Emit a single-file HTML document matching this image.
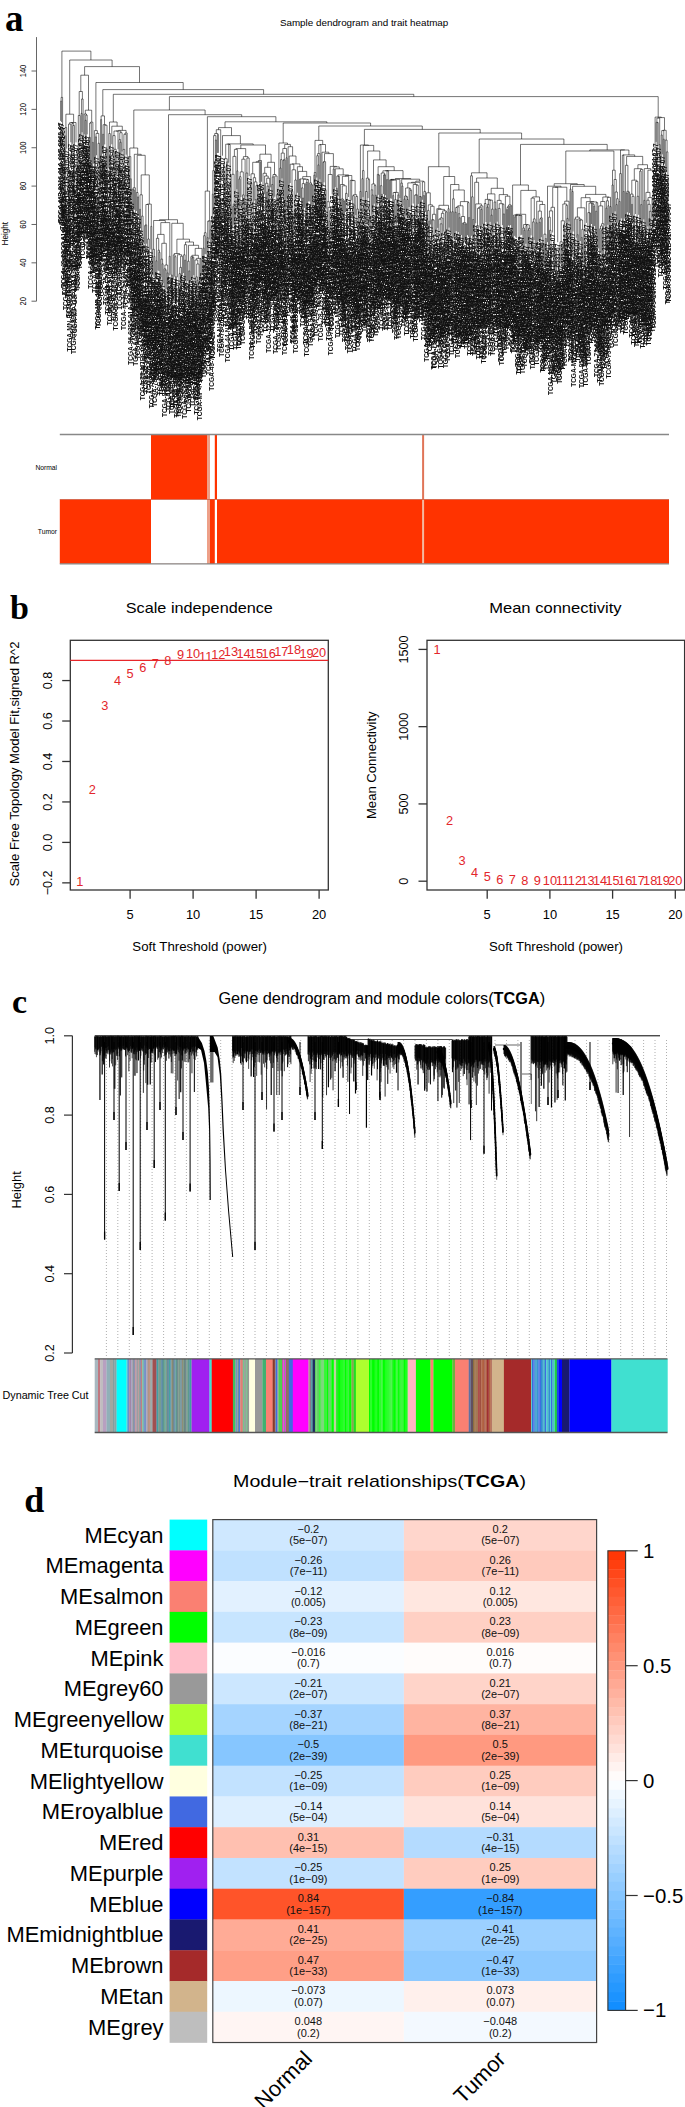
<!DOCTYPE html>
<html><head><meta charset="utf-8"><style>
html,body{margin:0;padding:0;background:#fff;width:685px;height:2107px;overflow:hidden}
svg{display:block}
text{font-family:"Liberation Sans",sans-serif}
</style></head><body>
<svg width="685" height="2107" viewBox="0 0 685 2107">
<rect x="0" y="0" width="685" height="2107" fill="#fff"/>
<text x="5" y="31.4" font-size="37" font-weight="bold" style="font-family:'Liberation Serif'">a</text>
<text x="10" y="618.6" font-size="34" font-weight="bold" style="font-family:'Liberation Serif'">b</text>
<text x="12" y="1012.6" font-size="34" font-weight="bold" style="font-family:'Liberation Serif'">c</text>
<text x="24.2" y="1511.9" font-size="36" font-weight="bold" style="font-family:'Liberation Serif'">d</text>
<text x="279.9" y="26.3" font-size="9.8" textLength="168.4" lengthAdjust="spacingAndGlyphs">Sample dendrogram and trait heatmap</text>
<line x1="36.5" y1="37.1" x2="36.5" y2="301.2" stroke="#555" stroke-width="0.9"/>
<line x1="31.5" y1="301.2" x2="36.5" y2="301.2" stroke="#555" stroke-width="0.9"/>
<text transform="translate(26.2,301.2) rotate(-90)" font-size="9" text-anchor="middle" textLength="8.44" lengthAdjust="spacingAndGlyphs">20</text>
<line x1="31.5" y1="262.83" x2="36.5" y2="262.83" stroke="#555" stroke-width="0.9"/>
<text transform="translate(26.2,262.83) rotate(-90)" font-size="9" text-anchor="middle" textLength="8.44" lengthAdjust="spacingAndGlyphs">40</text>
<line x1="31.5" y1="224.47" x2="36.5" y2="224.47" stroke="#555" stroke-width="0.9"/>
<text transform="translate(26.2,224.47) rotate(-90)" font-size="9" text-anchor="middle" textLength="8.44" lengthAdjust="spacingAndGlyphs">60</text>
<line x1="31.5" y1="186.1" x2="36.5" y2="186.1" stroke="#555" stroke-width="0.9"/>
<text transform="translate(26.2,186.1) rotate(-90)" font-size="9" text-anchor="middle" textLength="8.44" lengthAdjust="spacingAndGlyphs">80</text>
<line x1="31.5" y1="147.74" x2="36.5" y2="147.74" stroke="#555" stroke-width="0.9"/>
<text transform="translate(26.2,147.74) rotate(-90)" font-size="9" text-anchor="middle" textLength="12.66" lengthAdjust="spacingAndGlyphs">100</text>
<line x1="31.5" y1="109.37" x2="36.5" y2="109.37" stroke="#555" stroke-width="0.9"/>
<text transform="translate(26.2,109.37) rotate(-90)" font-size="9" text-anchor="middle" textLength="12.66" lengthAdjust="spacingAndGlyphs">120</text>
<line x1="31.5" y1="71" x2="36.5" y2="71" stroke="#555" stroke-width="0.9"/>
<text transform="translate(26.2,71) rotate(-90)" font-size="9" text-anchor="middle" textLength="12.66" lengthAdjust="spacingAndGlyphs">140</text>
<text transform="translate(7.7,233.7) rotate(-90)" font-size="8.4" text-anchor="middle" textLength="23.6" lengthAdjust="spacingAndGlyphs">Height</text>
<rect x="59.8" y="499.5" width="609.2" height="64.3" fill="#ff3300"/>
<rect x="151" y="434.5" width="56" height="65" fill="#ff3300"/>
<rect x="151" y="499.5" width="56" height="64.3" fill="#fff"/>
<rect x="207" y="434.5" width="3" height="129.3" fill="#eea088"/>
<rect x="214.8" y="434.5" width="2.2" height="65" fill="#ff3300"/>
<rect x="210" y="499.5" width="4.8" height="64.3" fill="#ff3300"/>
<rect x="214.8" y="499.5" width="2.2" height="64.3" fill="#fff"/>
<rect x="422.1" y="434.5" width="2" height="65" fill="#e07558"/>
<rect x="422.1" y="499.5" width="2" height="64.3" fill="#f4b9a0"/>
<line x1="59.8" y1="434.5" x2="669" y2="434.5" stroke="#888" stroke-width="1.3"/>
<line x1="59.8" y1="563.8" x2="669" y2="563.8" stroke="#888" stroke-width="1.3"/>
<line x1="59.8" y1="499.5" x2="669" y2="499.5" stroke="#b03a20" stroke-width="0.5"/>
<text x="57" y="470" font-size="6.8" text-anchor="end" textLength="21.6" lengthAdjust="spacingAndGlyphs">Normal</text>
<text x="57" y="534.3" font-size="6.8" text-anchor="end" textLength="19.2" lengthAdjust="spacingAndGlyphs">Tumor</text>
<path d="M60.6 101.1H61.6M61.1 97.4H62.6M63.7 167.5H64.7M64.2 135.9H65.7M65.0 127.6H66.7M68.8 185.5H69.8M67.8 167.3H69.3M68.5 124.1H70.8M73.9 167.6H74.9M72.9 125.5H74.4M71.9 123.6H73.7M69.7 122.6H72.8M71.2 122.5H76.0M65.9 114.2H73.6M77.0 149.7H78.0M77.5 148.1H79.0M78.3 115.5H80.1M81.1 113.4H82.1M81.6 99.0H83.1M79.2 91.5H82.4M85.2 120.3H86.2M85.7 115.1H87.2M84.2 114.0H86.5M88.3 139.1H89.3M88.8 137.4H90.3M89.6 123.1H91.3M92.4 142.4H93.4M90.5 122.2H92.9M85.3 110.2H91.7M80.8 75.2H88.5M95.4 136.9H96.5M97.5 207.4H98.5M98.0 143.3H99.5M96.0 133.4H98.8M94.4 130.6H97.4M100.6 119.6H101.6M102.6 134.3H103.6M105.7 149.4H106.7M106.2 149.3H107.7M104.7 125.2H107.0M103.1 124.7H105.8M101.1 115.9H104.5M109.8 154.1H110.8M108.8 133.5H110.3M114.9 151.7H115.9M115.4 151.5H117.0M113.9 149.3H116.2M112.9 135.6H115.1M114.0 131.0H118.0M120.0 142.2H121.1M119.0 139.6H120.6M119.8 132.7H122.1M116.0 131.0H120.9M124.1 170.1H125.2M123.1 149.4H124.7M123.9 134.3H126.2M125.0 133.0H127.2M118.5 130.4H126.1M111.8 126.2H122.3M109.5 122.0H117.1M128.2 157.0H129.3M130.3 178.8H131.3M128.8 156.6H130.8M133.4 190.2H134.4M132.3 189.3H133.9M133.1 187.8H135.4M137.5 196.9H138.5M136.4 192.5H138.0M139.5 209.3H140.5M142.6 262.2H143.6M141.6 216.1H143.1M140.0 194.8H142.3M144.6 225.7H145.7M145.2 224.9H146.7M148.7 260.2H149.8M147.7 239.0H149.3M145.9 204.5H148.5M150.8 226.4H151.8M147.2 204.1H151.3M141.2 174.9H149.3M137.2 155.3H145.2M134.3 154.3H141.2M129.8 148.0H137.7M153.9 256.5H154.9M152.8 249.3H154.4M155.9 260.8H156.9M159.0 252.2H160.0M158.0 250.2H159.5M156.4 238.3H158.7M162.1 263.8H163.1M161.0 259.1H162.6M165.1 269.9H166.2M164.1 268.8H165.7M167.2 272.9H168.2M164.9 265.0H167.7M161.8 243.3H166.3M157.6 234.4H164.1M169.2 256.3H170.3M160.8 222.6H169.8M153.6 220.5H165.3M171.3 275.0H172.3M175.4 276.7H176.4M174.4 256.7H175.9M173.3 254.9H175.1M178.5 287.4H179.5M179.0 273.7H180.5M179.8 267.4H181.5M180.6 256.2H182.6M177.4 254.7H181.6M174.2 253.5H179.5M184.6 260.2H185.6M183.6 254.8H185.1M184.4 244.7H186.7M188.7 270.9H189.7M187.7 261.2H189.2M191.8 257.9H192.8M192.3 257.2H193.8M190.8 256.7H193.1M196.9 280.3H197.9M195.9 276.9H197.4M196.7 264.0H199.0M194.9 260.0H197.8M200.0 258.7H201.0M196.3 258.4H200.5M191.9 255.3H198.4M195.2 248.4H202.0M188.5 245.3H198.6M185.5 242.0H193.5M176.9 239.2H189.5M171.8 223.3H183.2M159.5 219.7H177.5M203.1 248.1H204.1M203.6 235.7H205.1M204.4 232.7H206.1M207.2 237.7H208.2M207.7 221.1H209.2M210.2 229.8H211.3M208.5 220.9H210.8M205.2 191.1H209.6M212.3 194.2H213.3M212.8 170.6H214.3M215.4 140.0H216.4M213.6 135.6H215.9M217.4 134.6H218.4M214.7 133.5H217.9M219.5 203.5H220.5M220.0 202.3H221.5M216.3 129.7H220.7M224.6 178.5H225.6M223.6 166.6H225.1M226.6 161.9H227.7M224.3 158.7H227.2M229.7 184.1H230.7M228.7 144.5H230.2M225.7 144.2H229.5M232.8 206.4H233.8M233.3 204.1H234.8M231.8 174.3H234.1M232.9 156.4H235.9M236.9 170.9H237.9M234.4 149.4H237.4M238.9 178.9H240.0M239.5 176.7H241.0M242.0 200.3H243.0M242.5 194.9H244.1M240.2 171.9H243.3M241.8 159.2H245.1M247.1 194.9H248.2M246.1 173.0H247.7M246.9 158.0H249.2M243.4 156.6H248.0M235.9 148.6H245.7M251.2 225.2H252.3M250.2 183.1H251.8M255.3 199.5H256.4M257.4 186.0H258.4M255.9 185.6H257.9M254.3 181.9H256.9M253.3 177.7H255.6M251.0 173.8H254.4M252.7 162.3H259.4M256.1 161.7H260.5M258.3 160.5H261.5M262.5 192.0H263.5M266.6 192.0H267.6M267.1 186.1H268.7M265.6 183.3H267.9M266.7 178.2H269.7M264.6 176.0H268.2M263.0 173.3H266.4M264.7 167.3H270.7M271.7 184.5H272.8M272.3 176.9H273.8M275.8 211.8H276.9M276.4 194.7H277.9M274.8 176.0H277.1M273.0 174.5H276.0M267.7 162.3H274.5M259.9 154.2H271.1M240.8 145.0H265.5M227.6 143.9H253.2M222.5 135.6H240.4M218.5 127.6H231.5M279.9 168.0H281.0M280.5 159.6H282.0M283.0 160.1H284.0M283.5 159.8H285.1M281.2 153.1H284.3M286.1 157.8H287.1M282.8 148.5H286.6M292.2 217.0H293.3M291.2 191.2H292.8M294.3 209.7H295.3M294.8 180.0H296.3M292.0 169.8H295.6M290.2 164.2H293.8M299.4 179.4H300.4M302.5 198.0H303.5M301.5 187.9H303.0M302.2 183.6H304.5M305.6 183.8H306.6M306.1 182.4H307.6M306.8 179.6H308.6M303.4 179.2H307.7M299.9 178.9H305.6M311.7 185.4H312.7M310.7 184.4H312.2M309.7 182.9H311.5M302.7 176.6H310.6M298.4 171.4H306.7M297.4 166.7H302.5M292.0 163.9H299.9M289.2 156.0H296.0M288.1 146.7H292.6M284.7 144.4H290.4M278.9 143.0H287.5M313.8 175.2H314.8M314.3 172.5H315.8M317.9 164.9H318.9M316.8 155.7H318.4M317.6 153.6H319.9M318.8 144.8H320.9M323.0 162.2H324.0M325.0 189.8H326.1M323.5 161.7H325.6M329.1 221.4H330.2M329.7 210.6H331.2M328.1 207.4H330.4M327.1 201.7H329.3M328.2 174.5H332.2M333.2 169.0H334.3M336.3 188.3H337.3M338.4 176.4H339.4M336.8 176.1H338.9M343.5 201.0H344.5M342.5 199.9H344.0M341.4 198.9H343.2M346.6 221.0H347.6M345.5 193.4H347.1M342.3 185.8H346.3M340.4 184.5H344.3M342.4 176.3H348.6M349.6 217.9H350.7M353.7 205.1H354.8M352.7 195.7H354.3M357.8 222.2H358.9M356.8 209.1H358.4M355.8 196.5H357.6M353.5 194.7H356.7M351.7 180.6H355.1M350.2 180.3H353.4M345.5 175.5H351.8M337.9 174.9H348.6M335.3 168.8H343.2M333.8 166.9H339.3M330.2 166.4H336.5M324.5 153.6H333.4M322.0 152.2H328.9M319.9 144.5H325.5M315.0 140.4H322.7M359.9 191.4H360.9M361.9 178.7H363.0M362.5 170.6H364.0M365.0 200.7H366.0M365.5 191.5H367.1M369.1 216.2H370.1M368.1 179.6H369.6M366.3 178.2H368.9M372.2 194.9H373.2M371.2 189.8H372.7M375.3 195.3H376.3M374.2 185.6H375.8M371.9 184.0H375.0M378.3 175.0H379.4M377.3 174.4H378.8M381.4 194.4H382.4M380.4 185.7H381.9M383.5 174.9H384.5M384.0 174.8H385.5M381.2 173.0H384.7M386.5 179.6H387.6M387.0 170.8H388.6M382.9 170.8H387.8M392.7 195.6H393.7M395.8 204.3H396.8M394.7 199.6H396.3M393.2 192.5H395.5M397.8 194.9H398.8M394.4 192.4H398.3M391.7 180.1H396.3M390.6 179.8H394.0M389.6 179.8H392.3M391.0 179.4H399.9M401.9 186.1H402.9M400.9 183.1H402.4M404.0 199.1H405.0M407.0 199.5H408.1M406.0 196.7H407.5M404.5 196.1H406.8M411.1 214.1H412.2M410.1 190.4H411.6M409.1 188.9H410.9M405.6 188.0H410.0M414.2 212.2H415.2M414.7 195.0H416.3M415.5 194.8H417.3M416.4 185.2H418.3M413.2 184.5H417.3M407.8 182.9H415.3M420.4 196.8H421.4M419.3 196.5H420.9M411.5 182.3H420.1M423.4 195.6H424.5M423.9 191.4H425.5M422.4 181.8H424.7M415.8 181.1H423.6M401.7 179.2H419.7M395.4 178.5H410.7M385.4 170.6H403.0M378.1 166.7H394.2M373.5 159.9H386.1M367.6 151.0H379.8M363.2 145.4H373.7M360.4 145.0H368.5M428.6 221.2H429.6M427.5 210.4H429.1M433.7 247.7H434.7M432.7 219.9H434.2M431.6 219.7H433.4M432.5 214.3H435.7M430.6 206.3H434.1M428.3 204.8H432.4M426.5 192.8H430.3M439.8 239.5H440.9M440.3 223.8H441.9M438.8 219.2H441.1M440.0 218.0H442.9M441.4 213.3H443.9M445.0 231.6H446.0M445.5 211.9H447.0M442.7 210.8H446.2M437.8 209.4H444.5M436.8 208.7H441.1M448.0 208.7H449.1M438.9 205.3H448.5M450.1 211.9H451.1M452.1 211.7H453.2M452.6 198.8H454.2M455.2 212.2H456.2M455.7 207.5H457.3M459.3 217.7H460.3M458.3 213.7H459.8M456.5 206.9H459.1M463.4 224.3H464.4M462.4 223.2H463.9M465.5 223.9H466.5M463.2 222.8H466.0M461.4 216.5H464.6M457.8 205.8H463.0M468.5 217.6H469.6M467.5 202.6H469.0M460.4 201.6H468.3M453.4 190.0H464.3M450.6 184.5H458.9M443.7 176.5H454.7M428.4 166.7H449.2M472.6 219.5H473.7M471.6 196.8H473.1M470.6 175.8H472.4M477.8 232.8H478.8M476.7 225.5H478.3M477.5 208.3H479.8M480.8 209.4H481.9M478.7 207.3H481.3M480.0 205.9H482.9M475.7 203.9H481.4M474.7 182.3H478.6M483.9 234.2H484.9M484.4 203.5H486.0M487.0 207.0H488.0M487.5 204.3H489.0M491.1 215.1H492.1M491.6 209.1H493.1M490.1 200.1H492.4M488.3 200.1H491.2M485.2 199.4H489.7M495.2 209.0H496.2M494.2 202.0H495.7M487.5 193.9H494.9M500.3 239.2H501.3M499.3 227.0H500.8M498.3 208.4H500.1M503.4 213.9H504.4M502.4 204.2H503.9M499.2 203.7H503.1M497.2 200.4H501.1M506.5 209.6H507.5M507.0 207.4H508.5M507.7 206.3H509.5M510.6 205.8H511.6M508.6 204.9H511.1M505.4 196.2H509.9M499.2 194.6H507.6M491.2 188.3H503.4M476.6 178.0H497.3M471.5 172.8H487.0M514.7 216.8H515.7M515.2 215.7H516.7M517.7 247.4H518.8M518.2 244.4H519.8M520.8 215.6H521.8M519.0 215.4H521.3M515.9 215.2H520.2M513.6 215.0H518.1M523.9 230.2H524.9M522.9 228.0H524.4M525.9 225.7H527.0M528.0 230.0H529.0M528.5 228.3H530.0M526.4 224.8H529.3M523.6 224.5H527.9M515.8 214.3H525.7M532.1 237.5H533.1M532.6 221.9H534.1M533.4 218.9H535.2M531.1 198.1H534.3M536.2 222.8H537.2M539.3 222.3H540.3M539.8 218.8H541.3M540.5 217.9H542.3M538.2 211.1H541.4M543.4 243.8H544.4M545.4 238.5H546.4M543.9 234.2H545.9M539.8 204.5H544.9M536.7 201.3H542.4M532.7 196.9H539.5M520.8 190.4H536.1M512.6 185.0H528.4M550.5 246.8H551.6M549.5 230.3H551.0M548.5 217.2H550.3M549.4 210.9H552.6M555.7 249.9H556.7M554.6 248.9H556.2M553.6 247.8H555.4M551.0 207.3H554.5M552.7 187.3H557.7M558.7 254.4H559.8M559.2 245.6H560.8M561.8 247.3H562.8M560.0 241.8H562.3M563.9 223.9H564.9M561.2 220.8H564.4M566.9 218.4H568.0M565.9 205.3H567.4M562.8 204.0H566.7M564.7 201.2H569.0M555.2 187.2H566.8M547.5 186.2H561.0M570.0 189.1H571.0M572.1 191.5H573.1M574.1 238.9H575.1M574.6 218.9H576.2M577.2 234.7H578.2M579.2 220.1H580.3M581.3 237.5H582.3M581.8 229.3H583.3M579.7 220.0H582.6M577.7 219.0H581.2M575.4 217.1H579.4M584.4 248.8H585.4M577.4 207.8H584.9M587.4 236.7H588.5M589.5 213.2H590.5M587.9 212.6H590.0M593.6 206.1H594.6M592.6 204.2H594.1M591.5 203.3H593.3M589.0 203.1H592.4M595.6 211.2H596.7M596.1 202.7H597.7M590.7 201.9H596.9M586.4 201.6H593.8M581.1 197.7H590.1M600.8 230.6H601.8M599.7 228.8H601.3M600.5 226.0H602.8M601.6 223.7H603.8M598.7 205.9H602.7M600.7 201.5H604.9M605.9 208.1H606.9M607.9 205.8H609.0M606.4 200.8H608.4M610.0 206.6H611.0M607.4 197.3H610.5M602.8 197.0H609.0M585.6 194.4H605.9M572.6 186.3H595.7M570.5 184.5H584.2M554.2 183.7H577.3M612.0 185.0H613.1M616.1 204.6H617.2M616.6 198.7H618.2M615.1 192.0H617.4M614.1 179.5H616.3M612.5 170.2H615.2M565.8 151.0H613.9M619.2 201.5H620.2M619.7 173.6H621.3M623.3 191.5H624.3M622.3 155.2H623.8M626.4 193.0H627.4M628.4 192.2H629.5M626.9 191.3H628.9M625.4 165.3H627.9M631.5 204.4H632.5M633.6 216.7H634.6M632.0 196.3H634.1M630.5 194.1H633.0M636.6 224.8H637.7M637.1 196.3H638.7M635.6 181.4H637.9M631.8 180.2H636.8M640.7 204.6H641.8M639.7 171.1H641.2M640.5 169.4H642.8M634.3 168.7H641.6M643.8 200.4H644.8M648.9 218.6H650.0M649.4 211.3H651.0M647.9 204.3H650.2M646.9 200.2H649.1M648.0 197.6H652.0M645.9 192.4H650.0M653.0 189.0H654.1M647.9 170.2H653.5M644.3 168.6H650.7M637.9 164.7H647.5M626.6 156.4H642.7M623.0 154.9H634.7M620.5 150.0H628.9M589.8 149.9H624.7M520.5 144.4H607.2M479.2 139.0H563.9M438.8 133.0H521.6M364.4 129.4H480.2M318.8 126.0H422.3M283.2 123.0H370.6M225.0 121.8H326.9M207.4 116.7H275.9M168.5 114.7H241.7M133.8 110.0H205.1M657.1 122.6H658.2M656.1 122.3H657.6M659.2 144.6H660.2M656.9 118.1H659.7M661.2 135.0H662.3M663.3 139.2H664.3M661.7 130.6H663.8M667.4 180.0H668.4M666.4 151.9H667.9M665.3 140.1H667.1M662.8 130.3H666.2M658.3 117.6H664.5M655.1 117.1H661.4M169.4 96.6H658.2M113.3 94.3H413.8M102.8 89.6H263.6M95.9 82.5H183.2M84.6 66.6H139.5M69.7 60.0H112.1M61.9 51.1H90.9M60.6 101.1V120.9M61.6 101.1V122.1M61.1 97.4V101.1M62.6 97.4V125.0M63.7 167.5V186.5M64.7 167.5V194.1M64.2 135.9V167.5M65.7 135.9V208.3M65.0 127.6V135.9M66.7 127.6V148.6M68.8 185.5V217.7M69.8 185.5V247.7M67.8 167.3V197.0M69.3 167.3V185.5M68.5 124.1V167.3M70.8 124.1V142.3M73.9 167.6V252.9M74.9 167.6V232.6M72.9 125.5V143.8M74.4 125.5V167.6M71.9 123.6V168.4M73.7 123.6V125.5M69.7 122.6V124.1M72.8 122.6V123.6M71.2 122.5V122.6M76.0 122.5V142.4M65.9 114.2V127.6M73.6 114.2V122.5M77.0 149.7V189.4M78.0 149.7V188.9M77.5 148.1V149.7M79.0 148.1V166.4M78.3 115.5V148.1M80.1 115.5V164.4M81.1 113.4V137.4M82.1 113.4V132.3M81.6 99.0V113.4M83.1 99.0V160.1M79.2 91.5V115.5M82.4 91.5V99.0M85.2 120.3V140.5M86.2 120.3V143.7M85.7 115.1V120.3M87.2 115.1V134.4M84.2 114.0V134.4M86.5 114.0V115.1M88.3 139.1V158.5M89.3 139.1V157.4M88.8 137.4V139.1M90.3 137.4V188.5M89.6 123.1V137.4M91.3 123.1V164.0M92.4 142.4V173.7M93.4 142.4V163.7M90.5 122.2V123.1M92.9 122.2V142.4M85.3 110.2V114.0M91.7 110.2V122.2M80.8 75.2V91.5M88.5 75.2V110.2M95.4 136.9V169.9M96.5 136.9V155.3M97.5 207.4V225.8M98.5 207.4V225.8M98.0 143.3V207.4M99.5 143.3V209.1M96.0 133.4V136.9M98.8 133.4V143.3M94.4 130.6V189.1M97.4 130.6V133.4M100.6 119.6V195.6M101.6 119.6V160.0M102.6 134.3V153.8M103.6 134.3V158.6M105.7 149.4V203.2M106.7 149.4V168.7M106.2 149.3V149.4M107.7 149.3V212.3M104.7 125.2V144.5M107.0 125.2V149.3M103.1 124.7V134.3M105.8 124.7V125.2M101.1 115.9V119.6M104.5 115.9V124.7M109.8 154.1V225.0M110.8 154.1V213.3M108.8 133.5V168.2M110.3 133.5V154.1M114.9 151.7V177.5M115.9 151.7V229.3M115.4 151.5V151.7M117.0 151.5V171.9M113.9 149.3V221.0M116.2 149.3V151.5M112.9 135.6V155.9M115.1 135.6V149.3M114.0 131.0V135.6M118.0 131.0V149.3M120.0 142.2V208.9M121.1 142.2V163.1M119.0 139.6V193.7M120.6 139.6V142.2M119.8 132.7V139.6M122.1 132.7V151.5M116.0 131.0V131.0M120.9 131.0V132.7M124.1 170.1V229.9M125.2 170.1V208.4M123.1 149.4V168.7M124.7 149.4V170.1M123.9 134.3V149.4M126.2 134.3V154.7M125.0 133.0V134.3M127.2 133.0V163.5M118.5 130.4V131.0M126.1 130.4V133.0M111.8 126.2V144.3M122.3 126.2V130.4M109.5 122.0V133.5M117.1 122.0V126.2M128.2 157.0V186.3M129.3 157.0V186.5M130.3 178.8V264.9M131.3 178.8V200.6M128.8 156.6V157.0M130.8 156.6V178.8M133.4 190.2V230.2M134.4 190.2V209.8M132.3 189.3V239.9M133.9 189.3V190.2M133.1 187.8V189.3M135.4 187.8V264.2M137.5 196.9V258.1M138.5 196.9V215.9M136.4 192.5V211.2M138.0 192.5V196.9M139.5 209.3V241.2M140.5 209.3V227.7M142.6 262.2V298.0M143.6 262.2V282.9M141.6 216.1V234.3M143.1 216.1V262.2M140.0 194.8V209.3M142.3 194.8V216.1M144.6 225.7V244.3M145.7 225.7V292.7M145.2 224.9V225.7M146.7 224.9V243.7M148.7 260.2V293.5M149.8 260.2V278.8M147.7 239.0V257.6M149.3 239.0V260.2M145.9 204.5V224.9M148.5 204.5V239.0M150.8 226.4V249.5M151.8 226.4V307.1M147.2 204.1V204.5M151.3 204.1V226.4M141.2 174.9V194.8M149.3 174.9V204.1M137.2 155.3V192.5M145.2 155.3V174.9M134.3 154.3V187.8M141.2 154.3V155.3M129.8 148.0V156.6M137.7 148.0V154.3M153.9 256.5V276.8M154.9 256.5V304.0M152.8 249.3V274.8M154.4 249.3V256.5M155.9 260.8V280.3M156.9 260.8V278.9M159.0 252.2V271.1M160.0 252.2V293.6M158.0 250.2V270.5M159.5 250.2V252.2M156.4 238.3V260.8M158.7 238.3V250.2M162.1 263.8V294.9M163.1 263.8V283.2M161.0 259.1V277.1M162.6 259.1V263.8M165.1 269.9V316.4M166.2 269.9V289.1M164.1 268.8V287.3M165.7 268.8V269.9M167.2 272.9V294.0M168.2 272.9V310.9M164.9 265.0V268.8M167.7 265.0V272.9M161.8 243.3V259.1M166.3 243.3V265.0M157.6 234.4V238.3M164.1 234.4V243.3M169.2 256.3V275.7M170.3 256.3V274.8M160.8 222.6V234.4M169.8 222.6V256.3M153.6 220.5V249.3M165.3 220.5V222.6M171.3 275.0V313.8M172.3 275.0V308.4M175.4 276.7V304.1M176.4 276.7V316.2M174.4 256.7V276.7M175.9 256.7V276.7M173.3 254.9V278.9M175.1 254.9V256.7M178.5 287.4V317.0M179.5 287.4V312.9M179.0 273.7V287.4M180.5 273.7V297.0M179.8 267.4V273.7M181.5 267.4V287.8M180.6 256.2V267.4M182.6 256.2V274.7M177.4 254.7V277.3M181.6 254.7V256.2M174.2 253.5V254.9M179.5 253.5V254.7M184.6 260.2V318.2M185.6 260.2V280.1M183.6 254.8V273.0M185.1 254.8V260.2M184.4 244.7V254.8M186.7 244.7V303.2M188.7 270.9V310.2M189.7 270.9V297.6M187.7 261.2V281.1M189.2 261.2V270.9M191.8 257.9V278.4M192.8 257.9V304.7M192.3 257.2V257.9M193.8 257.2V275.2M190.8 256.7V283.0M193.1 256.7V257.2M196.9 280.3V312.6M197.9 280.3V299.4M195.9 276.9V296.3M197.4 276.9V280.3M196.7 264.0V276.9M199.0 264.0V283.5M194.9 260.0V280.8M197.8 260.0V264.0M200.0 258.7V316.8M201.0 258.7V280.7M196.3 258.4V260.0M200.5 258.4V258.7M191.9 255.3V256.7M198.4 255.3V258.4M195.2 248.4V255.3M202.0 248.4V275.1M188.5 245.3V261.2M198.6 245.3V248.4M185.5 242.0V244.7M193.5 242.0V245.3M176.9 239.2V253.5M189.5 239.2V242.0M171.8 223.3V275.0M183.2 223.3V239.2M159.5 219.7V220.5M177.5 219.7V223.3M203.1 248.1V271.4M204.1 248.1V276.7M203.6 235.7V248.1M205.1 235.7V254.1M204.4 232.7V235.7M206.1 232.7V254.5M207.2 237.7V261.1M208.2 237.7V271.5M207.7 221.1V237.7M209.2 221.1V239.4M210.2 229.8V249.3M211.3 229.8V290.6M208.5 220.9V221.1M210.8 220.9V229.8M205.2 191.1V232.7M209.6 191.1V220.9M212.3 194.2V259.1M213.3 194.2V214.3M212.8 170.6V194.2M214.3 170.6V219.0M215.4 140.0V205.7M216.4 140.0V159.6M213.6 135.6V170.6M215.9 135.6V140.0M217.4 134.6V153.0M218.4 134.6V152.9M214.7 133.5V135.6M217.9 133.5V134.6M219.5 203.5V249.0M220.5 203.5V221.6M220.0 202.3V203.5M221.5 202.3V256.3M216.3 129.7V133.5M220.7 129.7V202.3M224.6 178.5V197.0M225.6 178.5V226.3M223.6 166.6V214.4M225.1 166.6V178.5M226.6 161.9V181.2M227.7 161.9V261.0M224.3 158.7V166.6M227.2 158.7V161.9M229.7 184.1V205.9M230.7 184.1V228.0M228.7 144.5V162.7M230.2 144.5V184.1M225.7 144.2V158.7M229.5 144.2V144.5M232.8 206.4V228.4M233.8 206.4V224.7M233.3 204.1V206.4M234.8 204.1V235.3M231.8 174.3V248.1M234.1 174.3V204.1M232.9 156.4V174.3M235.9 156.4V250.0M236.9 170.9V189.3M237.9 170.9V223.5M234.4 149.4V156.4M237.4 149.4V170.9M238.9 178.9V248.4M240.0 178.9V244.9M239.5 176.7V178.9M241.0 176.7V197.1M242.0 200.3V235.9M243.0 200.3V244.2M242.5 194.9V200.3M244.1 194.9V213.3M240.2 171.9V176.7M243.3 171.9V194.9M241.8 159.2V171.9M245.1 159.2V218.9M247.1 194.9V215.3M248.2 194.9V218.1M246.1 173.0V196.3M247.7 173.0V194.9M246.9 158.0V173.0M249.2 158.0V176.1M243.4 156.6V159.2M248.0 156.6V158.0M235.9 148.6V149.4M245.7 148.6V156.6M251.2 225.2V258.9M252.3 225.2V246.6M250.2 183.1V221.7M251.8 183.1V225.2M255.3 199.5V232.2M256.4 199.5V217.9M257.4 186.0V206.2M258.4 186.0V242.8M255.9 185.6V199.5M257.9 185.6V186.0M254.3 181.9V200.6M256.9 181.9V185.6M253.3 177.7V231.1M255.6 177.7V181.9M251.0 173.8V183.1M254.4 173.8V177.7M252.7 162.3V173.8M259.4 162.3V182.8M256.1 161.7V162.3M260.5 161.7V234.5M258.3 160.5V161.7M261.5 160.5V181.8M262.5 192.0V221.6M263.5 192.0V211.9M266.6 192.0V214.4M267.6 192.0V224.1M267.1 186.1V192.0M268.7 186.1V251.1M265.6 183.3V230.8M267.9 183.3V186.1M266.7 178.2V183.3M269.7 178.2V198.7M264.6 176.0V194.3M268.2 176.0V178.2M263.0 173.3V192.0M266.4 173.3V176.0M264.7 167.3V173.3M270.7 167.3V187.4M271.7 184.5V202.6M272.8 184.5V230.6M272.3 176.9V184.5M273.8 176.9V197.9M275.8 211.8V250.0M276.9 211.8V230.2M276.4 194.7V211.8M277.9 194.7V214.8M274.8 176.0V196.7M277.1 176.0V194.7M273.0 174.5V176.9M276.0 174.5V176.0M267.7 162.3V167.3M274.5 162.3V174.5M259.9 154.2V160.5M271.1 154.2V162.3M240.8 145.0V148.6M265.5 145.0V154.2M227.6 143.9V144.2M253.2 143.9V145.0M222.5 135.6V155.7M240.4 135.6V143.9M218.5 127.6V129.7M231.5 127.6V135.6M279.9 168.0V187.1M281.0 168.0V221.9M280.5 159.6V168.0M282.0 159.6V178.4M283.0 160.1V199.1M284.0 160.1V238.1M283.5 159.8V160.1M285.1 159.8V250.2M281.2 153.1V159.6M284.3 153.1V159.8M286.1 157.8V246.3M287.1 157.8V198.1M282.8 148.5V153.1M286.6 148.5V157.8M292.2 217.0V241.7M293.3 217.0V242.9M291.2 191.2V210.4M292.8 191.2V217.0M294.3 209.7V230.4M295.3 209.7V252.3M294.8 180.0V209.7M296.3 180.0V198.1M292.0 169.8V191.2M295.6 169.8V180.0M290.2 164.2V183.1M293.8 164.2V169.8M299.4 179.4V200.9M300.4 179.4V198.5M302.5 198.0V226.3M303.5 198.0V217.9M301.5 187.9V211.3M303.0 187.9V198.0M302.2 183.6V187.9M304.5 183.6V207.9M305.6 183.8V242.2M306.6 183.8V252.5M306.1 182.4V183.8M307.6 182.4V218.1M306.8 179.6V182.4M308.6 179.6V201.5M303.4 179.2V183.6M307.7 179.2V179.6M299.9 178.9V179.4M305.6 178.9V179.2M311.7 185.4V204.2M312.7 185.4V235.0M310.7 184.4V244.5M312.2 184.4V185.4M309.7 182.9V201.5M311.5 182.9V184.4M302.7 176.6V178.9M310.6 176.6V182.9M298.4 171.4V211.6M306.7 171.4V176.6M297.4 166.7V192.8M302.5 166.7V171.4M292.0 163.9V164.2M299.9 163.9V166.7M289.2 156.0V194.3M296.0 156.0V163.9M288.1 146.7V216.4M292.6 146.7V156.0M284.7 144.4V148.5M290.4 144.4V146.7M278.9 143.0V248.1M287.5 143.0V144.4M313.8 175.2V215.2M314.8 175.2V193.8M314.3 172.5V175.2M315.8 172.5V236.6M317.9 164.9V183.6M318.9 164.9V206.9M316.8 155.7V177.6M318.4 155.7V164.9M317.6 153.6V155.7M319.9 153.6V179.4M318.8 144.8V153.6M320.9 144.8V241.0M323.0 162.2V186.5M324.0 162.2V182.4M325.0 189.8V223.4M326.1 189.8V208.7M323.5 161.7V162.2M325.6 161.7V189.8M329.1 221.4V240.0M330.2 221.4V254.0M329.7 210.6V221.4M331.2 210.6V229.6M328.1 207.4V226.4M330.4 207.4V210.6M327.1 201.7V224.0M329.3 201.7V207.4M328.2 174.5V201.7M332.2 174.5V194.4M333.2 169.0V213.4M334.3 169.0V194.2M336.3 188.3V214.2M337.3 188.3V233.3M338.4 176.4V196.2M339.4 176.4V202.0M336.8 176.1V188.3M338.9 176.1V176.4M343.5 201.0V226.8M344.5 201.0V237.9M342.5 199.9V219.7M344.0 199.9V201.0M341.4 198.9V232.7M343.2 198.9V199.9M346.6 221.0V241.1M347.6 221.0V250.3M345.5 193.4V212.1M347.1 193.4V221.0M342.3 185.8V198.9M346.3 185.8V193.4M340.4 184.5V207.0M344.3 184.5V185.8M342.4 176.3V184.5M348.6 176.3V197.0M349.6 217.9V252.5M350.7 217.9V236.4M353.7 205.1V230.2M354.8 205.1V251.0M352.7 195.7V218.6M354.3 195.7V205.1M357.8 222.2V249.0M358.9 222.2V243.1M356.8 209.1V227.2M358.4 209.1V222.2M355.8 196.5V215.1M357.6 196.5V209.1M353.5 194.7V195.7M356.7 194.7V196.5M351.7 180.6V200.4M355.1 180.6V194.7M350.2 180.3V217.9M353.4 180.3V180.6M345.5 175.5V176.3M351.8 175.5V180.3M337.9 174.9V176.1M348.6 174.9V175.5M335.3 168.8V187.3M343.2 168.8V174.9M333.8 166.9V169.0M339.3 166.9V168.8M330.2 166.4V174.5M336.5 166.4V166.9M324.5 153.6V161.7M333.4 153.6V166.4M322.0 152.2V191.9M328.9 152.2V153.6M319.9 144.5V144.8M325.5 144.5V152.2M315.0 140.4V172.5M322.7 140.4V144.5M359.9 191.4V239.2M360.9 191.4V209.7M361.9 178.7V220.5M363.0 178.7V197.2M362.5 170.6V178.7M364.0 170.6V224.8M365.0 200.7V230.8M366.0 200.7V220.1M365.5 191.5V200.7M367.1 191.5V224.6M369.1 216.2V236.0M370.1 216.2V241.2M368.1 179.6V198.2M369.6 179.6V216.2M366.3 178.2V191.5M368.9 178.2V179.6M372.2 194.9V214.4M373.2 194.9V229.2M371.2 189.8V241.0M372.7 189.8V194.9M375.3 195.3V236.5M376.3 195.3V233.1M374.2 185.6V203.7M375.8 185.6V195.3M371.9 184.0V189.8M375.0 184.0V185.6M378.3 175.0V194.8M379.4 175.0V210.0M377.3 174.4V205.3M378.8 174.4V175.0M381.4 194.4V227.9M382.4 194.4V212.5M380.4 185.7V215.7M381.9 185.7V194.4M383.5 174.9V194.1M384.5 174.9V230.3M384.0 174.8V174.9M385.5 174.8V195.3M381.2 173.0V185.7M384.7 173.0V174.8M386.5 179.6V229.8M387.6 179.6V199.1M387.0 170.8V179.6M388.6 170.8V205.8M382.9 170.8V173.0M387.8 170.8V170.8M392.7 195.6V214.7M393.7 195.6V225.6M395.8 204.3V223.8M396.8 204.3V238.1M394.7 199.6V232.1M396.3 199.6V204.3M393.2 192.5V195.6M395.5 192.5V199.6M397.8 194.9V213.9M398.8 194.9V238.2M394.4 192.4V192.5M398.3 192.4V194.9M391.7 180.1V198.8M396.3 180.1V192.4M390.6 179.8V198.4M394.0 179.8V180.1M389.6 179.8V229.1M392.3 179.8V179.8M391.0 179.4V179.8M399.9 179.4V198.0M401.9 186.1V215.8M402.9 186.1V205.5M400.9 183.1V202.6M402.4 183.1V186.1M404.0 199.1V226.1M405.0 199.1V221.5M407.0 199.5V232.2M408.1 199.5V217.8M406.0 196.7V215.9M407.5 196.7V199.5M404.5 196.1V199.1M406.8 196.1V196.7M411.1 214.1V232.2M412.2 214.1V235.2M410.1 190.4V209.9M411.6 190.4V214.1M409.1 188.9V207.0M410.9 188.9V190.4M405.6 188.0V196.1M410.0 188.0V188.9M414.2 212.2V232.5M415.2 212.2V238.8M414.7 195.0V212.2M416.3 195.0V216.6M415.5 194.8V195.0M417.3 194.8V218.9M416.4 185.2V194.8M418.3 185.2V204.0M413.2 184.5V203.6M417.3 184.5V185.2M407.8 182.9V188.0M415.3 182.9V184.5M420.4 196.8V216.0M421.4 196.8V220.6M419.3 196.5V217.4M420.9 196.5V196.8M411.5 182.3V182.9M420.1 182.3V196.5M423.4 195.6V238.5M424.5 195.6V216.8M423.9 191.4V195.6M425.5 191.4V212.1M422.4 181.8V199.8M424.7 181.8V191.4M415.8 181.1V182.3M423.6 181.1V181.8M401.7 179.2V183.1M419.7 179.2V181.1M395.4 178.5V179.4M410.7 178.5V179.2M385.4 170.6V170.8M403.0 170.6V178.5M378.1 166.7V174.4M394.2 166.7V170.6M373.5 159.9V184.0M386.1 159.9V166.7M367.6 151.0V178.2M379.8 151.0V159.9M363.2 145.4V170.6M373.7 145.4V151.0M360.4 145.0V191.4M368.5 145.0V145.4M428.6 221.2V242.2M429.6 221.2V253.2M427.5 210.4V245.9M429.1 210.4V221.2M433.7 247.7V269.3M434.7 247.7V267.3M432.7 219.9V238.9M434.2 219.9V247.7M431.6 219.7V245.1M433.4 219.7V219.9M432.5 214.3V219.7M435.7 214.3V232.9M430.6 206.3V224.5M434.1 206.3V214.3M428.3 204.8V210.4M432.4 204.8V206.3M426.5 192.8V259.5M430.3 192.8V204.8M439.8 239.5V261.1M440.9 239.5V266.1M440.3 223.8V239.5M441.9 223.8V243.3M438.8 219.2V240.8M441.1 219.2V223.8M440.0 218.0V219.2M442.9 218.0V236.2M441.4 213.3V218.0M443.9 213.3V231.4M445.0 231.6V250.7M446.0 231.6V267.6M445.5 211.9V231.6M447.0 211.9V229.9M442.7 210.8V213.3M446.2 210.8V211.9M437.8 209.4V227.9M444.5 209.4V210.8M436.8 208.7V242.4M441.1 208.7V209.4M448.0 208.7V259.5M449.1 208.7V227.6M438.9 205.3V208.7M448.5 205.3V208.7M450.1 211.9V232.8M451.1 211.9V234.2M452.1 211.7V255.0M453.2 211.7V238.2M452.6 198.8V211.7M454.2 198.8V239.8M455.2 212.2V251.9M456.2 212.2V231.2M455.7 207.5V212.2M457.3 207.5V257.6M459.3 217.7V247.3M460.3 217.7V236.8M458.3 213.7V232.1M459.8 213.7V217.7M456.5 206.9V207.5M459.1 206.9V213.7M463.4 224.3V244.6M464.4 224.3V242.3M462.4 223.2V248.6M463.9 223.2V224.3M465.5 223.9V244.0M466.5 223.9V249.0M463.2 222.8V223.2M466.0 222.8V223.9M461.4 216.5V235.1M464.6 216.5V222.8M457.8 205.8V206.9M463.0 205.8V216.5M468.5 217.6V236.8M469.6 217.6V254.0M467.5 202.6V235.2M469.0 202.6V217.6M460.4 201.6V205.8M468.3 201.6V202.6M453.4 190.0V198.8M464.3 190.0V201.6M450.6 184.5V211.9M458.9 184.5V190.0M443.7 176.5V205.3M454.7 176.5V184.5M428.4 166.7V192.8M449.2 166.7V176.5M472.6 219.5V253.4M473.7 219.5V240.4M471.6 196.8V235.8M473.1 196.8V219.5M470.6 175.8V241.3M472.4 175.8V196.8M477.8 232.8V251.6M478.8 232.8V257.0M476.7 225.5V247.7M478.3 225.5V232.8M477.5 208.3V225.5M479.8 208.3V227.5M480.8 209.4V227.6M481.9 209.4V258.4M478.7 207.3V208.3M481.3 207.3V209.4M480.0 205.9V207.3M482.9 205.9V224.3M475.7 203.9V223.3M481.4 203.9V205.9M474.7 182.3V253.9M478.6 182.3V203.9M483.9 234.2V262.9M484.9 234.2V256.7M484.4 203.5V234.2M486.0 203.5V222.0M487.0 207.0V225.9M488.0 207.0V248.3M487.5 204.3V207.0M489.0 204.3V227.1M491.1 215.1V254.3M492.1 215.1V234.4M491.6 209.1V215.1M493.1 209.1V252.3M490.1 200.1V221.9M492.4 200.1V209.1M488.3 200.1V204.3M491.2 200.1V200.1M485.2 199.4V203.5M489.7 199.4V200.1M495.2 209.0V234.1M496.2 209.0V247.3M494.2 202.0V223.7M495.7 202.0V209.0M487.5 193.9V199.4M494.9 193.9V202.0M500.3 239.2V259.4M501.3 239.2V262.5M499.3 227.0V247.6M500.8 227.0V239.2M498.3 208.4V227.0M500.1 208.4V227.0M503.4 213.9V240.0M504.4 213.9V252.0M502.4 204.2V225.2M503.9 204.2V213.9M499.2 203.7V208.4M503.1 203.7V204.2M497.2 200.4V221.7M501.1 200.4V203.7M506.5 209.6V248.7M507.5 209.6V228.6M507.0 207.4V209.6M508.5 207.4V225.5M507.7 206.3V207.4M509.5 206.3V226.6M510.6 205.8V225.2M511.6 205.8V243.4M508.6 204.9V206.3M511.1 204.9V205.8M505.4 196.2V240.2M509.9 196.2V204.9M499.2 194.6V200.4M507.6 194.6V196.2M491.2 188.3V193.9M503.4 188.3V194.6M476.6 178.0V182.3M497.3 178.0V188.3M471.5 172.8V175.8M487.0 172.8V178.0M514.7 216.8V235.9M515.7 216.8V237.3M515.2 215.7V216.8M516.7 215.7V238.1M517.7 247.4V266.0M518.8 247.4V273.9M518.2 244.4V247.4M519.8 244.4V270.6M520.8 215.6V235.4M521.8 215.6V234.8M519.0 215.4V244.4M521.3 215.4V215.6M515.9 215.2V215.7M520.2 215.2V215.4M513.6 215.0V252.4M518.1 215.0V215.2M523.9 230.2V248.9M524.9 230.2V262.8M522.9 228.0V272.1M524.4 228.0V230.2M525.9 225.7V243.8M527.0 225.7V249.5M528.0 230.0V251.7M529.0 230.0V248.3M528.5 228.3V230.0M530.0 228.3V255.7M526.4 224.8V225.7M529.3 224.8V228.3M523.6 224.5V228.0M527.9 224.5V224.8M515.8 214.3V215.0M525.7 214.3V224.5M532.1 237.5V260.5M533.1 237.5V267.4M532.6 221.9V237.5M534.1 221.9V240.1M533.4 218.9V221.9M535.2 218.9V250.1M531.1 198.1V235.4M534.3 198.1V218.9M536.2 222.8V262.6M537.2 222.8V248.4M539.3 222.3V240.4M540.3 222.3V253.1M539.8 218.8V222.3M541.3 218.8V237.2M540.5 217.9V218.8M542.3 217.9V270.5M538.2 211.1V241.2M541.4 211.1V217.9M543.4 243.8V266.2M544.4 243.8V261.8M545.4 238.5V269.1M546.4 238.5V258.8M543.9 234.2V243.8M545.9 234.2V238.5M539.8 204.5V211.1M544.9 204.5V234.2M536.7 201.3V222.8M542.4 201.3V204.5M532.7 196.9V198.1M539.5 196.9V201.3M520.8 190.4V214.3M536.1 190.4V196.9M512.6 185.0V249.8M528.4 185.0V190.4M550.5 246.8V289.9M551.6 246.8V273.8M549.5 230.3V249.5M551.0 230.3V246.8M548.5 217.2V257.0M550.3 217.2V230.3M549.4 210.9V217.2M552.6 210.9V232.5M555.7 249.9V271.1M556.7 249.9V274.2M554.6 248.9V268.4M556.2 248.9V249.9M553.6 247.8V283.0M555.4 247.8V248.9M551.0 207.3V210.9M554.5 207.3V247.8M552.7 187.3V207.3M557.7 187.3V242.2M558.7 254.4V281.0M559.8 254.4V279.4M559.2 245.6V254.4M560.8 245.6V263.8M561.8 247.3V269.7M562.8 247.3V269.4M560.0 241.8V245.6M562.3 241.8V247.3M563.9 223.9V242.2M564.9 223.9V265.8M561.2 220.8V241.8M564.4 220.8V223.9M566.9 218.4V238.0M568.0 218.4V246.5M565.9 205.3V223.3M567.4 205.3V218.4M562.8 204.0V220.8M566.7 204.0V205.3M564.7 201.2V204.0M569.0 201.2V221.5M555.2 187.2V187.3M566.8 187.2V201.2M547.5 186.2V242.2M561.0 186.2V187.2M570.0 189.1V238.9M571.0 189.1V258.8M572.1 191.5V257.6M573.1 191.5V231.5M574.1 238.9V283.1M575.1 238.9V260.6M574.6 218.9V238.9M576.2 218.9V237.8M577.2 234.7V260.0M578.2 234.7V253.3M579.2 220.1V250.7M580.3 220.1V241.1M581.3 237.5V286.7M582.3 237.5V258.4M581.8 229.3V237.5M583.3 229.3V262.7M579.7 220.0V220.1M582.6 220.0V229.3M577.7 219.0V234.7M581.2 219.0V220.0M575.4 217.1V218.9M579.4 217.1V219.0M584.4 248.8V267.2M585.4 248.8V284.5M577.4 207.8V217.1M584.9 207.8V248.8M587.4 236.7V256.2M588.5 236.7V265.1M589.5 213.2V233.3M590.5 213.2V241.8M587.9 212.6V236.7M590.0 212.6V213.2M593.6 206.1V240.2M594.6 206.1V226.0M592.6 204.2V230.3M594.1 204.2V206.1M591.5 203.3V224.0M593.3 203.3V204.2M589.0 203.1V212.6M592.4 203.1V203.3M595.6 211.2V233.2M596.7 211.2V276.9M596.1 202.7V211.2M597.7 202.7V251.2M590.7 201.9V203.1M596.9 201.9V202.7M586.4 201.6V222.9M593.8 201.6V201.9M581.1 197.7V207.8M590.1 197.7V201.6M600.8 230.6V252.3M601.8 230.6V283.2M599.7 228.8V281.3M601.3 228.8V230.6M600.5 226.0V228.8M602.8 226.0V256.9M601.6 223.7V226.0M603.8 223.7V268.9M598.7 205.9V248.4M602.7 205.9V223.7M600.7 201.5V205.9M604.9 201.5V225.7M605.9 208.1V254.0M606.9 208.1V265.0M607.9 205.8V224.8M609.0 205.8V277.2M606.4 200.8V208.1M608.4 200.8V205.8M610.0 206.6V229.3M611.0 206.6V245.9M607.4 197.3V200.8M610.5 197.3V206.6M602.8 197.0V201.5M609.0 197.0V197.3M585.6 194.4V197.7M605.9 194.4V197.0M572.6 186.3V191.5M595.7 186.3V194.4M570.5 184.5V189.1M584.2 184.5V186.3M554.2 183.7V186.2M577.3 183.7V184.5M612.0 185.0V213.8M613.1 185.0V225.3M616.1 204.6V245.1M617.2 204.6V222.7M616.6 198.7V204.6M618.2 198.7V226.8M615.1 192.0V211.4M617.4 192.0V198.7M614.1 179.5V230.1M616.3 179.5V192.0M612.5 170.2V185.0M615.2 170.2V179.5M565.8 151.0V183.7M613.9 151.0V170.2M619.2 201.5V229.7M620.2 201.5V221.0M619.7 173.6V201.5M621.3 173.6V218.4M623.3 191.5V228.4M624.3 191.5V218.6M622.3 155.2V232.1M623.8 155.2V191.5M626.4 193.0V219.2M627.4 193.0V212.3M628.4 192.2V217.8M629.5 192.2V213.0M626.9 191.3V193.0M628.9 191.3V192.2M625.4 165.3V234.7M627.9 165.3V191.3M631.5 204.4V236.2M632.5 204.4V222.8M633.6 216.7V242.1M634.6 216.7V236.0M632.0 196.3V204.4M634.1 196.3V216.7M630.5 194.1V215.6M633.0 194.1V196.3M636.6 224.8V245.8M637.7 224.8V243.9M637.1 196.3V224.8M638.7 196.3V214.8M635.6 181.4V214.0M637.9 181.4V196.3M631.8 180.2V194.1M636.8 180.2V181.4M640.7 204.6V224.7M641.8 204.6V226.3M639.7 171.1V242.2M641.2 171.1V204.6M640.5 169.4V171.1M642.8 169.4V244.8M634.3 168.7V180.2M641.6 168.7V169.4M643.8 200.4V219.4M644.8 200.4V228.0M648.9 218.6V244.6M650.0 218.6V238.4M649.4 211.3V218.6M651.0 211.3V230.9M647.9 204.3V226.4M650.2 204.3V211.3M646.9 200.2V235.0M649.1 200.2V204.3M648.0 197.6V200.2M652.0 197.6V217.4M645.9 192.4V243.1M650.0 192.4V197.6M653.0 189.0V231.7M654.1 189.0V226.4M647.9 170.2V192.4M653.5 170.2V189.0M644.3 168.6V200.4M650.7 168.6V170.2M637.9 164.7V168.7M647.5 164.7V168.6M626.6 156.4V165.3M642.7 156.4V164.7M623.0 154.9V155.2M634.7 154.9V156.4M620.5 150.0V173.6M628.9 150.0V154.9M589.8 149.9V151.0M624.7 149.9V150.0M520.5 144.4V185.0M607.2 144.4V149.9M479.2 139.0V172.8M563.9 139.0V144.4M438.8 133.0V166.7M521.6 133.0V139.0M364.4 129.4V145.0M480.2 129.4V133.0M318.8 126.0V140.4M422.3 126.0V129.4M283.2 123.0V143.0M370.6 123.0V126.0M225.0 121.8V127.6M326.9 121.8V123.0M207.4 116.7V191.1M275.9 116.7V121.8M168.5 114.7V219.7M241.7 114.7V116.7M133.8 110.0V148.0M205.1 110.0V114.7M657.1 122.6V167.2M658.2 122.6V145.7M656.1 122.3V141.9M657.6 122.3V122.6M659.2 144.6V162.9M660.2 144.6V177.8M656.9 118.1V122.3M659.7 118.1V144.6M661.2 135.0V164.7M662.3 135.0V154.4M663.3 139.2V173.6M664.3 139.2V164.1M661.7 130.6V135.0M663.8 130.6V139.2M667.4 180.0V204.2M668.4 180.0V201.3M666.4 151.9V171.8M667.9 151.9V180.0M665.3 140.1V187.6M667.1 140.1V151.9M662.8 130.3V130.6M666.2 130.3V140.1M658.3 117.6V118.1M664.5 117.6V130.3M655.1 117.1V147.6M661.4 117.1V117.6M169.4 96.6V110.0M658.2 96.6V117.1M113.3 94.3V122.0M413.8 94.3V96.6M102.8 89.6V115.9M263.6 89.6V94.3M95.9 82.5V130.6M183.2 82.5V89.6M84.6 66.6V75.2M139.5 66.6V82.5M69.7 60.0V114.2M112.1 60.0V66.6M61.9 51.1V97.4M90.9 51.1V60.0" stroke="#000" stroke-width="0.55" fill="none"/>
<filter id="gs"><feColorMatrix type="saturate" values="0"/></filter><g font-size="6.5" font-weight="bold" fill="#111" text-anchor="end" filter="url(#gs)"><text transform="translate(62.9,122.4) rotate(-90)">TCGA-MP-3316-11A-11R-9869-07</text><text transform="translate(63.9,123.6) rotate(-90)">TCGA-50-31W6-02A-11R-9484-07</text><text transform="translate(64.9,126.5) rotate(-90)">TCGA-MN-D7P2-01B-31R-2571-07</text><text transform="translate(66.0,188.0) rotate(-90)">TCGA-49-02G7-01A-31R-8678-07</text><text transform="translate(67.0,195.6) rotate(-90)">TCGA-55-15P0-01A-21R-7765-07</text><text transform="translate(68.0,209.8) rotate(-90)">TCGA-L9-71K8-01B-01R-2109-07</text><text transform="translate(69.0,150.1) rotate(-90)">TCGA-MN-F258-01B-21R-5816-07</text><text transform="translate(70.1,198.5) rotate(-90)">TCGA-91-F3T7-01A-11R-8400-07</text><text transform="translate(71.1,219.2) rotate(-90)">TCGA-64-6781-01B-11R-3358-07</text><text transform="translate(72.1,249.2) rotate(-90)">TCGA-MN-B676-01A-11R-3518-07</text><text transform="translate(73.1,143.8) rotate(-90)">TCGA-50-P2J8-01B-01R-7634-07</text><text transform="translate(74.2,169.9) rotate(-90)">TCGA-50-X426-11A-21R-2283-07</text><text transform="translate(75.2,145.3) rotate(-90)">TCGA-67-G876-01A-31R-4336-07</text><text transform="translate(76.2,254.4) rotate(-90)">TCGA-NJ-89Z1-11A-21R-5381-07</text><text transform="translate(77.2,234.1) rotate(-90)">TCGA-MP-G3P1-11A-31R-7302-07</text><text transform="translate(78.3,143.9) rotate(-90)">TCGA-91-T5V1-01A-21R-9701-07</text><text transform="translate(79.3,190.9) rotate(-90)">TCGA-44-A8R8-01A-31R-4648-07</text><text transform="translate(80.3,190.4) rotate(-90)">TCGA-S2-6525-01A-31R-4773-07</text><text transform="translate(81.3,167.9) rotate(-90)">TCGA-L4-X0P6-01B-01R-1115-07</text><text transform="translate(82.4,165.9) rotate(-90)">TCGA-MN-N3P9-02A-21R-5934-07</text><text transform="translate(83.4,138.9) rotate(-90)">TCGA-67-35B7-01A-01R-6647-07</text><text transform="translate(84.4,133.8) rotate(-90)">TCGA-44-53G9-01A-31R-7117-07</text><text transform="translate(85.4,161.6) rotate(-90)">TCGA-95-5461-11A-11R-5101-07</text><text transform="translate(86.5,135.9) rotate(-90)">TCGA-86-2592-01A-21R-1929-07</text><text transform="translate(87.5,142.0) rotate(-90)">TCGA-J2-3658-01A-21R-1366-07</text><text transform="translate(88.5,145.2) rotate(-90)">TCGA-MP-D907-11A-21R-2228-07</text><text transform="translate(89.5,135.9) rotate(-90)">TCGA-64-5786-11A-31R-2932-07</text><text transform="translate(90.6,160.0) rotate(-90)">TCGA-99-L175-02A-01R-2855-07</text><text transform="translate(91.6,158.9) rotate(-90)">TCGA-50-R473-01A-31R-6310-07</text><text transform="translate(92.6,190.0) rotate(-90)">TCGA-L9-8194-11A-31R-1514-07</text><text transform="translate(93.6,165.5) rotate(-90)">TCGA-97-P3Y7-11A-31R-9380-07</text><text transform="translate(94.7,175.2) rotate(-90)">TCGA-J2-68A9-01A-11R-1241-07</text><text transform="translate(95.7,165.2) rotate(-90)">TCGA-91-A5R9-01B-31R-8418-07</text><text transform="translate(96.7,190.6) rotate(-90)">TCGA-MN-V597-02A-31R-6374-07</text><text transform="translate(97.7,171.4) rotate(-90)">TCGA-49-X3G5-02A-31R-1739-07</text><text transform="translate(98.8,156.8) rotate(-90)">TCGA-75-44R3-02A-11R-8089-07</text><text transform="translate(99.8,227.3) rotate(-90)">TCGA-MP-48B6-01B-31R-7336-07</text><text transform="translate(100.8,227.3) rotate(-90)">TCGA-J2-73B9-01A-21R-9202-07</text><text transform="translate(101.8,210.6) rotate(-90)">TCGA-55-25A8-11A-21R-9021-07</text><text transform="translate(102.9,197.1) rotate(-90)">TCGA-55-U5K1-01A-11R-4579-07</text><text transform="translate(103.9,161.5) rotate(-90)">TCGA-67-N1A3-01B-11R-7040-07</text><text transform="translate(104.9,155.3) rotate(-90)">TCGA-86-O1J9-02A-21R-2809-07</text><text transform="translate(105.9,160.1) rotate(-90)">TCGA-73-N0B8-01A-21R-5693-07</text><text transform="translate(107.0,146.0) rotate(-90)">TCGA-75-84Y1-01A-01R-5670-07</text><text transform="translate(108.0,204.7) rotate(-90)">TCGA-75-Y2R2-01B-11R-2463-07</text><text transform="translate(109.0,170.2) rotate(-90)">TCGA-L9-A8G4-01A-31R-6942-07</text><text transform="translate(110.0,213.8) rotate(-90)">TCGA-NJ-E7V5-01A-11R-9284-07</text><text transform="translate(111.1,169.7) rotate(-90)">TCGA-75-N348-01A-01R-2176-07</text><text transform="translate(112.1,226.5) rotate(-90)">TCGA-78-0173-01A-21R-6793-07</text><text transform="translate(113.1,214.8) rotate(-90)">TCGA-55-3190-11A-01R-3342-07</text><text transform="translate(114.1,145.8) rotate(-90)">TCGA-S2-46B1-01B-21R-9175-07</text><text transform="translate(115.2,157.4) rotate(-90)">TCGA-67-6687-01A-01R-8978-07</text><text transform="translate(116.2,222.5) rotate(-90)">TCGA-05-52K4-01A-11R-5464-07</text><text transform="translate(117.2,179.0) rotate(-90)">TCGA-55-9619-11A-01R-6180-07</text><text transform="translate(118.2,230.8) rotate(-90)">TCGA-64-58A0-01A-01R-5881-07</text><text transform="translate(119.3,173.4) rotate(-90)">TCGA-78-1622-01A-01R-9515-07</text><text transform="translate(120.3,150.8) rotate(-90)">TCGA-MN-50P1-01A-31R-4801-07</text><text transform="translate(121.3,195.2) rotate(-90)">TCGA-97-N5E5-11A-01R-4962-07</text><text transform="translate(122.3,210.4) rotate(-90)">TCGA-75-39P8-02A-21R-9538-07</text><text transform="translate(123.4,164.6) rotate(-90)">TCGA-S2-N7F6-01A-11R-3457-07</text><text transform="translate(124.4,153.0) rotate(-90)">TCGA-67-G7X3-01A-11R-4903-07</text><text transform="translate(125.4,170.2) rotate(-90)">TCGA-S2-G9G9-01A-11R-6092-07</text><text transform="translate(126.4,231.4) rotate(-90)">TCGA-73-44Z5-02A-11R-1564-07</text><text transform="translate(127.5,209.9) rotate(-90)">TCGA-73-51Z3-11A-11R-1735-07</text><text transform="translate(128.5,156.2) rotate(-90)">TCGA-97-85N1-01A-31R-3220-07</text><text transform="translate(129.5,165.0) rotate(-90)">TCGA-97-E5D6-01A-01R-2116-07</text><text transform="translate(130.5,187.8) rotate(-90)">TCGA-J2-00Y0-11A-01R-7960-07</text><text transform="translate(131.6,188.0) rotate(-90)">TCGA-64-91D2-11A-11R-6217-07</text><text transform="translate(132.6,266.4) rotate(-90)">TCGA-86-8295-01A-11R-4887-07</text><text transform="translate(133.6,202.1) rotate(-90)">TCGA-55-F7P5-02A-01R-5472-07</text><text transform="translate(134.6,241.4) rotate(-90)">TCGA-55-42N0-01A-21R-6263-07</text><text transform="translate(135.7,231.7) rotate(-90)">TCGA-64-74V8-01A-01R-2335-07</text><text transform="translate(136.7,211.3) rotate(-90)">TCGA-NJ-E044-02A-01R-4046-07</text><text transform="translate(137.7,265.7) rotate(-90)">TCGA-64-M964-11A-01R-8532-07</text><text transform="translate(138.7,212.7) rotate(-90)">TCGA-91-X723-01A-31R-1400-07</text><text transform="translate(139.8,259.6) rotate(-90)">TCGA-99-R834-01A-01R-3834-07</text><text transform="translate(140.8,217.4) rotate(-90)">TCGA-95-D013-11A-31R-2034-07</text><text transform="translate(141.8,242.7) rotate(-90)">TCGA-99-12M0-01A-21R-1680-07</text><text transform="translate(142.8,229.2) rotate(-90)">TCGA-86-G9P7-01A-01R-6195-07</text><text transform="translate(143.9,235.8) rotate(-90)">TCGA-64-N2T6-01B-01R-8542-07</text><text transform="translate(144.9,299.5) rotate(-90)">TCGA-75-M7E9-02A-11R-8673-07</text><text transform="translate(145.9,284.4) rotate(-90)">TCGA-L4-J2L3-01B-01R-7613-07</text><text transform="translate(146.9,245.8) rotate(-90)">TCGA-64-M460-01A-31R-2836-07</text><text transform="translate(148.0,294.2) rotate(-90)">TCGA-J2-Y607-11A-21R-9154-07</text><text transform="translate(149.0,245.2) rotate(-90)">TCGA-MN-V055-11A-31R-2011-07</text><text transform="translate(150.0,259.1) rotate(-90)">TCGA-NJ-90H8-11A-01R-2386-07</text><text transform="translate(151.0,295.0) rotate(-90)">TCGA-75-33S0-01A-11R-9256-07</text><text transform="translate(152.1,280.3) rotate(-90)">TCGA-50-T531-11A-31R-3481-07</text><text transform="translate(153.1,251.0) rotate(-90)">TCGA-78-L8Z5-01A-11R-8308-07</text><text transform="translate(154.1,308.6) rotate(-90)">TCGA-78-83H4-01A-01R-8793-07</text><text transform="translate(155.1,276.3) rotate(-90)">TCGA-78-F018-02A-21R-8715-07</text><text transform="translate(156.2,278.3) rotate(-90)">TCGA-NJ-R1A1-01A-21R-7388-07</text><text transform="translate(157.2,305.5) rotate(-90)">TCGA-78-G2G9-02A-11R-1959-07</text><text transform="translate(158.2,281.8) rotate(-90)">TCGA-97-S609-01A-31R-9059-07</text><text transform="translate(159.2,280.4) rotate(-90)">TCGA-73-P520-01A-31R-4747-07</text><text transform="translate(160.3,272.0) rotate(-90)">TCGA-73-72U5-11A-21R-4069-07</text><text transform="translate(161.3,272.6) rotate(-90)">TCGA-05-H1M5-01A-01R-5760-07</text><text transform="translate(162.3,295.1) rotate(-90)">TCGA-L9-K735-01A-21R-4563-07</text><text transform="translate(163.3,278.6) rotate(-90)">TCGA-L4-X121-02A-01R-1823-07</text><text transform="translate(164.4,296.4) rotate(-90)">TCGA-J2-F4C9-01A-11R-8111-07</text><text transform="translate(165.4,284.7) rotate(-90)">TCGA-86-R1M0-01A-21R-9632-07</text><text transform="translate(166.4,288.8) rotate(-90)">TCGA-NJ-S3T3-11A-01R-2998-07</text><text transform="translate(167.4,317.9) rotate(-90)">TCGA-97-T7T8-02A-01R-5115-07</text><text transform="translate(168.5,290.6) rotate(-90)">TCGA-MN-S053-01A-01R-3462-07</text><text transform="translate(169.5,295.5) rotate(-90)">TCGA-64-H9L4-02A-01R-1949-07</text><text transform="translate(170.5,312.4) rotate(-90)">TCGA-99-3667-01A-21R-1918-07</text><text transform="translate(171.5,277.2) rotate(-90)">TCGA-L9-40H7-02A-01R-8169-07</text><text transform="translate(172.6,276.3) rotate(-90)">TCGA-55-T7F6-02A-11R-7698-07</text><text transform="translate(173.6,315.3) rotate(-90)">TCGA-44-5983-01A-01R-8760-07</text><text transform="translate(174.6,309.9) rotate(-90)">TCGA-95-1646-02A-31R-2730-07</text><text transform="translate(175.6,280.4) rotate(-90)">TCGA-67-F7L1-01A-21R-1360-07</text><text transform="translate(176.7,278.2) rotate(-90)">TCGA-73-Y9T6-01A-21R-1555-07</text><text transform="translate(177.7,305.6) rotate(-90)">TCGA-49-H7D5-02A-31R-4353-07</text><text transform="translate(178.7,317.7) rotate(-90)">TCGA-99-T5D9-01A-31R-5976-07</text><text transform="translate(179.7,278.8) rotate(-90)">TCGA-MP-57X8-11A-31R-9266-07</text><text transform="translate(180.8,318.5) rotate(-90)">TCGA-95-43J3-02A-01R-8450-07</text><text transform="translate(181.8,314.4) rotate(-90)">TCGA-97-D4E9-01A-01R-6598-07</text><text transform="translate(182.8,298.5) rotate(-90)">TCGA-MN-R0T5-11A-21R-2479-07</text><text transform="translate(183.8,289.3) rotate(-90)">TCGA-MP-P3S4-01A-31R-1979-07</text><text transform="translate(184.9,276.2) rotate(-90)">TCGA-J2-33S1-01B-21R-6975-07</text><text transform="translate(185.9,274.5) rotate(-90)">TCGA-MN-W4G8-11A-01R-3574-07</text><text transform="translate(186.9,319.7) rotate(-90)">TCGA-05-89L8-01A-21R-6623-07</text><text transform="translate(187.9,281.6) rotate(-90)">TCGA-L4-X5A7-02A-31R-5737-07</text><text transform="translate(189.0,304.7) rotate(-90)">TCGA-97-9137-11A-01R-8203-07</text><text transform="translate(190.0,282.6) rotate(-90)">TCGA-MN-14N6-01A-01R-1148-07</text><text transform="translate(191.0,311.7) rotate(-90)">TCGA-78-A5D6-02A-21R-3399-07</text><text transform="translate(192.0,299.1) rotate(-90)">TCGA-91-Y0P6-02A-31R-3434-07</text><text transform="translate(193.1,284.5) rotate(-90)">TCGA-78-F3B0-01A-01R-1437-07</text><text transform="translate(194.1,279.9) rotate(-90)">TCGA-67-G0Y0-02A-01R-1460-07</text><text transform="translate(195.1,306.2) rotate(-90)">TCGA-S2-J5D9-02A-21R-6269-07</text><text transform="translate(196.1,276.7) rotate(-90)">TCGA-86-D7L0-11A-01R-5610-07</text><text transform="translate(197.2,282.3) rotate(-90)">TCGA-MP-Y5E8-01A-01R-6234-07</text><text transform="translate(198.2,297.8) rotate(-90)">TCGA-55-M7U2-01A-01R-3808-07</text><text transform="translate(199.2,314.1) rotate(-90)">TCGA-J2-N9N3-01A-11R-8849-07</text><text transform="translate(200.2,300.9) rotate(-90)">TCGA-91-33Y0-02A-01R-9900-07</text><text transform="translate(201.3,285.0) rotate(-90)">TCGA-MN-11L0-01B-21R-9058-07</text><text transform="translate(202.3,318.3) rotate(-90)">TCGA-MP-P166-01A-01R-3890-07</text><text transform="translate(203.3,282.2) rotate(-90)">TCGA-L9-H095-01A-31R-5735-07</text><text transform="translate(204.3,276.6) rotate(-90)">TCGA-73-15F5-01A-11R-5786-07</text><text transform="translate(205.4,272.9) rotate(-90)">TCGA-78-G015-01A-31R-3824-07</text><text transform="translate(206.4,278.2) rotate(-90)">TCGA-75-B1A1-11A-01R-4111-07</text><text transform="translate(207.4,255.6) rotate(-90)">TCGA-78-U8F6-11A-21R-9259-07</text><text transform="translate(208.4,256.0) rotate(-90)">TCGA-75-V7E4-01A-21R-5932-07</text><text transform="translate(209.5,262.6) rotate(-90)">TCGA-95-20W4-01B-11R-7020-07</text><text transform="translate(210.5,273.0) rotate(-90)">TCGA-L9-V5W1-11A-01R-4712-07</text><text transform="translate(211.5,240.9) rotate(-90)">TCGA-MN-C173-01B-21R-9904-07</text><text transform="translate(212.5,250.8) rotate(-90)">TCGA-97-Y8K0-01A-01R-6845-07</text><text transform="translate(213.6,292.1) rotate(-90)">TCGA-49-7096-02A-01R-8334-07</text><text transform="translate(214.6,260.6) rotate(-90)">TCGA-L9-T939-02A-11R-2124-07</text><text transform="translate(215.6,215.8) rotate(-90)">TCGA-99-F7D7-02A-01R-6517-07</text><text transform="translate(216.6,220.5) rotate(-90)">TCGA-MN-10E3-01B-01R-4977-07</text><text transform="translate(217.7,207.2) rotate(-90)">TCGA-78-M262-01A-11R-4666-07</text><text transform="translate(218.7,161.1) rotate(-90)">TCGA-64-3522-01A-01R-3678-07</text><text transform="translate(219.7,154.5) rotate(-90)">TCGA-J2-L4B5-02A-01R-1109-07</text><text transform="translate(220.7,154.4) rotate(-90)">TCGA-S2-29K6-02A-21R-7351-07</text><text transform="translate(221.8,250.5) rotate(-90)">TCGA-NJ-B6Y0-01A-01R-5569-07</text><text transform="translate(222.8,223.1) rotate(-90)">TCGA-75-C144-01A-11R-7241-07</text><text transform="translate(223.8,257.8) rotate(-90)">TCGA-78-76L7-01A-01R-7723-07</text><text transform="translate(224.8,157.2) rotate(-90)">TCGA-J2-P1G0-01A-01R-6894-07</text><text transform="translate(225.9,215.9) rotate(-90)">TCGA-MP-O8M6-01A-01R-3955-07</text><text transform="translate(226.9,198.5) rotate(-90)">TCGA-67-Y0Y9-02A-11R-8347-07</text><text transform="translate(227.9,227.8) rotate(-90)">TCGA-67-X048-01A-11R-4104-07</text><text transform="translate(228.9,182.7) rotate(-90)">TCGA-95-V3U9-11A-11R-6963-07</text><text transform="translate(230.0,262.5) rotate(-90)">TCGA-44-N194-01A-01R-1615-07</text><text transform="translate(231.0,164.2) rotate(-90)">TCGA-05-F691-02A-01R-3272-07</text><text transform="translate(232.0,207.4) rotate(-90)">TCGA-86-2973-01A-11R-4129-07</text><text transform="translate(233.0,229.5) rotate(-90)">TCGA-99-76C1-02A-01R-3754-07</text><text transform="translate(234.1,249.6) rotate(-90)">TCGA-49-A8R6-01A-31R-9322-07</text><text transform="translate(235.1,229.9) rotate(-90)">TCGA-50-P0X4-01A-01R-1460-07</text><text transform="translate(236.1,226.2) rotate(-90)">TCGA-67-M0U9-11A-21R-9877-07</text><text transform="translate(237.1,236.8) rotate(-90)">TCGA-78-82R5-02A-01R-1669-07</text><text transform="translate(238.2,251.5) rotate(-90)">TCGA-75-J4J3-01A-11R-7444-07</text><text transform="translate(239.2,190.8) rotate(-90)">TCGA-86-G176-02A-21R-5544-07</text><text transform="translate(240.2,225.0) rotate(-90)">TCGA-73-W494-11A-31R-2472-07</text><text transform="translate(241.2,249.9) rotate(-90)">TCGA-55-36H3-01A-01R-7378-07</text><text transform="translate(242.3,246.4) rotate(-90)">TCGA-67-H714-01A-21R-9292-07</text><text transform="translate(243.3,198.6) rotate(-90)">TCGA-MP-C8G3-11A-01R-6561-07</text><text transform="translate(244.3,237.4) rotate(-90)">TCGA-05-7005-02A-21R-8685-07</text><text transform="translate(245.3,245.7) rotate(-90)">TCGA-L4-11U3-11A-11R-8584-07</text><text transform="translate(246.4,214.8) rotate(-90)">TCGA-J2-S4L8-11A-11R-6123-07</text><text transform="translate(247.4,220.4) rotate(-90)">TCGA-99-9389-01B-11R-1578-07</text><text transform="translate(248.4,197.8) rotate(-90)">TCGA-97-S2C9-02A-21R-1954-07</text><text transform="translate(249.4,216.8) rotate(-90)">TCGA-91-6087-02A-21R-5188-07</text><text transform="translate(250.5,219.6) rotate(-90)">TCGA-L9-V570-02A-01R-8799-07</text><text transform="translate(251.5,177.6) rotate(-90)">TCGA-73-60A1-01A-01R-6705-07</text><text transform="translate(252.5,223.2) rotate(-90)">TCGA-55-59N1-01A-21R-7981-07</text><text transform="translate(253.5,260.4) rotate(-90)">TCGA-L9-F0L4-11A-21R-7949-07</text><text transform="translate(254.6,248.1) rotate(-90)">TCGA-99-D0V7-01A-31R-9346-07</text><text transform="translate(255.6,232.6) rotate(-90)">TCGA-64-Y438-01A-21R-6986-07</text><text transform="translate(256.6,202.1) rotate(-90)">TCGA-S2-6447-01B-01R-7881-07</text><text transform="translate(257.6,233.7) rotate(-90)">TCGA-75-R7S7-01A-01R-2928-07</text><text transform="translate(258.7,219.4) rotate(-90)">TCGA-44-R852-11A-11R-7936-07</text><text transform="translate(259.7,207.7) rotate(-90)">TCGA-50-E2V4-01A-21R-7288-07</text><text transform="translate(260.7,244.3) rotate(-90)">TCGA-67-00A7-01A-11R-3659-07</text><text transform="translate(261.7,184.3) rotate(-90)">TCGA-55-7193-01A-31R-4000-07</text><text transform="translate(262.8,236.0) rotate(-90)">TCGA-MP-3435-02A-11R-7959-07</text><text transform="translate(263.8,183.3) rotate(-90)">TCGA-49-6825-11A-31R-4383-07</text><text transform="translate(264.8,223.1) rotate(-90)">TCGA-44-B7Y4-01A-31R-4415-07</text><text transform="translate(265.8,213.4) rotate(-90)">TCGA-NJ-46A7-01B-11R-6248-07</text><text transform="translate(266.9,195.8) rotate(-90)">TCGA-44-S0Z3-01A-01R-9436-07</text><text transform="translate(267.9,232.3) rotate(-90)">TCGA-L9-J3A8-01B-21R-3759-07</text><text transform="translate(268.9,215.9) rotate(-90)">TCGA-MP-G3M6-02A-11R-8594-07</text><text transform="translate(269.9,225.6) rotate(-90)">TCGA-49-7863-01A-11R-7899-07</text><text transform="translate(271.0,252.6) rotate(-90)">TCGA-J2-X5C5-01A-11R-4691-07</text><text transform="translate(272.0,200.2) rotate(-90)">TCGA-MP-F258-01B-01R-8082-07</text><text transform="translate(273.0,188.9) rotate(-90)">TCGA-97-F5T5-01A-21R-6775-07</text><text transform="translate(274.0,204.1) rotate(-90)">TCGA-99-N8H2-01A-31R-1731-07</text><text transform="translate(275.1,232.1) rotate(-90)">TCGA-75-P562-01A-01R-7198-07</text><text transform="translate(276.1,199.4) rotate(-90)">TCGA-NJ-7258-01A-31R-4700-07</text><text transform="translate(277.1,198.2) rotate(-90)">TCGA-50-45X3-01A-31R-5558-07</text><text transform="translate(278.1,251.5) rotate(-90)">TCGA-78-W0D9-01A-31R-4137-07</text><text transform="translate(279.2,231.7) rotate(-90)">TCGA-05-7641-02A-01R-1247-07</text><text transform="translate(280.2,216.3) rotate(-90)">TCGA-73-V7Y5-01A-01R-9457-07</text><text transform="translate(281.2,249.6) rotate(-90)">TCGA-97-U5G2-01A-01R-3022-07</text><text transform="translate(282.2,188.6) rotate(-90)">TCGA-55-M1B8-02A-01R-9255-07</text><text transform="translate(283.3,223.4) rotate(-90)">TCGA-49-B6A4-01A-01R-5849-07</text><text transform="translate(284.3,179.9) rotate(-90)">TCGA-78-5727-01A-21R-2958-07</text><text transform="translate(285.3,200.6) rotate(-90)">TCGA-64-S8V1-01A-01R-3628-07</text><text transform="translate(286.3,239.6) rotate(-90)">TCGA-78-7787-01A-01R-5578-07</text><text transform="translate(287.4,251.7) rotate(-90)">TCGA-NJ-M1M6-01A-31R-9973-07</text><text transform="translate(288.4,247.8) rotate(-90)">TCGA-95-5345-01A-01R-3979-07</text><text transform="translate(289.4,199.6) rotate(-90)">TCGA-97-M8D6-11A-01R-5215-07</text><text transform="translate(290.4,217.9) rotate(-90)">TCGA-44-V189-01A-01R-9731-07</text><text transform="translate(291.5,195.8) rotate(-90)">TCGA-L9-X0D6-02A-11R-8800-07</text><text transform="translate(292.5,184.6) rotate(-90)">TCGA-S2-U2Y9-01A-01R-6988-07</text><text transform="translate(293.5,211.9) rotate(-90)">TCGA-64-T350-11A-11R-6776-07</text><text transform="translate(294.5,243.2) rotate(-90)">TCGA-49-F4N6-11A-01R-8665-07</text><text transform="translate(295.6,244.4) rotate(-90)">TCGA-91-V8L9-02A-11R-3524-07</text><text transform="translate(296.6,231.9) rotate(-90)">TCGA-44-P9N0-01B-01R-7975-07</text><text transform="translate(297.6,253.8) rotate(-90)">TCGA-S2-E511-01A-11R-7040-07</text><text transform="translate(298.6,199.6) rotate(-90)">TCGA-50-K239-02A-01R-7253-07</text><text transform="translate(299.7,194.3) rotate(-90)">TCGA-86-B265-01A-31R-4781-07</text><text transform="translate(300.7,213.1) rotate(-90)">TCGA-64-53C6-01A-31R-2484-07</text><text transform="translate(301.7,202.4) rotate(-90)">TCGA-78-27Y5-01A-31R-2642-07</text><text transform="translate(302.7,200.0) rotate(-90)">TCGA-75-44M8-01A-11R-6391-07</text><text transform="translate(303.8,212.8) rotate(-90)">TCGA-67-E1W4-11A-01R-6226-07</text><text transform="translate(304.8,227.8) rotate(-90)">TCGA-67-56Z0-01A-21R-5680-07</text><text transform="translate(305.8,219.4) rotate(-90)">TCGA-78-S649-11A-01R-7747-07</text><text transform="translate(306.8,209.4) rotate(-90)">TCGA-73-R9M7-01A-31R-2032-07</text><text transform="translate(307.9,243.7) rotate(-90)">TCGA-44-K6H8-01A-31R-9822-07</text><text transform="translate(308.9,254.0) rotate(-90)">TCGA-78-O0W0-01A-01R-9051-07</text><text transform="translate(309.9,219.6) rotate(-90)">TCGA-95-5430-01A-21R-3574-07</text><text transform="translate(310.9,203.0) rotate(-90)">TCGA-50-F0X9-01A-01R-6902-07</text><text transform="translate(312.0,203.0) rotate(-90)">TCGA-05-U8A0-11A-01R-7583-07</text><text transform="translate(313.0,246.0) rotate(-90)">TCGA-L9-X1N6-01A-01R-7396-07</text><text transform="translate(314.0,205.7) rotate(-90)">TCGA-55-K739-01B-01R-1812-07</text><text transform="translate(315.0,236.5) rotate(-90)">TCGA-MP-W2R0-01B-11R-5422-07</text><text transform="translate(316.1,216.7) rotate(-90)">TCGA-55-X1K6-01A-21R-4680-07</text><text transform="translate(317.1,195.3) rotate(-90)">TCGA-95-H1T7-02A-01R-9648-07</text><text transform="translate(318.1,238.1) rotate(-90)">TCGA-49-27X3-01A-11R-2709-07</text><text transform="translate(319.1,179.1) rotate(-90)">TCGA-MN-P777-01A-21R-9213-07</text><text transform="translate(320.2,185.1) rotate(-90)">TCGA-50-B5R6-01B-31R-9597-07</text><text transform="translate(321.2,208.4) rotate(-90)">TCGA-97-89K0-02A-01R-4741-07</text><text transform="translate(322.2,180.9) rotate(-90)">TCGA-73-C7X9-02A-21R-5825-07</text><text transform="translate(323.2,242.5) rotate(-90)">TCGA-78-1253-02A-01R-4882-07</text><text transform="translate(324.3,193.4) rotate(-90)">TCGA-50-F154-01B-01R-8282-07</text><text transform="translate(325.3,188.0) rotate(-90)">TCGA-75-W2N8-01A-01R-6313-07</text><text transform="translate(326.3,183.9) rotate(-90)">TCGA-NJ-82G3-01A-11R-2896-07</text><text transform="translate(327.3,224.9) rotate(-90)">TCGA-44-S540-01A-31R-2004-07</text><text transform="translate(328.4,210.2) rotate(-90)">TCGA-L4-X0V3-02A-21R-8128-07</text><text transform="translate(329.4,225.5) rotate(-90)">TCGA-91-31R6-11A-11R-3457-07</text><text transform="translate(330.4,227.9) rotate(-90)">TCGA-99-U862-01A-31R-5011-07</text><text transform="translate(331.4,241.5) rotate(-90)">TCGA-73-83T9-01A-01R-3843-07</text><text transform="translate(332.5,255.5) rotate(-90)">TCGA-78-B555-02A-01R-6715-07</text><text transform="translate(333.5,231.1) rotate(-90)">TCGA-S2-3837-01B-31R-2206-07</text><text transform="translate(334.5,195.9) rotate(-90)">TCGA-99-V0A9-01A-21R-2021-07</text><text transform="translate(335.5,214.9) rotate(-90)">TCGA-05-L9Y7-01B-11R-1564-07</text><text transform="translate(336.6,195.7) rotate(-90)">TCGA-MP-D7S0-01B-21R-6755-07</text><text transform="translate(337.6,188.8) rotate(-90)">TCGA-44-R5H1-02A-01R-6005-07</text><text transform="translate(338.6,215.7) rotate(-90)">TCGA-95-71Z6-01A-01R-6561-07</text><text transform="translate(339.6,234.8) rotate(-90)">TCGA-MP-C9K3-01A-01R-9576-07</text><text transform="translate(340.7,197.7) rotate(-90)">TCGA-78-S4M7-01B-01R-5358-07</text><text transform="translate(341.7,203.5) rotate(-90)">TCGA-L9-N1T5-01A-01R-3184-07</text><text transform="translate(342.7,208.5) rotate(-90)">TCGA-78-P0N2-01A-01R-9761-07</text><text transform="translate(343.7,234.2) rotate(-90)">TCGA-MP-A969-11A-01R-8594-07</text><text transform="translate(344.8,221.2) rotate(-90)">TCGA-55-P5Z4-01A-31R-7304-07</text><text transform="translate(345.8,228.3) rotate(-90)">TCGA-49-1463-01A-21R-8437-07</text><text transform="translate(346.8,239.4) rotate(-90)">TCGA-MP-T5D4-01A-01R-2238-07</text><text transform="translate(347.8,213.6) rotate(-90)">TCGA-J2-6883-02A-01R-1019-07</text><text transform="translate(348.9,242.6) rotate(-90)">TCGA-55-37V7-01A-31R-5403-07</text><text transform="translate(349.9,251.8) rotate(-90)">TCGA-44-0775-02A-11R-7791-07</text><text transform="translate(350.9,198.5) rotate(-90)">TCGA-86-86Z8-01A-21R-5805-07</text><text transform="translate(351.9,254.0) rotate(-90)">TCGA-91-56P3-01A-01R-2642-07</text><text transform="translate(353.0,237.9) rotate(-90)">TCGA-49-X0X2-01A-01R-6473-07</text><text transform="translate(354.0,201.9) rotate(-90)">TCGA-MP-P4H3-01A-11R-1296-07</text><text transform="translate(355.0,220.1) rotate(-90)">TCGA-55-12Y9-11A-31R-7029-07</text><text transform="translate(356.0,231.7) rotate(-90)">TCGA-L9-L4C8-11A-01R-8591-07</text><text transform="translate(357.1,252.5) rotate(-90)">TCGA-05-N9Z0-01A-11R-4808-07</text><text transform="translate(358.1,216.6) rotate(-90)">TCGA-86-C3J2-01B-31R-2751-07</text><text transform="translate(359.1,228.7) rotate(-90)">TCGA-67-X0P3-01A-11R-5838-07</text><text transform="translate(360.1,250.5) rotate(-90)">TCGA-S2-20N1-01A-01R-4337-07</text><text transform="translate(361.2,244.6) rotate(-90)">TCGA-97-F9E1-01A-01R-5889-07</text><text transform="translate(362.2,240.7) rotate(-90)">TCGA-44-8764-11A-01R-4998-07</text><text transform="translate(363.2,211.2) rotate(-90)">TCGA-MN-R408-01B-31R-9791-07</text><text transform="translate(364.2,222.0) rotate(-90)">TCGA-73-U2Y3-01A-01R-8893-07</text><text transform="translate(365.3,198.7) rotate(-90)">TCGA-78-E858-02A-21R-7826-07</text><text transform="translate(366.3,226.3) rotate(-90)">TCGA-44-70W6-01A-11R-2027-07</text><text transform="translate(367.3,232.3) rotate(-90)">TCGA-99-D0F2-11A-01R-6675-07</text><text transform="translate(368.3,221.6) rotate(-90)">TCGA-MP-W670-01A-21R-3189-07</text><text transform="translate(369.4,226.1) rotate(-90)">TCGA-05-G989-01A-31R-3357-07</text><text transform="translate(370.4,199.7) rotate(-90)">TCGA-95-X812-02A-31R-4065-07</text><text transform="translate(371.4,237.5) rotate(-90)">TCGA-J2-D5N3-01A-31R-8514-07</text><text transform="translate(372.4,242.7) rotate(-90)">TCGA-J2-U2J4-11A-21R-4153-07</text><text transform="translate(373.5,242.5) rotate(-90)">TCGA-75-K949-01B-01R-3388-07</text><text transform="translate(374.5,215.9) rotate(-90)">TCGA-L9-45W1-11A-31R-4415-07</text><text transform="translate(375.5,230.7) rotate(-90)">TCGA-49-P7Z7-01A-01R-7683-07</text><text transform="translate(376.5,205.2) rotate(-90)">TCGA-55-V181-01B-01R-7962-07</text><text transform="translate(377.6,238.0) rotate(-90)">TCGA-50-8149-01A-31R-3615-07</text><text transform="translate(378.6,234.6) rotate(-90)">TCGA-75-30C5-11A-01R-3224-07</text><text transform="translate(379.6,206.8) rotate(-90)">TCGA-MN-44A0-01A-01R-6647-07</text><text transform="translate(380.6,196.3) rotate(-90)">TCGA-97-Y3X3-01A-01R-7751-07</text><text transform="translate(381.7,211.5) rotate(-90)">TCGA-05-5690-01A-01R-6631-07</text><text transform="translate(382.7,217.2) rotate(-90)">TCGA-73-B9C8-01A-01R-5743-07</text><text transform="translate(383.7,229.4) rotate(-90)">TCGA-75-C4D8-01A-11R-1432-07</text><text transform="translate(384.7,214.0) rotate(-90)">TCGA-75-2470-01B-01R-5059-07</text><text transform="translate(385.8,195.6) rotate(-90)">TCGA-73-41C2-11A-21R-4098-07</text><text transform="translate(386.8,231.8) rotate(-90)">TCGA-91-02F9-01A-01R-6305-07</text><text transform="translate(387.8,196.8) rotate(-90)">TCGA-50-P9J3-02A-31R-3722-07</text><text transform="translate(388.8,231.3) rotate(-90)">TCGA-73-13P1-11A-11R-9962-07</text><text transform="translate(389.9,200.6) rotate(-90)">TCGA-78-22F4-01A-01R-8203-07</text><text transform="translate(390.9,207.3) rotate(-90)">TCGA-78-6419-11A-01R-8439-07</text><text transform="translate(391.9,230.6) rotate(-90)">TCGA-J2-B953-02A-21R-4327-07</text><text transform="translate(392.9,199.9) rotate(-90)">TCGA-05-C1B8-02A-11R-8871-07</text><text transform="translate(394.0,200.3) rotate(-90)">TCGA-J2-94Z7-01B-01R-4528-07</text><text transform="translate(395.0,216.2) rotate(-90)">TCGA-75-69K9-01A-01R-4416-07</text><text transform="translate(396.0,227.1) rotate(-90)">TCGA-78-K5U7-02A-01R-4034-07</text><text transform="translate(397.0,233.6) rotate(-90)">TCGA-91-98Y8-01A-01R-3568-07</text><text transform="translate(398.1,225.3) rotate(-90)">TCGA-95-U170-01A-01R-4765-07</text><text transform="translate(399.1,239.6) rotate(-90)">TCGA-97-X9P8-01A-01R-9982-07</text><text transform="translate(400.1,215.4) rotate(-90)">TCGA-44-T7X2-11A-01R-6866-07</text><text transform="translate(401.1,239.7) rotate(-90)">TCGA-78-A092-02A-11R-3786-07</text><text transform="translate(402.2,199.5) rotate(-90)">TCGA-MN-E457-01A-01R-4274-07</text><text transform="translate(403.2,204.1) rotate(-90)">TCGA-99-47A5-01A-31R-5685-07</text><text transform="translate(404.2,217.3) rotate(-90)">TCGA-50-W809-01B-31R-6298-07</text><text transform="translate(405.2,207.0) rotate(-90)">TCGA-67-H5Z9-01A-11R-8988-07</text><text transform="translate(406.3,227.6) rotate(-90)">TCGA-91-J7A7-01A-11R-8168-07</text><text transform="translate(407.3,223.0) rotate(-90)">TCGA-73-T5H7-01B-31R-3896-07</text><text transform="translate(408.3,217.4) rotate(-90)">TCGA-73-M5G6-02A-31R-9139-07</text><text transform="translate(409.3,233.7) rotate(-90)">TCGA-S2-G9G6-11A-31R-7570-07</text><text transform="translate(410.4,219.3) rotate(-90)">TCGA-97-98U8-01A-11R-4182-07</text><text transform="translate(411.4,208.5) rotate(-90)">TCGA-49-N108-01A-21R-1481-07</text><text transform="translate(412.4,211.4) rotate(-90)">TCGA-64-X1W0-01A-21R-1208-07</text><text transform="translate(413.4,233.7) rotate(-90)">TCGA-S2-36L7-11A-01R-4934-07</text><text transform="translate(414.5,236.7) rotate(-90)">TCGA-MN-60F7-01A-21R-8858-07</text><text transform="translate(415.5,205.1) rotate(-90)">TCGA-50-S6X3-01A-11R-9054-07</text><text transform="translate(416.5,234.0) rotate(-90)">TCGA-J2-H331-01B-11R-1900-07</text><text transform="translate(417.5,240.3) rotate(-90)">TCGA-64-M8S1-01A-01R-5310-07</text><text transform="translate(418.6,218.1) rotate(-90)">TCGA-44-M3X7-01A-01R-3910-07</text><text transform="translate(419.6,220.4) rotate(-90)">TCGA-75-5121-01A-01R-9888-07</text><text transform="translate(420.6,205.5) rotate(-90)">TCGA-05-C4V5-01A-31R-4803-07</text><text transform="translate(421.6,218.9) rotate(-90)">TCGA-99-C6F0-01A-11R-2350-07</text><text transform="translate(422.7,217.5) rotate(-90)">TCGA-L4-E2G4-01A-21R-8098-07</text><text transform="translate(423.7,222.1) rotate(-90)">TCGA-S2-U407-11A-21R-3036-07</text><text transform="translate(424.7,201.3) rotate(-90)">TCGA-95-L6L1-01B-21R-7410-07</text><text transform="translate(425.7,240.0) rotate(-90)">TCGA-73-N0X4-01B-11R-8507-07</text><text transform="translate(426.8,218.3) rotate(-90)">TCGA-MN-G613-01A-01R-9531-07</text><text transform="translate(427.8,213.6) rotate(-90)">TCGA-97-T8P8-02A-01R-9060-07</text><text transform="translate(428.8,261.0) rotate(-90)">TCGA-J2-G4U9-11A-01R-6819-07</text><text transform="translate(429.8,247.4) rotate(-90)">TCGA-55-76E2-02A-01R-3237-07</text><text transform="translate(430.9,243.7) rotate(-90)">TCGA-L9-K507-02A-11R-1745-07</text><text transform="translate(431.9,254.7) rotate(-90)">TCGA-L9-V1V3-01A-01R-4835-07</text><text transform="translate(432.9,226.0) rotate(-90)">TCGA-99-Y0B8-01B-11R-4664-07</text><text transform="translate(433.9,246.6) rotate(-90)">TCGA-49-C4Y7-11A-01R-8840-07</text><text transform="translate(435.0,240.4) rotate(-90)">TCGA-97-V8P3-01A-01R-9647-07</text><text transform="translate(436.0,270.8) rotate(-90)">TCGA-73-61J3-02A-01R-3471-07</text><text transform="translate(437.0,268.8) rotate(-90)">TCGA-L9-T9N6-01A-11R-5974-07</text><text transform="translate(438.0,234.4) rotate(-90)">TCGA-05-85W5-01B-31R-2091-07</text><text transform="translate(439.1,243.9) rotate(-90)">TCGA-97-18T7-02A-31R-9449-07</text><text transform="translate(440.1,229.4) rotate(-90)">TCGA-NJ-J5D4-11A-11R-9515-07</text><text transform="translate(441.1,242.3) rotate(-90)">TCGA-97-O404-02A-31R-9825-07</text><text transform="translate(442.1,262.6) rotate(-90)">TCGA-55-41H0-02A-11R-2120-07</text><text transform="translate(443.2,267.6) rotate(-90)">TCGA-78-N8B8-01A-31R-4689-07</text><text transform="translate(444.2,244.8) rotate(-90)">TCGA-J2-M497-01A-01R-7877-07</text><text transform="translate(445.2,237.7) rotate(-90)">TCGA-J2-P1B8-01A-01R-2046-07</text><text transform="translate(446.2,232.9) rotate(-90)">TCGA-MP-O725-11A-11R-4367-07</text><text transform="translate(447.3,252.2) rotate(-90)">TCGA-L4-89H4-01B-31R-4966-07</text><text transform="translate(448.3,269.1) rotate(-90)">TCGA-99-25T2-02A-21R-4126-07</text><text transform="translate(449.3,231.4) rotate(-90)">TCGA-50-P0W6-01A-01R-7141-07</text><text transform="translate(450.3,261.0) rotate(-90)">TCGA-S2-L4N3-01A-31R-7584-07</text><text transform="translate(451.4,229.1) rotate(-90)">TCGA-64-5194-11A-21R-7201-07</text><text transform="translate(452.4,234.3) rotate(-90)">TCGA-73-M4P3-01A-11R-7556-07</text><text transform="translate(453.4,235.7) rotate(-90)">TCGA-S2-54N4-02A-11R-8011-07</text><text transform="translate(454.4,256.5) rotate(-90)">TCGA-67-67H6-11A-31R-3761-07</text><text transform="translate(455.5,239.7) rotate(-90)">TCGA-MN-V115-01B-21R-7553-07</text><text transform="translate(456.5,241.3) rotate(-90)">TCGA-MP-O0Y1-11A-01R-8946-07</text><text transform="translate(457.5,253.4) rotate(-90)">TCGA-44-52L3-02A-01R-3545-07</text><text transform="translate(458.5,232.7) rotate(-90)">TCGA-97-U3H8-01A-21R-6708-07</text><text transform="translate(459.6,259.1) rotate(-90)">TCGA-86-F055-02A-31R-2513-07</text><text transform="translate(460.6,233.6) rotate(-90)">TCGA-MP-32R4-01A-11R-7869-07</text><text transform="translate(461.6,248.8) rotate(-90)">TCGA-78-7518-01A-01R-8942-07</text><text transform="translate(462.6,238.3) rotate(-90)">TCGA-49-87A4-11A-01R-9294-07</text><text transform="translate(463.7,236.6) rotate(-90)">TCGA-L4-K5J0-02A-01R-7381-07</text><text transform="translate(464.7,250.1) rotate(-90)">TCGA-67-6691-11A-21R-8139-07</text><text transform="translate(465.7,246.1) rotate(-90)">TCGA-L9-8497-01A-11R-8486-07</text><text transform="translate(466.7,243.8) rotate(-90)">TCGA-99-20J9-01A-31R-8849-07</text><text transform="translate(467.8,245.5) rotate(-90)">TCGA-86-J3L8-01A-21R-7429-07</text><text transform="translate(468.8,250.5) rotate(-90)">TCGA-99-0530-11A-21R-9917-07</text><text transform="translate(469.8,236.7) rotate(-90)">TCGA-44-69U9-02A-31R-2593-07</text><text transform="translate(470.8,238.3) rotate(-90)">TCGA-NJ-M7D7-11A-31R-4814-07</text><text transform="translate(471.9,255.5) rotate(-90)">TCGA-L4-33A7-01B-21R-9421-07</text><text transform="translate(472.9,242.8) rotate(-90)">TCGA-L4-P6S7-01A-31R-3770-07</text><text transform="translate(473.9,237.3) rotate(-90)">TCGA-75-91Z9-02A-31R-2297-07</text><text transform="translate(474.9,254.9) rotate(-90)">TCGA-S2-29Y4-01B-01R-7746-07</text><text transform="translate(476.0,241.9) rotate(-90)">TCGA-64-L3Y8-01A-01R-7391-07</text><text transform="translate(477.0,255.4) rotate(-90)">TCGA-NJ-B762-01B-11R-8536-07</text><text transform="translate(478.0,224.8) rotate(-90)">TCGA-67-A7H7-01A-11R-6192-07</text><text transform="translate(479.0,249.2) rotate(-90)">TCGA-44-33G6-11A-11R-2954-07</text><text transform="translate(480.1,253.1) rotate(-90)">TCGA-NJ-V444-02A-01R-1924-07</text><text transform="translate(481.1,258.5) rotate(-90)">TCGA-50-B4B0-02A-01R-3959-07</text><text transform="translate(482.1,229.0) rotate(-90)">TCGA-NJ-4570-11A-31R-3014-07</text><text transform="translate(483.1,229.1) rotate(-90)">TCGA-S2-E456-02A-11R-7395-07</text><text transform="translate(484.2,259.9) rotate(-90)">TCGA-J2-02L0-02A-11R-7148-07</text><text transform="translate(485.2,225.8) rotate(-90)">TCGA-73-U4A1-11A-01R-5222-07</text><text transform="translate(486.2,264.4) rotate(-90)">TCGA-50-59V8-11A-01R-8566-07</text><text transform="translate(487.2,258.2) rotate(-90)">TCGA-97-U2M9-11A-11R-5449-07</text><text transform="translate(488.3,223.5) rotate(-90)">TCGA-99-X514-01B-31R-9619-07</text><text transform="translate(489.3,227.4) rotate(-90)">TCGA-73-A7D4-01A-21R-2352-07</text><text transform="translate(490.3,249.8) rotate(-90)">TCGA-86-3244-11A-01R-5866-07</text><text transform="translate(491.3,228.6) rotate(-90)">TCGA-J2-D0N7-11A-01R-4504-07</text><text transform="translate(492.4,223.4) rotate(-90)">TCGA-05-47V8-01A-21R-3105-07</text><text transform="translate(493.4,255.8) rotate(-90)">TCGA-73-99X4-01A-31R-5524-07</text><text transform="translate(494.4,235.9) rotate(-90)">TCGA-67-T4P3-01B-01R-7168-07</text><text transform="translate(495.4,253.8) rotate(-90)">TCGA-NJ-K5N0-01A-21R-3261-07</text><text transform="translate(496.5,225.2) rotate(-90)">TCGA-55-B1R8-01B-31R-6579-07</text><text transform="translate(497.5,235.6) rotate(-90)">TCGA-91-L0F1-11A-21R-5883-07</text><text transform="translate(498.5,248.8) rotate(-90)">TCGA-MN-06K6-01B-11R-8423-07</text><text transform="translate(499.5,223.2) rotate(-90)">TCGA-49-K734-01A-21R-2563-07</text><text transform="translate(500.6,228.5) rotate(-90)">TCGA-S2-5157-01A-01R-6847-07</text><text transform="translate(501.6,249.1) rotate(-90)">TCGA-49-J1Z1-01A-31R-3800-07</text><text transform="translate(502.6,260.9) rotate(-90)">TCGA-MP-9956-11A-31R-5734-07</text><text transform="translate(503.6,264.0) rotate(-90)">TCGA-MP-3671-01A-01R-8760-07</text><text transform="translate(504.7,226.7) rotate(-90)">TCGA-97-E3D6-01A-21R-3301-07</text><text transform="translate(505.7,241.5) rotate(-90)">TCGA-L9-O0X1-01A-31R-6781-07</text><text transform="translate(506.7,253.5) rotate(-90)">TCGA-44-U3R7-01A-01R-9424-07</text><text transform="translate(507.7,241.7) rotate(-90)">TCGA-91-4586-01B-01R-4487-07</text><text transform="translate(508.8,250.2) rotate(-90)">TCGA-J2-K637-01B-31R-3357-07</text><text transform="translate(509.8,230.1) rotate(-90)">TCGA-64-R421-02A-31R-4622-07</text><text transform="translate(510.8,227.0) rotate(-90)">TCGA-97-47B9-01A-31R-3920-07</text><text transform="translate(511.8,228.1) rotate(-90)">TCGA-L9-G2E0-01B-11R-4922-07</text><text transform="translate(512.9,226.7) rotate(-90)">TCGA-MP-1884-02A-11R-6078-07</text><text transform="translate(513.9,244.9) rotate(-90)">TCGA-S2-Y4E6-01A-31R-2386-07</text><text transform="translate(514.9,251.3) rotate(-90)">TCGA-75-34W1-02A-11R-5574-07</text><text transform="translate(515.9,253.9) rotate(-90)">TCGA-55-U806-11A-31R-6915-07</text><text transform="translate(517.0,237.4) rotate(-90)">TCGA-64-K1F7-01A-01R-8345-07</text><text transform="translate(518.0,238.8) rotate(-90)">TCGA-MP-W5E7-01A-31R-8448-07</text><text transform="translate(519.0,239.6) rotate(-90)">TCGA-91-M1N2-02A-11R-6756-07</text><text transform="translate(520.0,267.5) rotate(-90)">TCGA-64-S674-02A-01R-5124-07</text><text transform="translate(521.1,275.4) rotate(-90)">TCGA-J2-X075-02A-31R-1173-07</text><text transform="translate(522.1,272.1) rotate(-90)">TCGA-J2-V8P8-01A-11R-4114-07</text><text transform="translate(523.1,236.9) rotate(-90)">TCGA-44-Y9K3-02A-21R-9127-07</text><text transform="translate(524.1,236.3) rotate(-90)">TCGA-05-L3B9-11A-31R-8692-07</text><text transform="translate(525.2,273.6) rotate(-90)">TCGA-91-76M1-01B-01R-8262-07</text><text transform="translate(526.2,250.4) rotate(-90)">TCGA-MP-A8Z4-02A-31R-5258-07</text><text transform="translate(527.2,264.3) rotate(-90)">TCGA-S2-W1D0-01A-31R-4708-07</text><text transform="translate(528.2,245.3) rotate(-90)">TCGA-MP-X2E9-02A-01R-2088-07</text><text transform="translate(529.3,251.0) rotate(-90)">TCGA-44-J217-01A-01R-6019-07</text><text transform="translate(530.3,253.2) rotate(-90)">TCGA-78-9264-02A-21R-9482-07</text><text transform="translate(531.3,249.8) rotate(-90)">TCGA-75-K1B4-01A-01R-6287-07</text><text transform="translate(532.3,257.2) rotate(-90)">TCGA-91-9056-02A-31R-4476-07</text><text transform="translate(533.4,236.9) rotate(-90)">TCGA-50-Y0H5-01A-01R-2437-07</text><text transform="translate(534.4,262.0) rotate(-90)">TCGA-05-M2Y8-01A-01R-2346-07</text><text transform="translate(535.4,268.9) rotate(-90)">TCGA-NJ-98C7-01A-11R-5833-07</text><text transform="translate(536.4,241.6) rotate(-90)">TCGA-S2-39C1-01B-21R-2495-07</text><text transform="translate(537.5,251.6) rotate(-90)">TCGA-49-35B6-01A-01R-3788-07</text><text transform="translate(538.5,264.1) rotate(-90)">TCGA-MN-4049-01A-01R-6978-07</text><text transform="translate(539.5,249.9) rotate(-90)">TCGA-67-92E7-01A-01R-4672-07</text><text transform="translate(540.5,242.7) rotate(-90)">TCGA-05-N0T9-01A-01R-5399-07</text><text transform="translate(541.6,241.9) rotate(-90)">TCGA-73-W071-01B-31R-3106-07</text><text transform="translate(542.6,254.6) rotate(-90)">TCGA-49-50J7-01B-01R-8323-07</text><text transform="translate(543.6,238.7) rotate(-90)">TCGA-NJ-R5N8-01A-11R-7017-07</text><text transform="translate(544.6,272.0) rotate(-90)">TCGA-44-D0C5-11A-31R-8176-07</text><text transform="translate(545.7,267.7) rotate(-90)">TCGA-MP-E7D9-01A-31R-8321-07</text><text transform="translate(546.7,263.3) rotate(-90)">TCGA-75-57D4-01A-21R-1448-07</text><text transform="translate(547.7,270.6) rotate(-90)">TCGA-86-13N9-11A-01R-4572-07</text><text transform="translate(548.7,260.3) rotate(-90)">TCGA-73-G290-01A-01R-4076-07</text><text transform="translate(549.8,243.7) rotate(-90)">TCGA-05-L9Z6-01A-01R-1284-07</text><text transform="translate(550.8,258.5) rotate(-90)">TCGA-44-15B6-01A-01R-6267-07</text><text transform="translate(551.8,251.0) rotate(-90)">TCGA-91-80D6-01A-01R-3865-07</text><text transform="translate(552.8,291.4) rotate(-90)">TCGA-MP-M1K7-01A-11R-5033-07</text><text transform="translate(553.9,275.3) rotate(-90)">TCGA-50-85N1-01B-11R-9650-07</text><text transform="translate(554.9,234.0) rotate(-90)">TCGA-44-R877-01A-11R-9584-07</text><text transform="translate(555.9,284.5) rotate(-90)">TCGA-73-2050-01A-21R-1378-07</text><text transform="translate(556.9,269.9) rotate(-90)">TCGA-S2-K5Y7-01A-01R-1033-07</text><text transform="translate(558.0,272.6) rotate(-90)">TCGA-95-F2N5-02A-01R-7568-07</text><text transform="translate(559.0,275.7) rotate(-90)">TCGA-NJ-06X2-01A-21R-5810-07</text><text transform="translate(560.0,243.7) rotate(-90)">TCGA-50-S688-11A-01R-6531-07</text><text transform="translate(561.0,282.5) rotate(-90)">TCGA-97-U454-01B-11R-6829-07</text><text transform="translate(562.1,280.9) rotate(-90)">TCGA-MN-C2X5-11A-31R-7345-07</text><text transform="translate(563.1,265.3) rotate(-90)">TCGA-86-O5E1-01B-11R-6103-07</text><text transform="translate(564.1,271.2) rotate(-90)">TCGA-67-9054-01A-21R-8180-07</text><text transform="translate(565.1,270.9) rotate(-90)">TCGA-49-76R7-01A-01R-9153-07</text><text transform="translate(566.2,243.7) rotate(-90)">TCGA-67-8634-02A-31R-4491-07</text><text transform="translate(567.2,267.3) rotate(-90)">TCGA-86-R1T0-11A-01R-3339-07</text><text transform="translate(568.2,224.8) rotate(-90)">TCGA-91-6350-01B-11R-6516-07</text><text transform="translate(569.2,239.5) rotate(-90)">TCGA-91-42U2-11A-01R-2299-07</text><text transform="translate(570.3,248.0) rotate(-90)">TCGA-86-X2Z3-11A-21R-1908-07</text><text transform="translate(571.3,223.0) rotate(-90)">TCGA-73-V5M1-11A-21R-9283-07</text><text transform="translate(572.3,240.4) rotate(-90)">TCGA-50-H835-02A-11R-6815-07</text><text transform="translate(573.3,260.3) rotate(-90)">TCGA-MP-63L2-01B-31R-8599-07</text><text transform="translate(574.4,259.1) rotate(-90)">TCGA-NJ-26H3-01B-01R-4802-07</text><text transform="translate(575.4,233.0) rotate(-90)">TCGA-50-61W4-01B-01R-5399-07</text><text transform="translate(576.4,284.6) rotate(-90)">TCGA-MP-P1S9-02A-21R-6611-07</text><text transform="translate(577.4,262.1) rotate(-90)">TCGA-49-M1E9-02A-21R-5228-07</text><text transform="translate(578.5,239.3) rotate(-90)">TCGA-NJ-01D8-01A-11R-7059-07</text><text transform="translate(579.5,261.5) rotate(-90)">TCGA-64-V2N2-01A-11R-6984-07</text><text transform="translate(580.5,254.8) rotate(-90)">TCGA-MP-10P0-01B-31R-5563-07</text><text transform="translate(581.5,252.2) rotate(-90)">TCGA-L9-77P6-01A-21R-5771-07</text><text transform="translate(582.6,242.6) rotate(-90)">TCGA-73-M1Y1-01B-31R-4213-07</text><text transform="translate(583.6,288.2) rotate(-90)">TCGA-95-D820-01B-01R-2892-07</text><text transform="translate(584.6,259.9) rotate(-90)">TCGA-99-70N7-01A-11R-9790-07</text><text transform="translate(585.6,264.2) rotate(-90)">TCGA-49-1103-02A-11R-4305-07</text><text transform="translate(586.7,268.7) rotate(-90)">TCGA-05-F097-02A-31R-9515-07</text><text transform="translate(587.7,286.0) rotate(-90)">TCGA-86-58M0-02A-01R-1575-07</text><text transform="translate(588.7,224.4) rotate(-90)">TCGA-97-U920-01A-31R-5820-07</text><text transform="translate(589.7,257.7) rotate(-90)">TCGA-J2-W6E0-11A-01R-8075-07</text><text transform="translate(590.8,266.6) rotate(-90)">TCGA-49-6075-02A-21R-4381-07</text><text transform="translate(591.8,234.8) rotate(-90)">TCGA-67-8074-11A-01R-7881-07</text><text transform="translate(592.8,243.3) rotate(-90)">TCGA-49-W845-01A-01R-5024-07</text><text transform="translate(593.8,225.5) rotate(-90)">TCGA-67-B5A2-02A-21R-3620-07</text><text transform="translate(594.9,231.8) rotate(-90)">TCGA-J2-D711-11A-01R-8017-07</text><text transform="translate(595.9,241.7) rotate(-90)">TCGA-49-U6E1-01A-01R-1564-07</text><text transform="translate(596.9,227.5) rotate(-90)">TCGA-44-1435-11A-01R-7780-07</text><text transform="translate(597.9,234.7) rotate(-90)">TCGA-49-W7M0-11A-11R-2096-07</text><text transform="translate(599.0,278.4) rotate(-90)">TCGA-73-1215-01A-31R-7189-07</text><text transform="translate(600.0,252.7) rotate(-90)">TCGA-50-P973-01A-01R-6853-07</text><text transform="translate(601.0,249.9) rotate(-90)">TCGA-97-T167-01B-31R-8526-07</text><text transform="translate(602.0,282.8) rotate(-90)">TCGA-75-V5S8-11A-01R-7368-07</text><text transform="translate(603.1,253.8) rotate(-90)">TCGA-67-U204-01A-31R-8821-07</text><text transform="translate(604.1,284.7) rotate(-90)">TCGA-99-O2R8-02A-01R-9215-07</text><text transform="translate(605.1,258.4) rotate(-90)">TCGA-NJ-B9D6-01B-01R-4380-07</text><text transform="translate(606.1,270.4) rotate(-90)">TCGA-91-14Y4-11A-21R-4851-07</text><text transform="translate(607.2,227.2) rotate(-90)">TCGA-64-Y487-01A-31R-2374-07</text><text transform="translate(608.2,255.5) rotate(-90)">TCGA-J2-R0V7-11A-21R-9727-07</text><text transform="translate(609.2,266.5) rotate(-90)">TCGA-49-A5B8-11A-31R-7713-07</text><text transform="translate(610.2,226.3) rotate(-90)">TCGA-L4-G900-01A-31R-9819-07</text><text transform="translate(611.3,278.7) rotate(-90)">TCGA-75-87N8-01A-01R-8492-07</text><text transform="translate(612.3,230.8) rotate(-90)">TCGA-67-P604-01A-01R-9950-07</text><text transform="translate(613.3,247.4) rotate(-90)">TCGA-L4-14W7-01A-01R-3145-07</text><text transform="translate(614.3,215.3) rotate(-90)">TCGA-NJ-V715-01B-01R-5405-07</text><text transform="translate(615.4,226.8) rotate(-90)">TCGA-S2-E546-01B-01R-7452-07</text><text transform="translate(616.4,231.6) rotate(-90)">TCGA-MP-Y4A1-11A-21R-6126-07</text><text transform="translate(617.4,212.9) rotate(-90)">TCGA-L9-C8L9-01B-31R-6671-07</text><text transform="translate(618.4,246.6) rotate(-90)">TCGA-64-X5G6-11A-01R-9754-07</text><text transform="translate(619.5,224.2) rotate(-90)">TCGA-NJ-R4G7-11A-31R-2143-07</text><text transform="translate(620.5,228.3) rotate(-90)">TCGA-S2-61Z4-11A-01R-3737-07</text><text transform="translate(621.5,231.2) rotate(-90)">TCGA-L9-K494-11A-01R-7100-07</text><text transform="translate(622.5,222.5) rotate(-90)">TCGA-NJ-28B6-11A-31R-2426-07</text><text transform="translate(623.6,219.9) rotate(-90)">TCGA-67-0921-02A-01R-4669-07</text><text transform="translate(624.6,233.6) rotate(-90)">TCGA-55-U5J2-01A-01R-9789-07</text><text transform="translate(625.6,229.9) rotate(-90)">TCGA-75-Y2X6-02A-01R-9248-07</text><text transform="translate(626.6,220.1) rotate(-90)">TCGA-J2-K477-01A-01R-8416-07</text><text transform="translate(627.7,236.2) rotate(-90)">TCGA-44-53J8-11A-31R-9234-07</text><text transform="translate(628.7,220.7) rotate(-90)">TCGA-67-95G8-01A-11R-6623-07</text><text transform="translate(629.7,213.8) rotate(-90)">TCGA-99-87H9-01A-11R-5931-07</text><text transform="translate(630.7,219.3) rotate(-90)">TCGA-50-40F5-01A-31R-1480-07</text><text transform="translate(631.8,214.5) rotate(-90)">TCGA-73-X6P3-01A-21R-5252-07</text><text transform="translate(632.8,217.1) rotate(-90)">TCGA-64-O8R3-01A-01R-8773-07</text><text transform="translate(633.8,237.7) rotate(-90)">TCGA-J2-32N8-01A-01R-3360-07</text><text transform="translate(634.8,224.3) rotate(-90)">TCGA-50-U1D1-11A-21R-7830-07</text><text transform="translate(635.9,243.6) rotate(-90)">TCGA-97-B3K8-01A-01R-3138-07</text><text transform="translate(636.9,237.5) rotate(-90)">TCGA-49-T388-01B-31R-2856-07</text><text transform="translate(637.9,215.5) rotate(-90)">TCGA-99-14P9-11A-31R-5925-07</text><text transform="translate(638.9,247.3) rotate(-90)">TCGA-95-48R3-01A-31R-5530-07</text><text transform="translate(640.0,245.4) rotate(-90)">TCGA-55-S275-11A-01R-4852-07</text><text transform="translate(641.0,216.3) rotate(-90)">TCGA-73-24Y4-01B-31R-7944-07</text><text transform="translate(642.0,243.7) rotate(-90)">TCGA-L9-66D4-01A-11R-8580-07</text><text transform="translate(643.0,226.2) rotate(-90)">TCGA-73-L6H8-01A-01R-5279-07</text><text transform="translate(644.1,227.8) rotate(-90)">TCGA-86-J609-01A-31R-8480-07</text><text transform="translate(645.1,246.3) rotate(-90)">TCGA-MN-86X2-01A-21R-1282-07</text><text transform="translate(646.1,220.9) rotate(-90)">TCGA-MP-60F5-02A-01R-6797-07</text><text transform="translate(647.1,229.5) rotate(-90)">TCGA-MP-N253-01B-01R-5884-07</text><text transform="translate(648.2,244.6) rotate(-90)">TCGA-NJ-K8Y9-02A-11R-8763-07</text><text transform="translate(649.2,236.5) rotate(-90)">TCGA-MN-H0M4-01A-21R-4011-07</text><text transform="translate(650.2,227.9) rotate(-90)">TCGA-55-0180-02A-01R-4553-07</text><text transform="translate(651.2,246.1) rotate(-90)">TCGA-L9-J8T4-01B-31R-8630-07</text><text transform="translate(652.3,239.9) rotate(-90)">TCGA-86-Y8K1-01A-01R-3565-07</text><text transform="translate(653.3,232.4) rotate(-90)">TCGA-L4-T0U4-01A-21R-8907-07</text><text transform="translate(654.3,218.9) rotate(-90)">TCGA-67-G6M6-01B-01R-9757-07</text><text transform="translate(655.3,233.2) rotate(-90)">TCGA-91-X714-11A-21R-2260-07</text><text transform="translate(656.4,227.9) rotate(-90)">TCGA-75-O0R1-01B-21R-6193-07</text><text transform="translate(657.4,149.1) rotate(-90)">TCGA-75-J424-11A-01R-1684-07</text><text transform="translate(658.4,143.4) rotate(-90)">TCGA-73-32F4-02A-21R-9402-07</text><text transform="translate(659.4,168.7) rotate(-90)">TCGA-L4-74L3-01A-21R-2399-07</text><text transform="translate(660.5,147.2) rotate(-90)">TCGA-MN-E1X9-01B-31R-2615-07</text><text transform="translate(661.5,164.4) rotate(-90)">TCGA-95-T844-01A-31R-1142-07</text><text transform="translate(662.5,179.3) rotate(-90)">TCGA-64-6591-11A-11R-4432-07</text><text transform="translate(663.5,166.2) rotate(-90)">TCGA-NJ-T0D3-01A-01R-8963-07</text><text transform="translate(664.6,155.9) rotate(-90)">TCGA-05-R031-01A-01R-9783-07</text><text transform="translate(665.6,175.1) rotate(-90)">TCGA-75-C188-01A-11R-3027-07</text><text transform="translate(666.6,165.6) rotate(-90)">TCGA-95-M699-02A-01R-6724-07</text><text transform="translate(667.6,189.1) rotate(-90)">TCGA-L4-C5L7-01A-31R-9958-07</text><text transform="translate(668.7,173.3) rotate(-90)">TCGA-44-U972-01A-21R-1988-07</text><text transform="translate(669.7,205.7) rotate(-90)">TCGA-75-82L2-11A-01R-8754-07</text><text transform="translate(670.7,202.8) rotate(-90)">TCGA-99-D392-01B-31R-7576-07</text></g>
<text x="125.8" y="613.1" font-size="15" textLength="147.1" lengthAdjust="spacingAndGlyphs">Scale independence</text>
<text x="489.2" y="613.1" font-size="15" textLength="132.4" lengthAdjust="spacingAndGlyphs">Mean connectivity</text>
<rect x="70.3" y="640.3" width="258" height="249.7" fill="none" stroke="#333" stroke-width="1.3"/>
<rect x="427" y="640.3" width="257.6" height="249.7" fill="none" stroke="#333" stroke-width="1.3"/>
<line x1="62.2" y1="882.86" x2="70.3" y2="882.86" stroke="#333" stroke-width="1.3"/>
<text transform="translate(51.9,882.86) rotate(-90)" font-size="12.6" text-anchor="middle">−0.2</text>
<line x1="62.2" y1="842.4" x2="70.3" y2="842.4" stroke="#333" stroke-width="1.3"/>
<text transform="translate(51.9,842.4) rotate(-90)" font-size="12.6" text-anchor="middle">0.0</text>
<line x1="62.2" y1="801.94" x2="70.3" y2="801.94" stroke="#333" stroke-width="1.3"/>
<text transform="translate(51.9,801.94) rotate(-90)" font-size="12.6" text-anchor="middle">0.2</text>
<line x1="62.2" y1="761.48" x2="70.3" y2="761.48" stroke="#333" stroke-width="1.3"/>
<text transform="translate(51.9,761.48) rotate(-90)" font-size="12.6" text-anchor="middle">0.4</text>
<line x1="62.2" y1="721.02" x2="70.3" y2="721.02" stroke="#333" stroke-width="1.3"/>
<text transform="translate(51.9,721.02) rotate(-90)" font-size="12.6" text-anchor="middle">0.6</text>
<line x1="62.2" y1="680.56" x2="70.3" y2="680.56" stroke="#333" stroke-width="1.3"/>
<text transform="translate(51.9,680.56) rotate(-90)" font-size="12.6" text-anchor="middle">0.8</text>
<text transform="translate(19.2,764) rotate(-90)" font-size="13.1" text-anchor="middle" textLength="244.9" lengthAdjust="spacingAndGlyphs">Scale Free Topology Model Fit,signed R^2</text>
<line x1="130.1" y1="890" x2="130.1" y2="898.7" stroke="#333" stroke-width="1.3"/>
<text x="130.1" y="918.9" font-size="12.9" text-anchor="middle">5</text>
<line x1="193.1" y1="890" x2="193.1" y2="898.7" stroke="#333" stroke-width="1.3"/>
<text x="193.1" y="918.9" font-size="12.9" text-anchor="middle">10</text>
<line x1="256.1" y1="890" x2="256.1" y2="898.7" stroke="#333" stroke-width="1.3"/>
<text x="256.1" y="918.9" font-size="12.9" text-anchor="middle">15</text>
<line x1="319.1" y1="890" x2="319.1" y2="898.7" stroke="#333" stroke-width="1.3"/>
<text x="319.1" y="918.9" font-size="12.9" text-anchor="middle">20</text>
<text x="132.3" y="950.7" font-size="13.2" textLength="134.6" lengthAdjust="spacingAndGlyphs">Soft Threshold (power)</text>
<line x1="70.3" y1="660.4" x2="328.3" y2="660.4" stroke="#e8262a" stroke-width="1.2"/>
<text x="79.7" y="886" font-size="12.8" text-anchor="middle" fill="#e3262b">1</text>
<text x="92.3" y="794.2" font-size="12.8" text-anchor="middle" fill="#e3262b">2</text>
<text x="104.9" y="709.8" font-size="12.8" text-anchor="middle" fill="#e3262b">3</text>
<text x="117.5" y="685.4" font-size="12.8" text-anchor="middle" fill="#e3262b">4</text>
<text x="130.1" y="678.3" font-size="12.8" text-anchor="middle" fill="#e3262b">5</text>
<text x="142.7" y="671.5" font-size="12.8" text-anchor="middle" fill="#e3262b">6</text>
<text x="155.3" y="667.5" font-size="12.8" text-anchor="middle" fill="#e3262b">7</text>
<text x="167.9" y="664.9" font-size="12.8" text-anchor="middle" fill="#e3262b">8</text>
<text x="180.5" y="658.6" font-size="12.8" text-anchor="middle" fill="#e3262b">9</text>
<text x="193.1" y="658.3" font-size="12.8" text-anchor="middle" fill="#e3262b">10</text>
<text x="205.7" y="661.4" font-size="12.8" text-anchor="middle" fill="#e3262b">11</text>
<text x="218.3" y="658.6" font-size="12.8" text-anchor="middle" fill="#e3262b">12</text>
<text x="230.9" y="655.8" font-size="12.8" text-anchor="middle" fill="#e3262b">13</text>
<text x="243.5" y="657.8" font-size="12.8" text-anchor="middle" fill="#e3262b">14</text>
<text x="256.1" y="657.5" font-size="12.8" text-anchor="middle" fill="#e3262b">15</text>
<text x="268.7" y="657.5" font-size="12.8" text-anchor="middle" fill="#e3262b">16</text>
<text x="281.3" y="655.8" font-size="12.8" text-anchor="middle" fill="#e3262b">17</text>
<text x="293.9" y="654.2" font-size="12.8" text-anchor="middle" fill="#e3262b">18</text>
<text x="306.5" y="658.1" font-size="12.8" text-anchor="middle" fill="#e3262b">19</text>
<text x="319.1" y="657" font-size="12.8" text-anchor="middle" fill="#e3262b">20</text>
<line x1="418.5" y1="881.2" x2="427" y2="881.2" stroke="#333" stroke-width="1.3"/>
<text transform="translate(407.6,881.2) rotate(-90)" font-size="12.6" text-anchor="middle">0</text>
<line x1="418.5" y1="803.94" x2="427" y2="803.94" stroke="#333" stroke-width="1.3"/>
<text transform="translate(407.6,803.94) rotate(-90)" font-size="12.6" text-anchor="middle">500</text>
<line x1="418.5" y1="726.67" x2="427" y2="726.67" stroke="#333" stroke-width="1.3"/>
<text transform="translate(407.6,726.67) rotate(-90)" font-size="12.6" text-anchor="middle">1000</text>
<line x1="418.5" y1="649.41" x2="427" y2="649.41" stroke="#333" stroke-width="1.3"/>
<text transform="translate(407.6,649.41) rotate(-90)" font-size="12.6" text-anchor="middle">1500</text>
<text transform="translate(375.5,765.2) rotate(-90)" font-size="13.1" text-anchor="middle" textLength="107.7" lengthAdjust="spacingAndGlyphs">Mean Connectivity</text>
<line x1="487.2" y1="890" x2="487.2" y2="898.7" stroke="#333" stroke-width="1.3"/>
<text x="487.2" y="918.9" font-size="12.9" text-anchor="middle">5</text>
<line x1="549.9" y1="890" x2="549.9" y2="898.7" stroke="#333" stroke-width="1.3"/>
<text x="549.9" y="918.9" font-size="12.9" text-anchor="middle">10</text>
<line x1="612.6" y1="890" x2="612.6" y2="898.7" stroke="#333" stroke-width="1.3"/>
<text x="612.6" y="918.9" font-size="12.9" text-anchor="middle">15</text>
<line x1="675.3" y1="890" x2="675.3" y2="898.7" stroke="#333" stroke-width="1.3"/>
<text x="675.3" y="918.9" font-size="12.9" text-anchor="middle">20</text>
<text x="489" y="950.7" font-size="13.2" textLength="134" lengthAdjust="spacingAndGlyphs">Soft Threshold (power)</text>
<text x="437.04" y="653.8" font-size="12.8" text-anchor="middle" fill="#e3262b">1</text>
<text x="449.58" y="824.9" font-size="12.8" text-anchor="middle" fill="#e3262b">2</text>
<text x="462.12" y="864.9" font-size="12.8" text-anchor="middle" fill="#e3262b">3</text>
<text x="474.66" y="877.3" font-size="12.8" text-anchor="middle" fill="#e3262b">4</text>
<text x="487.2" y="881.3" font-size="12.8" text-anchor="middle" fill="#e3262b">5</text>
<text x="499.74" y="883.5" font-size="12.8" text-anchor="middle" fill="#e3262b">6</text>
<text x="512.28" y="884.3" font-size="12.8" text-anchor="middle" fill="#e3262b">7</text>
<text x="524.82" y="884.7" font-size="12.8" text-anchor="middle" fill="#e3262b">8</text>
<text x="537.36" y="884.9" font-size="12.8" text-anchor="middle" fill="#e3262b">9</text>
<text x="549.9" y="885.1" font-size="12.8" text-anchor="middle" fill="#e3262b">10</text>
<text x="562.44" y="885.1" font-size="12.8" text-anchor="middle" fill="#e3262b">11</text>
<text x="574.98" y="885.1" font-size="12.8" text-anchor="middle" fill="#e3262b">12</text>
<text x="587.52" y="885.1" font-size="12.8" text-anchor="middle" fill="#e3262b">13</text>
<text x="600.06" y="885.1" font-size="12.8" text-anchor="middle" fill="#e3262b">14</text>
<text x="612.6" y="885.1" font-size="12.8" text-anchor="middle" fill="#e3262b">15</text>
<text x="625.14" y="885.1" font-size="12.8" text-anchor="middle" fill="#e3262b">16</text>
<text x="637.68" y="885.1" font-size="12.8" text-anchor="middle" fill="#e3262b">17</text>
<text x="650.22" y="885.1" font-size="12.8" text-anchor="middle" fill="#e3262b">18</text>
<text x="662.76" y="885.1" font-size="12.8" text-anchor="middle" fill="#e3262b">19</text>
<text x="675.3" y="885.1" font-size="12.8" text-anchor="middle" fill="#e3262b">20</text>
<text x="218.4" y="1004.4" font-size="16" textLength="326.8" lengthAdjust="spacingAndGlyphs">Gene dendrogram and module colors(<tspan font-weight="bold">TCGA</tspan>)</text>
<line x1="72.4" y1="1035.8" x2="72.4" y2="1353" stroke="#333" stroke-width="1.2"/>
<line x1="64" y1="1353" x2="72.4" y2="1353" stroke="#333" stroke-width="1.2"/>
<text transform="translate(54,1353) rotate(-90)" font-size="12.6" text-anchor="middle">0.2</text>
<line x1="64" y1="1273.7" x2="72.4" y2="1273.7" stroke="#333" stroke-width="1.2"/>
<text transform="translate(54,1273.7) rotate(-90)" font-size="12.6" text-anchor="middle">0.4</text>
<line x1="64" y1="1194.4" x2="72.4" y2="1194.4" stroke="#333" stroke-width="1.2"/>
<text transform="translate(54,1194.4) rotate(-90)" font-size="12.6" text-anchor="middle">0.6</text>
<line x1="64" y1="1115.1" x2="72.4" y2="1115.1" stroke="#333" stroke-width="1.2"/>
<text transform="translate(54,1115.1) rotate(-90)" font-size="12.6" text-anchor="middle">0.8</text>
<line x1="64" y1="1035.8" x2="72.4" y2="1035.8" stroke="#333" stroke-width="1.2"/>
<text transform="translate(54,1035.8) rotate(-90)" font-size="12.6" text-anchor="middle">1.0</text>
<text transform="translate(21.4,1189.9) rotate(-90)" font-size="12.9" text-anchor="middle" textLength="37.3" lengthAdjust="spacingAndGlyphs">Height</text>
<text x="2.5" y="1399.3" font-size="10.8" textLength="86.1" lengthAdjust="spacingAndGlyphs">Dynamic Tree Cut</text>
<path d="M106.4 1040V1357M117.8 1040V1357M129.3 1040V1357M140.7 1040V1357M152.1 1040V1357M163.6 1040V1357M175.0 1040V1357M186.4 1040V1357M197.8 1040V1357M209.3 1040V1357M220.7 1040V1357M232.1 1040V1357M243.6 1040V1357M255.0 1040V1357M266.4 1040V1357M277.9 1040V1357M289.3 1040V1357M300.7 1040V1357M312.1 1040V1357M323.6 1040V1357M335.0 1040V1357M346.4 1040V1357M357.9 1040V1357M369.3 1040V1357M380.7 1040V1357M392.2 1040V1357M403.6 1040V1357M415.0 1040V1357M426.4 1040V1357M437.9 1040V1357M449.3 1040V1357M460.7 1040V1357M472.2 1040V1357M483.6 1040V1357M495.0 1040V1357M506.5 1040V1357M517.9 1040V1357M529.3 1040V1357M540.7 1040V1357M552.2 1040V1357M563.6 1040V1357M575.0 1040V1357M586.5 1040V1357M597.9 1040V1357M609.3 1040V1357M620.7 1040V1357M632.2 1040V1357M643.6 1040V1357M655.0 1040V1357M666.5 1040V1357" stroke="#9a9a9a" stroke-width="0.8" stroke-dasharray="1 2" fill="none"/>
<rect x="94.7" y="1358.9" width="3.5" height="73.6" fill="#a8b8c0"/>
<rect x="98" y="1358.9" width="2.4" height="73.6" fill="#c07880"/>
<rect x="100.2" y="1358.9" width="3" height="73.6" fill="#c0bcc0"/>
<rect x="103" y="1358.9" width="3.7" height="73.6" fill="#b8a0c0"/>
<rect x="106.5" y="1358.9" width="3.7" height="73.6" fill="#90b0b8"/>
<rect x="110" y="1358.9" width="3.2" height="73.6" fill="#a0a8a0"/>
<rect x="113" y="1358.9" width="1.34" height="73.6" fill="#80a0a0"/>
<rect x="114.19" y="1358.9" width="1.04" height="73.6" fill="#80a0a0"/>
<rect x="115.08" y="1358.9" width="1.67" height="73.6" fill="#80a0a0"/>
<rect x="116.6" y="1358.9" width="10" height="73.6" fill="#00ffff"/>
<rect x="126.4" y="1358.9" width="1.37" height="73.6" fill="#40e0d0"/>
<rect x="127.62" y="1358.9" width="0.68" height="73.6" fill="#4169e1"/>
<rect x="128.15" y="1358.9" width="1.5" height="73.6" fill="#6080c0"/>
<rect x="129.5" y="1358.9" width="1.36" height="73.6" fill="#c08080"/>
<rect x="130.72" y="1358.9" width="0.77" height="73.6" fill="#4169e1"/>
<rect x="131.34" y="1358.9" width="1.61" height="73.6" fill="#b0a0b0"/>
<rect x="132.8" y="1358.9" width="1.25" height="73.6" fill="#8a9aa0"/>
<rect x="133.89" y="1358.9" width="0.92" height="73.6" fill="#6080c0"/>
<rect x="134.67" y="1358.9" width="1.1" height="73.6" fill="#c08080"/>
<rect x="135.62" y="1358.9" width="1.66" height="73.6" fill="#b0a0b0"/>
<rect x="137.13" y="1358.9" width="0.83" height="73.6" fill="#909090"/>
<rect x="137.8" y="1358.9" width="0.8" height="73.6" fill="#8a9aa0"/>
<rect x="138.45" y="1358.9" width="1.14" height="73.6" fill="#c08080"/>
<rect x="139.44" y="1358.9" width="0.65" height="73.6" fill="#5a9a90"/>
<rect x="139.95" y="1358.9" width="0.88" height="73.6" fill="#6080c0"/>
<rect x="140.68" y="1358.9" width="1.71" height="73.6" fill="#c08080"/>
<rect x="142.23" y="1358.9" width="1.61" height="73.6" fill="#70c0a0"/>
<rect x="143.69" y="1358.9" width="1" height="73.6" fill="#6080c0"/>
<rect x="144.54" y="1358.9" width="1.24" height="73.6" fill="#6080c0"/>
<rect x="145.63" y="1358.9" width="0.85" height="73.6" fill="#6080c0"/>
<rect x="146.33" y="1358.9" width="1.71" height="73.6" fill="#b0a0b0"/>
<rect x="147.89" y="1358.9" width="0.98" height="73.6" fill="#a09070"/>
<rect x="148.72" y="1358.9" width="1.11" height="73.6" fill="#c08080"/>
<rect x="149.68" y="1358.9" width="0.94" height="73.6" fill="#a09070"/>
<rect x="150.47" y="1358.9" width="0.98" height="73.6" fill="#8a9aa0"/>
<rect x="151.3" y="1358.9" width="1.29" height="73.6" fill="#8a9aa0"/>
<rect x="152.44" y="1358.9" width="0.21" height="73.6" fill="#a09070"/>
<rect x="152.5" y="1358.9" width="4.1" height="73.6" fill="#a05050"/>
<rect x="156.4" y="1358.9" width="0.72" height="73.6" fill="#5080a0"/>
<rect x="156.97" y="1358.9" width="1.55" height="73.6" fill="#40a0a0"/>
<rect x="158.37" y="1358.9" width="1.42" height="73.6" fill="#6a8a7a"/>
<rect x="159.64" y="1358.9" width="1.18" height="73.6" fill="#6a8a7a"/>
<rect x="160.67" y="1358.9" width="0.71" height="73.6" fill="#5a9a90"/>
<rect x="161.23" y="1358.9" width="1.69" height="73.6" fill="#5080a0"/>
<rect x="162.78" y="1358.9" width="1.58" height="73.6" fill="#5a9a90"/>
<rect x="164.2" y="1358.9" width="1.25" height="73.6" fill="#609a80"/>
<rect x="165.31" y="1358.9" width="1.05" height="73.6" fill="#5a9a90"/>
<rect x="166.21" y="1358.9" width="1.15" height="73.6" fill="#6a8a7a"/>
<rect x="167.21" y="1358.9" width="1.34" height="73.6" fill="#4a7a90"/>
<rect x="168.4" y="1358.9" width="0.78" height="73.6" fill="#4a7a90"/>
<rect x="169.03" y="1358.9" width="1.67" height="73.6" fill="#40a0a0"/>
<rect x="170.55" y="1358.9" width="1.03" height="73.6" fill="#5080a0"/>
<rect x="171.43" y="1358.9" width="1.63" height="73.6" fill="#8a8a70"/>
<rect x="172.91" y="1358.9" width="1.5" height="73.6" fill="#708890"/>
<rect x="174.26" y="1358.9" width="1.3" height="73.6" fill="#5080a0"/>
<rect x="175.41" y="1358.9" width="1.6" height="73.6" fill="#5a9a90"/>
<rect x="176.86" y="1358.9" width="1.13" height="73.6" fill="#708890"/>
<rect x="177.83" y="1358.9" width="0.88" height="73.6" fill="#7a9a8a"/>
<rect x="178.56" y="1358.9" width="1.32" height="73.6" fill="#6a8a7a"/>
<rect x="179.74" y="1358.9" width="1.02" height="73.6" fill="#7a9a8a"/>
<rect x="180.61" y="1358.9" width="0.75" height="73.6" fill="#5080a0"/>
<rect x="181.21" y="1358.9" width="0.99" height="73.6" fill="#708890"/>
<rect x="182.05" y="1358.9" width="1.34" height="73.6" fill="#8a8a70"/>
<rect x="183.24" y="1358.9" width="1.75" height="73.6" fill="#6a8a7a"/>
<rect x="184.83" y="1358.9" width="1.44" height="73.6" fill="#708890"/>
<rect x="186.13" y="1358.9" width="1.74" height="73.6" fill="#7a9a8a"/>
<rect x="187.71" y="1358.9" width="1.67" height="73.6" fill="#5a9a90"/>
<rect x="189.23" y="1358.9" width="0.91" height="73.6" fill="#5080a0"/>
<rect x="189.99" y="1358.9" width="1.56" height="73.6" fill="#40a0a0"/>
<rect x="191.4" y="1358.9" width="0.35" height="73.6" fill="#6a8a7a"/>
<rect x="191.6" y="1358.9" width="18.1" height="73.6" fill="#a020f0"/>
<rect x="209.5" y="1358.9" width="2.4" height="73.6" fill="#40e0d0"/>
<rect x="211.7" y="1358.9" width="21.4" height="73.6" fill="#ff0000"/>
<rect x="232.9" y="1358.9" width="2.7" height="73.6" fill="#40c060"/>
<rect x="235.4" y="1358.9" width="0.71" height="73.6" fill="#909090"/>
<rect x="235.96" y="1358.9" width="0.69" height="73.6" fill="#4169e1"/>
<rect x="236.5" y="1358.9" width="1.02" height="73.6" fill="#6090a0"/>
<rect x="237.36" y="1358.9" width="0.79" height="73.6" fill="#909090"/>
<rect x="238.01" y="1358.9" width="1.27" height="73.6" fill="#6090a0"/>
<rect x="239.13" y="1358.9" width="1.22" height="73.6" fill="#4169e1"/>
<rect x="240.2" y="1358.9" width="2.7" height="73.6" fill="#e08070"/>
<rect x="242.7" y="1358.9" width="0.77" height="73.6" fill="#909090"/>
<rect x="243.32" y="1358.9" width="1.06" height="73.6" fill="#50c070"/>
<rect x="244.23" y="1358.9" width="1.58" height="73.6" fill="#909090"/>
<rect x="245.66" y="1358.9" width="0.81" height="73.6" fill="#70b080"/>
<rect x="246.31" y="1358.9" width="1.59" height="73.6" fill="#70b080"/>
<rect x="247.75" y="1358.9" width="1.15" height="73.6" fill="#909090"/>
<rect x="248.75" y="1358.9" width="0.6" height="73.6" fill="#909090"/>
<rect x="249.2" y="1358.9" width="6" height="73.6" fill="#ffffe0"/>
<rect x="255" y="1358.9" width="7.6" height="73.6" fill="#999999"/>
<rect x="262.4" y="1358.9" width="3.8" height="73.6" fill="#40b070"/>
<rect x="266" y="1358.9" width="6.8" height="73.6" fill="#fa8072"/>
<rect x="272.6" y="1358.9" width="2.4" height="73.6" fill="#8b3a2a"/>
<rect x="274.8" y="1358.9" width="1.18" height="73.6" fill="#909090"/>
<rect x="275.83" y="1358.9" width="1.17" height="73.6" fill="#4169e1"/>
<rect x="276.84" y="1358.9" width="0.77" height="73.6" fill="#4169e1"/>
<rect x="277.47" y="1358.9" width="1.08" height="73.6" fill="#909090"/>
<rect x="278.4" y="1358.9" width="3.8" height="73.6" fill="#50d050"/>
<rect x="282" y="1358.9" width="1.6" height="73.6" fill="#c060a0"/>
<rect x="283.45" y="1358.9" width="0.75" height="73.6" fill="#ff00ff"/>
<rect x="284.05" y="1358.9" width="1.22" height="73.6" fill="#909090"/>
<rect x="285.12" y="1358.9" width="0.83" height="73.6" fill="#ff00ff"/>
<rect x="285.8" y="1358.9" width="3.2" height="73.6" fill="#907060"/>
<rect x="288.8" y="1358.9" width="4.2" height="73.6" fill="#4169e1"/>
<rect x="292.8" y="1358.9" width="15.9" height="73.6" fill="#ff00ff"/>
<rect x="308.5" y="1358.9" width="2.4" height="73.6" fill="#b09090"/>
<rect x="310.7" y="1358.9" width="0.72" height="73.6" fill="#203060"/>
<rect x="311.27" y="1358.9" width="1.41" height="73.6" fill="#40a0a0"/>
<rect x="312.53" y="1358.9" width="1.49" height="73.6" fill="#203060"/>
<rect x="313.87" y="1358.9" width="1.27" height="73.6" fill="#203060"/>
<rect x="315" y="1358.9" width="1.57" height="73.6" fill="#60d060"/>
<rect x="316.42" y="1358.9" width="1.5" height="73.6" fill="#60d060"/>
<rect x="317.77" y="1358.9" width="1.7" height="73.6" fill="#60d060"/>
<rect x="319.32" y="1358.9" width="1.36" height="73.6" fill="#00ff00"/>
<rect x="320.53" y="1358.9" width="1.17" height="73.6" fill="#60d060"/>
<rect x="321.55" y="1358.9" width="1.01" height="73.6" fill="#60d060"/>
<rect x="322.41" y="1358.9" width="1.16" height="73.6" fill="#60d060"/>
<rect x="323.42" y="1358.9" width="1.03" height="73.6" fill="#60d060"/>
<rect x="324.3" y="1358.9" width="1.46" height="73.6" fill="#00ff00"/>
<rect x="325.62" y="1358.9" width="1.04" height="73.6" fill="#30e030"/>
<rect x="326.5" y="1358.9" width="1.61" height="73.6" fill="#00ff00"/>
<rect x="327.96" y="1358.9" width="1.72" height="73.6" fill="#60d060"/>
<rect x="329.53" y="1358.9" width="1.22" height="73.6" fill="#30e030"/>
<rect x="330.6" y="1358.9" width="0.87" height="73.6" fill="#60d060"/>
<rect x="331.32" y="1358.9" width="1.68" height="73.6" fill="#00ff00"/>
<rect x="332.85" y="1358.9" width="0.96" height="73.6" fill="#00ff00"/>
<rect x="333.66" y="1358.9" width="0.49" height="73.6" fill="#00ff00"/>
<rect x="334" y="1358.9" width="2.4" height="73.6" fill="#c0d0a0"/>
<rect x="336.2" y="1358.9" width="0.84" height="73.6" fill="#00ff00"/>
<rect x="336.89" y="1358.9" width="1.22" height="73.6" fill="#30e030"/>
<rect x="337.96" y="1358.9" width="0.98" height="73.6" fill="#00ff00"/>
<rect x="338.79" y="1358.9" width="1.5" height="73.6" fill="#00ff00"/>
<rect x="340.14" y="1358.9" width="0.95" height="73.6" fill="#00ff00"/>
<rect x="340.94" y="1358.9" width="0.87" height="73.6" fill="#00ff00"/>
<rect x="341.66" y="1358.9" width="1.14" height="73.6" fill="#00ff00"/>
<rect x="342.64" y="1358.9" width="0.85" height="73.6" fill="#00ff00"/>
<rect x="343.34" y="1358.9" width="0.85" height="73.6" fill="#00ff00"/>
<rect x="344.04" y="1358.9" width="0.7" height="73.6" fill="#30e030"/>
<rect x="344.58" y="1358.9" width="1.73" height="73.6" fill="#00ff00"/>
<rect x="346.16" y="1358.9" width="0.71" height="73.6" fill="#00ff00"/>
<rect x="346.72" y="1358.9" width="0.77" height="73.6" fill="#00ff00"/>
<rect x="347.34" y="1358.9" width="1.18" height="73.6" fill="#00ff00"/>
<rect x="348.37" y="1358.9" width="0.69" height="73.6" fill="#30e030"/>
<rect x="348.91" y="1358.9" width="1.04" height="73.6" fill="#00ff00"/>
<rect x="349.8" y="1358.9" width="1.32" height="73.6" fill="#00ff00"/>
<rect x="350.97" y="1358.9" width="0.68" height="73.6" fill="#00ff00"/>
<rect x="351.5" y="1358.9" width="2.4" height="73.6" fill="#90a050"/>
<rect x="353.7" y="1358.9" width="2.4" height="73.6" fill="#20e020"/>
<rect x="355.9" y="1358.9" width="13.3" height="73.6" fill="#adff2f"/>
<rect x="369" y="1358.9" width="1.64" height="73.6" fill="#00ff00"/>
<rect x="370.49" y="1358.9" width="1.04" height="73.6" fill="#00ff00"/>
<rect x="371.38" y="1358.9" width="1.59" height="73.6" fill="#00ff00"/>
<rect x="372.82" y="1358.9" width="1.41" height="73.6" fill="#00ff00"/>
<rect x="374.08" y="1358.9" width="1.71" height="73.6" fill="#00ff00"/>
<rect x="375.64" y="1358.9" width="0.75" height="73.6" fill="#00ff00"/>
<rect x="376.24" y="1358.9" width="1.7" height="73.6" fill="#00ff00"/>
<rect x="377.79" y="1358.9" width="1.7" height="73.6" fill="#00ff00"/>
<rect x="379.34" y="1358.9" width="1.11" height="73.6" fill="#00ff00"/>
<rect x="380.3" y="1358.9" width="1.16" height="73.6" fill="#00ff00"/>
<rect x="381.32" y="1358.9" width="1.31" height="73.6" fill="#30f030"/>
<rect x="382.47" y="1358.9" width="1.7" height="73.6" fill="#00ff00"/>
<rect x="384.03" y="1358.9" width="1.32" height="73.6" fill="#00ff00"/>
<rect x="385.2" y="1358.9" width="1.55" height="73.6" fill="#00ff00"/>
<rect x="386.6" y="1358.9" width="1.07" height="73.6" fill="#00ff00"/>
<rect x="387.52" y="1358.9" width="1.27" height="73.6" fill="#00ff00"/>
<rect x="388.64" y="1358.9" width="1.01" height="73.6" fill="#30f030"/>
<rect x="389.5" y="1358.9" width="1.12" height="73.6" fill="#00ff00"/>
<rect x="390.47" y="1358.9" width="1.19" height="73.6" fill="#30f030"/>
<rect x="391.52" y="1358.9" width="1.72" height="73.6" fill="#30f030"/>
<rect x="393.09" y="1358.9" width="1.07" height="73.6" fill="#00ff00"/>
<rect x="394.01" y="1358.9" width="1.31" height="73.6" fill="#00ff00"/>
<rect x="395.16" y="1358.9" width="1.47" height="73.6" fill="#00ff00"/>
<rect x="396.48" y="1358.9" width="1.2" height="73.6" fill="#30f030"/>
<rect x="397.52" y="1358.9" width="0.67" height="73.6" fill="#00ff00"/>
<rect x="398.05" y="1358.9" width="1.19" height="73.6" fill="#00ff00"/>
<rect x="399.09" y="1358.9" width="0.81" height="73.6" fill="#00ff00"/>
<rect x="399.74" y="1358.9" width="0.78" height="73.6" fill="#30f030"/>
<rect x="400.38" y="1358.9" width="0.92" height="73.6" fill="#00ff00"/>
<rect x="401.15" y="1358.9" width="1.51" height="73.6" fill="#30f030"/>
<rect x="402.51" y="1358.9" width="0.66" height="73.6" fill="#00ff00"/>
<rect x="403.02" y="1358.9" width="0.92" height="73.6" fill="#30f030"/>
<rect x="403.79" y="1358.9" width="1.51" height="73.6" fill="#00ff00"/>
<rect x="405.15" y="1358.9" width="1.19" height="73.6" fill="#00ff00"/>
<rect x="406.19" y="1358.9" width="1.44" height="73.6" fill="#00ff00"/>
<rect x="407.48" y="1358.9" width="0.47" height="73.6" fill="#30f030"/>
<rect x="407.8" y="1358.9" width="8.3" height="73.6" fill="#ffb6c1"/>
<rect x="415.9" y="1358.9" width="14.8" height="73.6" fill="#00ff00"/>
<rect x="430.5" y="1358.9" width="3.1" height="73.6" fill="#fa8072"/>
<rect x="433.4" y="1358.9" width="19.2" height="73.6" fill="#00ff00"/>
<rect x="452.4" y="1358.9" width="2.8" height="73.6" fill="#70b040"/>
<rect x="455" y="1358.9" width="13.9" height="73.6" fill="#fa8072"/>
<rect x="468.7" y="1358.9" width="2.1" height="73.6" fill="#6070a0"/>
<rect x="470.6" y="1358.9" width="2.6" height="73.6" fill="#605060"/>
<rect x="473" y="1358.9" width="1.22" height="73.6" fill="#8b7040"/>
<rect x="474.07" y="1358.9" width="0.67" height="73.6" fill="#8b7040"/>
<rect x="474.59" y="1358.9" width="0.98" height="73.6" fill="#a05030"/>
<rect x="475.42" y="1358.9" width="1.32" height="73.6" fill="#8b7040"/>
<rect x="476.59" y="1358.9" width="1.16" height="73.6" fill="#a05030"/>
<rect x="477.6" y="1358.9" width="0.55" height="73.6" fill="#8b7040"/>
<rect x="478" y="1358.9" width="0.69" height="73.6" fill="#a52a2a"/>
<rect x="478.54" y="1358.9" width="1.26" height="73.6" fill="#a03030"/>
<rect x="479.65" y="1358.9" width="1.63" height="73.6" fill="#a05040"/>
<rect x="481.13" y="1358.9" width="0.67" height="73.6" fill="#b06040"/>
<rect x="481.64" y="1358.9" width="1.3" height="73.6" fill="#b06040"/>
<rect x="482.8" y="1358.9" width="1.59" height="73.6" fill="#b06040"/>
<rect x="484.24" y="1358.9" width="1.17" height="73.6" fill="#a05040"/>
<rect x="485.26" y="1358.9" width="1.64" height="73.6" fill="#b06040"/>
<rect x="486.75" y="1358.9" width="1.56" height="73.6" fill="#a03030"/>
<rect x="488.17" y="1358.9" width="0.98" height="73.6" fill="#a03030"/>
<rect x="489" y="1358.9" width="1.41" height="73.6" fill="#b06040"/>
<rect x="490.26" y="1358.9" width="1.29" height="73.6" fill="#b06040"/>
<rect x="491.4" y="1358.9" width="0.65" height="73.6" fill="#a05040"/>
<rect x="491.9" y="1358.9" width="12.2" height="73.6" fill="#d2b48c"/>
<rect x="503.9" y="1358.9" width="27.6" height="73.6" fill="#a52a2a"/>
<rect x="531.3" y="1358.9" width="0.83" height="73.6" fill="#40e0d0"/>
<rect x="531.98" y="1358.9" width="1.63" height="73.6" fill="#3070e0"/>
<rect x="533.46" y="1358.9" width="1.24" height="73.6" fill="#4169e1"/>
<rect x="534.55" y="1358.9" width="1.29" height="73.6" fill="#3090d0"/>
<rect x="535.7" y="1358.9" width="0.73" height="73.6" fill="#40c0c0"/>
<rect x="536.27" y="1358.9" width="0.94" height="73.6" fill="#3090d0"/>
<rect x="537.06" y="1358.9" width="1.52" height="73.6" fill="#3090d0"/>
<rect x="538.44" y="1358.9" width="1.02" height="73.6" fill="#4169e1"/>
<rect x="539.3" y="1358.9" width="1.73" height="73.6" fill="#4169e1"/>
<rect x="540.88" y="1358.9" width="1.42" height="73.6" fill="#3090d0"/>
<rect x="542.15" y="1358.9" width="0.79" height="73.6" fill="#3090d0"/>
<rect x="542.79" y="1358.9" width="0.89" height="73.6" fill="#3090d0"/>
<rect x="543.53" y="1358.9" width="1.43" height="73.6" fill="#40c0c0"/>
<rect x="544.81" y="1358.9" width="1.74" height="73.6" fill="#4169e1"/>
<rect x="546.4" y="1358.9" width="0.81" height="73.6" fill="#40e0d0"/>
<rect x="547.07" y="1358.9" width="0.85" height="73.6" fill="#40c0c0"/>
<rect x="547.77" y="1358.9" width="0.72" height="73.6" fill="#40c0c0"/>
<rect x="548.35" y="1358.9" width="0.7" height="73.6" fill="#3090d0"/>
<rect x="548.89" y="1358.9" width="1.38" height="73.6" fill="#3090d0"/>
<rect x="550.12" y="1358.9" width="0.96" height="73.6" fill="#40e0d0"/>
<rect x="550.93" y="1358.9" width="1.28" height="73.6" fill="#4169e1"/>
<rect x="552.06" y="1358.9" width="1.62" height="73.6" fill="#40c0c0"/>
<rect x="553.53" y="1358.9" width="0.66" height="73.6" fill="#3090d0"/>
<rect x="554.04" y="1358.9" width="0.81" height="73.6" fill="#40e0d0"/>
<rect x="554.7" y="1358.9" width="2.4" height="73.6" fill="#20d040"/>
<rect x="556.9" y="1358.9" width="2.3" height="73.6" fill="#2040f0"/>
<rect x="559" y="1358.9" width="3.2" height="73.6" fill="#0000ff"/>
<rect x="562" y="1358.9" width="7.6" height="73.6" fill="#191970"/>
<rect x="569.4" y="1358.9" width="42.2" height="73.6" fill="#0000ff"/>
<rect x="611.4" y="1358.9" width="56.3" height="73.6" fill="#40e0d0"/>
<line x1="94.7" y1="1358.9" x2="667.5" y2="1358.9" stroke="#555" stroke-width="1.4"/>
<line x1="94.7" y1="1432.5" x2="667.5" y2="1432.5" stroke="#555" stroke-width="1.4"/>
<line x1="211.8" y1="1050" x2="211.8" y2="1082.5" stroke="#6a6a6a" stroke-width="3.4"/>
<path d="M94.70 1036.3V1051.8M95.05 1036.7V1047.3M95.40 1036.4V1049.4M95.75 1036.7V1048.4M96.10 1035.9V1054.9M96.45 1036.1V1057.2M96.80 1036.7V1049.3M97.15 1035.9V1047.2M97.50 1036.4V1055.1M97.85 1036.3V1049.3M98.20 1036.3V1049.4M98.55 1036.3V1049.6M98.90 1036.6V1051.6M99.25 1036.6V1048.4M99.60 1036.7V1048.2M99.95 1036.5V1055.5M100.30 1036.1V1054.8M100.65 1036.6V1052.9M101.00 1036.2V1051.2M101.35 1036.8V1046.6M101.70 1036.8V1046.9M102.05 1035.9V1046.2M102.40 1036.0V1060.8M102.75 1036.5V1049.2M103.10 1036.1V1061.5M103.45 1036.1V1047.9M103.80 1036.5V1055.5M104.15 1036.7V1050.9M104.50 1035.9V1055.2M104.85 1036.5V1056.5M105.20 1036.1V1049.9M105.55 1035.9V1048.1M105.90 1036.6V1053.3M106.25 1036.1V1048.2M106.60 1036.8V1051.4M106.95 1036.4V1052.4M107.30 1036.7V1053.5M107.65 1036.0V1046.8M108.00 1036.8V1054.3M108.35 1036.0V1046.1M108.70 1036.4V1049.5M109.05 1036.3V1052.5M109.40 1036.0V1054.2M109.75 1036.6V1061.3M110.10 1036.5V1054.1M110.45 1035.9V1052.6M110.80 1036.4V1054.6M111.15 1035.8V1051.3M111.50 1036.4V1063.5M111.85 1036.0V1052.9M112.20 1036.0V1059.0M112.55 1036.6V1066.4M112.90 1036.0V1051.9M113.25 1036.4V1049.0M113.60 1036.2V1051.8M113.95 1035.9V1052.1M114.30 1036.5V1088.8M114.65 1036.4V1048.9M115.00 1036.6V1048.6M115.35 1035.9V1050.3M115.70 1036.5V1065.4M116.05 1036.5V1049.5M116.40 1036.0V1055.8M116.75 1036.7V1048.9M117.10 1036.6V1053.9M117.45 1035.8V1060.2M117.80 1035.9V1045.9M118.15 1036.5V1048.2M118.50 1035.8V1047.3M118.85 1036.6V1049.2M119.20 1036.1V1049.0M119.55 1036.1V1049.0M119.90 1036.5V1045.8M120.25 1036.8V1051.2M120.60 1036.1V1048.9M120.95 1036.3V1046.6M121.30 1036.2V1050.5M121.65 1036.0V1050.5M122.00 1036.4V1048.3M122.35 1036.6V1049.5M122.70 1036.1V1048.1M123.05 1036.4V1045.9M123.40 1036.5V1048.8M123.75 1036.3V1045.7M124.10 1036.7V1048.9M124.45 1035.8V1050.0M124.80 1036.5V1049.5M125.15 1036.0V1050.1M125.50 1036.3V1055.7M125.85 1036.2V1056.7M126.20 1036.5V1049.0M126.55 1036.3V1047.2M126.90 1036.0V1047.0M127.25 1036.2V1049.7M127.60 1036.7V1055.2M127.95 1036.3V1050.7M128.30 1035.9V1051.6M128.65 1035.9V1052.3M129.00 1036.6V1050.8M129.35 1036.4V1050.5M129.70 1036.3V1050.7M130.05 1036.6V1061.0M130.40 1036.4V1046.0M130.75 1036.2V1048.9M131.10 1036.6V1047.5M131.45 1035.8V1052.8M131.80 1036.7V1051.4M132.15 1036.8V1058.3M132.50 1036.0V1045.6M132.85 1036.8V1048.4M133.20 1036.6V1053.4M133.55 1036.4V1047.4M133.90 1035.9V1054.1M134.25 1036.2V1054.4M134.60 1036.2V1051.8M134.95 1036.0V1049.6M135.30 1036.1V1059.4M135.65 1036.5V1050.4M136.00 1035.9V1054.2M136.35 1036.6V1060.3M136.70 1035.9V1047.7M137.05 1036.5V1052.2M137.40 1036.4V1049.8M137.75 1036.0V1051.5M138.10 1036.0V1047.1M138.45 1036.7V1049.1M138.80 1035.9V1050.2M139.15 1036.4V1048.7M139.50 1035.9V1050.2M139.85 1035.9V1049.6M140.20 1036.3V1046.3M140.55 1036.3V1058.1M140.90 1036.7V1055.5M141.25 1036.6V1050.6M141.60 1035.9V1048.6M141.95 1036.6V1050.2M142.30 1036.1V1049.1M142.65 1036.7V1051.5M143.00 1036.7V1050.8M143.35 1036.6V1047.7M143.70 1036.0V1070.6M144.05 1036.6V1060.2M144.40 1036.3V1064.7M144.75 1036.8V1045.5M145.10 1036.2V1053.2M145.45 1036.3V1055.0M145.80 1035.8V1083.1M146.15 1036.6V1047.9M146.50 1035.9V1053.8M146.85 1036.6V1045.9M147.20 1036.2V1049.1M147.55 1036.2V1067.2M147.90 1036.1V1048.7M148.25 1036.8V1050.0M148.60 1036.0V1058.0M148.95 1036.0V1047.5M149.30 1035.9V1049.0M149.65 1036.6V1049.2M150.00 1036.8V1048.9M150.35 1036.8V1053.9M150.70 1035.8V1062.7M151.05 1036.4V1051.5M151.40 1035.8V1053.0M151.75 1036.3V1062.5M152.10 1036.5V1051.9M152.45 1036.0V1053.1M152.80 1036.6V1051.1M153.15 1036.7V1053.5M153.50 1036.0V1048.2M153.85 1036.0V1048.7M154.20 1036.2V1047.6M154.55 1035.9V1046.5M154.90 1036.4V1055.2M155.25 1035.9V1047.9M155.60 1036.2V1050.8M155.95 1036.5V1048.9M156.30 1036.3V1047.3M156.65 1036.2V1047.5M157.00 1036.6V1046.0M157.35 1036.5V1047.5M157.70 1036.1V1059.7M158.05 1036.4V1046.7M158.40 1036.2V1058.1M158.75 1036.3V1057.0M159.10 1036.8V1045.7M159.45 1035.8V1047.9M159.80 1036.5V1045.3M160.15 1036.0V1052.2M160.50 1036.0V1054.4M160.85 1036.0V1058.5M161.20 1036.6V1050.1M161.55 1035.9V1057.3M161.90 1036.4V1050.5M162.25 1036.4V1048.9M162.60 1036.6V1053.1M162.95 1036.4V1046.4M163.30 1036.4V1049.0M163.65 1036.6V1049.1M164.00 1036.3V1045.3M164.35 1036.4V1047.5M164.70 1036.5V1056.3M165.05 1036.2V1054.8M165.40 1036.3V1046.2M165.75 1036.1V1046.6M166.10 1036.0V1054.2M166.45 1036.4V1060.8M166.80 1036.6V1051.5M167.15 1036.7V1047.1M167.50 1036.3V1052.5M167.85 1036.5V1047.7M168.20 1036.2V1050.4M168.55 1036.2V1051.2M168.90 1036.5V1054.2M169.25 1036.4V1051.5M169.60 1036.1V1051.0M169.95 1036.6V1054.5M170.30 1036.1V1048.4M170.65 1036.3V1056.7M171.00 1036.1V1051.1M171.35 1036.2V1062.0M171.70 1036.1V1050.5M172.05 1036.0V1054.1M172.40 1036.2V1049.6M172.75 1036.0V1049.6M173.10 1036.3V1050.8M173.45 1035.8V1050.9M173.80 1036.3V1050.0M174.15 1036.0V1049.7M174.50 1036.1V1051.1M174.85 1036.0V1056.1M175.20 1036.3V1053.1M175.55 1035.9V1054.1M175.90 1035.9V1055.6M176.25 1036.1V1049.0M176.60 1036.6V1048.1M176.95 1036.1V1048.6M177.30 1036.7V1050.4M177.65 1036.1V1080.5M178.00 1036.2V1045.6M178.35 1035.8V1052.1M178.70 1036.8V1049.7M179.05 1035.9V1060.7M179.40 1036.3V1053.3M179.75 1036.1V1046.8M180.10 1036.2V1047.1M180.45 1036.4V1050.7M180.80 1036.5V1047.1M181.15 1036.1V1055.4M181.50 1035.8V1068.4M181.85 1035.9V1048.6M182.20 1036.0V1054.7M182.55 1035.9V1055.9M182.90 1036.4V1050.3M183.25 1036.6V1049.0M183.60 1036.0V1050.6M183.95 1036.2V1048.4M184.30 1036.4V1061.8M184.65 1036.6V1048.1M185.00 1036.0V1053.9M185.35 1036.1V1052.5M185.70 1036.6V1048.7M186.05 1036.7V1053.5M186.40 1036.3V1048.4M186.75 1035.8V1050.6M187.10 1036.6V1052.2M187.45 1036.4V1047.7M187.80 1036.1V1048.8M188.15 1036.2V1049.8M188.50 1036.0V1049.0M188.85 1036.3V1062.2M189.20 1036.2V1054.8M189.55 1036.4V1059.1M189.90 1036.3V1052.2M190.25 1036.6V1049.4M190.60 1036.5V1050.5M190.95 1036.3V1047.8M191.30 1035.8V1055.6M191.65 1036.0V1049.2M192.00 1036.5V1047.1M192.35 1036.2V1053.6M192.70 1036.7V1047.2M193.05 1035.9V1051.1M193.40 1036.4V1046.4M193.75 1036.4V1055.4M194.10 1036.6V1059.0M194.45 1036.3V1047.8M194.80 1036.3V1046.8M195.15 1036.0V1060.0M195.50 1036.3V1046.5M195.85 1036.6V1052.5M196.20 1036.3V1052.1M196.55 1036.7V1049.5M196.90 1036.5V1050.3M197.25 1036.8V1048.9M197.60 1036.3V1049.5M197.95 1036.2V1045.4M232.50 1035.9V1051.4M232.85 1036.7V1057.9M233.20 1036.7V1063.1M233.55 1036.2V1052.0M233.90 1036.6V1051.7M234.25 1036.0V1061.0M234.60 1036.6V1051.2M234.95 1035.9V1058.0M235.30 1036.7V1054.3M235.65 1035.9V1055.8M236.00 1035.8V1055.4M236.35 1036.7V1050.7M236.70 1036.4V1054.0M237.05 1035.8V1055.5M237.40 1036.2V1050.3M237.75 1036.6V1053.4M238.10 1036.5V1051.5M238.45 1036.7V1050.7M238.80 1036.0V1054.7M239.15 1036.0V1052.1M239.50 1036.6V1053.3M239.85 1036.4V1055.9M240.20 1036.0V1051.6M240.55 1036.1V1054.8M240.90 1036.6V1056.2M241.25 1036.4V1064.8M241.60 1036.8V1048.1M241.95 1036.0V1056.4M242.30 1036.2V1060.9M242.65 1036.4V1050.4M243.00 1036.3V1057.3M243.35 1036.4V1063.6M243.70 1036.0V1051.3M244.05 1036.5V1057.9M244.40 1036.1V1052.4M244.75 1035.9V1053.6M245.10 1036.7V1053.6M245.45 1036.6V1050.8M245.80 1036.8V1060.7M246.15 1036.8V1052.1M246.50 1036.8V1054.2M246.85 1036.0V1052.6M247.20 1036.3V1051.5M247.55 1036.6V1051.6M247.90 1036.2V1061.0M248.25 1036.7V1058.0M248.60 1036.5V1068.9M248.95 1036.2V1059.4M249.30 1036.0V1054.5M249.65 1036.3V1051.9M250.00 1036.0V1052.1M250.35 1035.9V1051.4M250.70 1036.3V1050.7M251.05 1036.5V1054.0M251.40 1036.5V1049.2M251.75 1035.8V1060.3M252.10 1036.2V1049.4M252.45 1035.8V1054.0M252.80 1036.8V1057.1M253.15 1036.1V1049.8M253.50 1036.3V1062.6M253.85 1036.1V1055.5M254.20 1035.8V1053.1M254.55 1036.3V1066.9M254.90 1036.0V1053.6M255.25 1035.9V1062.7M255.60 1036.0V1050.9M255.95 1036.2V1057.1M256.30 1036.0V1050.5M256.65 1036.7V1075.9M257.00 1035.9V1051.7M257.35 1036.3V1050.7M257.70 1036.5V1052.0M258.05 1036.1V1061.9M258.40 1036.0V1050.3M258.75 1036.2V1053.0M259.10 1035.9V1055.1M259.45 1036.2V1048.9M259.80 1036.1V1051.0M260.15 1036.5V1052.8M260.50 1036.8V1053.1M260.85 1036.2V1051.9M261.20 1036.3V1074.7M261.55 1035.9V1050.5M261.90 1036.8V1052.8M262.25 1036.4V1052.5M262.60 1036.0V1053.9M262.95 1036.3V1055.0M263.30 1035.8V1053.1M263.65 1036.8V1054.0M264.00 1036.7V1053.1M264.35 1036.0V1051.4M264.70 1036.1V1067.4M265.05 1036.3V1054.8M265.40 1036.5V1050.1M265.75 1036.0V1052.6M266.10 1036.7V1050.8M266.45 1036.5V1053.9M266.80 1036.0V1069.1M267.15 1036.4V1060.3M267.50 1036.2V1050.9M267.85 1035.9V1050.2M268.20 1036.3V1052.9M268.55 1036.4V1053.3M268.90 1036.3V1053.0M269.25 1036.1V1056.9M269.60 1036.2V1060.6M269.95 1036.2V1054.3M270.30 1036.2V1052.6M270.65 1036.0V1063.3M271.00 1036.1V1055.7M271.35 1036.7V1053.4M271.70 1036.7V1051.3M272.05 1036.8V1052.0M272.40 1036.4V1051.4M272.75 1036.0V1050.6M273.10 1036.6V1051.2M273.45 1036.0V1062.8M273.80 1036.6V1049.8M274.15 1036.3V1052.3M274.50 1035.9V1055.3M274.85 1036.6V1049.8M275.20 1036.2V1053.5M275.55 1036.4V1051.7M275.90 1036.6V1051.0M276.25 1036.6V1056.2M276.60 1036.4V1058.1M276.95 1036.6V1055.6M277.30 1036.7V1061.8M277.65 1035.9V1055.6M278.00 1036.6V1071.1M278.35 1036.1V1051.9M278.70 1036.2V1053.3M279.05 1036.3V1054.5M279.40 1036.3V1052.8M279.75 1035.8V1051.7M280.10 1036.4V1052.5M280.45 1036.6V1051.6M280.80 1035.9V1054.8M281.15 1035.9V1050.2M281.50 1036.7V1052.7M281.85 1036.1V1052.1M282.20 1036.6V1059.7M282.55 1036.4V1063.5M282.90 1036.5V1061.7M283.25 1035.9V1054.0M283.60 1036.4V1049.2M283.95 1035.9V1050.2M284.30 1036.7V1050.2M284.65 1036.5V1052.1M285.00 1036.0V1055.9M285.35 1036.4V1055.1M285.70 1036.3V1049.2M286.05 1036.3V1054.7M286.40 1036.6V1048.8M286.75 1036.7V1051.2M287.10 1035.8V1053.7M287.45 1036.8V1053.4M287.80 1036.3V1051.0M288.15 1036.6V1063.9M288.50 1036.8V1054.9M288.85 1036.7V1056.8M289.20 1035.8V1057.0M289.55 1036.2V1050.5M289.90 1036.7V1050.1M290.25 1036.1V1048.7M290.60 1035.9V1054.3M290.95 1035.9V1064.2M308.00 1036.0V1054.5M308.35 1036.5V1054.4M308.70 1036.3V1051.9M309.05 1036.8V1050.9M309.40 1036.5V1052.6M309.75 1036.6V1055.1M310.10 1036.5V1082.0M310.45 1036.4V1059.0M310.80 1035.9V1057.9M311.15 1036.0V1073.8M311.50 1036.7V1052.9M311.85 1036.5V1061.6M312.20 1036.5V1056.8M312.55 1036.7V1052.4M312.90 1035.9V1060.0M313.25 1036.7V1051.1M313.60 1036.5V1054.8M313.95 1036.0V1060.7M314.30 1036.5V1055.1M314.65 1036.2V1053.8M315.00 1036.3V1061.9M315.35 1035.9V1061.2M315.70 1036.1V1067.7M316.05 1035.9V1054.9M316.40 1036.3V1062.0M316.75 1036.4V1055.0M317.10 1036.6V1052.6M317.45 1036.6V1053.6M317.80 1036.7V1057.6M318.15 1036.8V1055.2M318.50 1036.3V1055.0M318.85 1036.8V1054.3M319.20 1036.5V1054.8M319.55 1036.5V1059.1M319.90 1036.2V1055.1M320.25 1036.0V1052.0M320.60 1036.7V1056.7M320.95 1036.0V1063.1M321.30 1036.0V1054.7M321.65 1035.9V1053.4M322.00 1035.9V1055.2M322.35 1036.1V1069.9M322.70 1036.5V1058.2M323.05 1036.1V1056.2M323.40 1036.5V1059.1M323.75 1036.6V1052.2M324.10 1036.2V1054.0M324.45 1036.1V1054.1M324.80 1036.7V1051.2M325.15 1035.8V1057.8M325.50 1036.3V1056.2M325.85 1036.2V1051.8M326.20 1036.8V1053.4M326.55 1036.0V1056.7M326.90 1036.5V1053.8M327.25 1036.6V1051.5M327.60 1036.5V1055.1M327.95 1036.2V1054.7M328.30 1036.2V1054.7M328.65 1036.7V1082.2M329.00 1036.0V1053.7M329.35 1036.0V1057.9M329.70 1036.6V1055.4M330.05 1036.8V1051.8M330.40 1036.7V1060.0M330.75 1036.8V1057.8M331.10 1036.6V1053.4M331.45 1036.1V1057.4M331.80 1035.8V1077.8M332.15 1036.4V1055.0M332.50 1036.4V1055.8M332.85 1036.7V1061.2M333.20 1036.5V1054.0M333.55 1036.3V1052.2M333.90 1036.8V1059.4M334.25 1036.6V1051.7M334.60 1036.0V1058.8M334.95 1036.2V1053.3M335.30 1036.5V1060.8M335.65 1036.4V1052.3M336.00 1036.1V1052.0M336.35 1035.9V1059.6M336.70 1036.4V1062.9M337.05 1036.4V1054.2M337.40 1036.8V1054.6M337.75 1036.6V1054.7M338.10 1036.5V1057.9M338.45 1036.4V1052.6M338.80 1036.7V1061.0M339.15 1036.1V1053.5M339.50 1036.3V1054.6M339.85 1036.1V1053.1M340.20 1036.0V1052.7M340.55 1035.9V1068.3M340.90 1035.9V1056.3M341.25 1035.9V1055.3M341.60 1035.9V1052.2M341.95 1036.1V1062.2M342.30 1036.0V1066.4M342.65 1036.1V1051.9M343.00 1036.7V1056.9M343.35 1036.7V1053.6M343.70 1036.3V1054.6M344.05 1036.4V1059.7M344.40 1036.3V1056.8M344.75 1036.0V1054.3M345.00 1037.3V1054.2M345.35 1037.5V1051.5M345.70 1036.4V1055.7M346.05 1036.5V1058.1M346.40 1036.7V1052.0M346.75 1037.0V1057.9M347.10 1038.5V1056.9M347.45 1038.3V1065.6M347.80 1038.3V1055.8M348.15 1038.4V1052.8M348.50 1037.9V1053.8M348.85 1038.5V1055.4M349.20 1038.1V1058.6M349.55 1038.7V1060.3M349.90 1037.8V1054.4M350.25 1039.0V1054.8M350.60 1039.2V1052.9M350.95 1039.7V1073.5M351.30 1039.7V1054.6M351.65 1040.4V1067.6M352.00 1040.0V1057.3M352.35 1039.6V1058.0M352.70 1039.4V1056.2M353.05 1040.3V1050.9M353.40 1040.0V1054.7M353.75 1039.8V1058.6M354.10 1040.9V1063.7M354.45 1039.9V1056.3M354.80 1041.6V1060.2M355.15 1041.6V1052.4M355.50 1041.6V1060.5M355.85 1040.8V1059.2M356.20 1041.2V1051.4M356.55 1041.0V1051.4M356.90 1041.6V1054.7M357.25 1042.1V1054.0M357.60 1041.5V1050.6M357.95 1041.6V1054.6M358.30 1042.6V1055.9M358.65 1042.8V1057.4M359.00 1041.8V1060.0M359.35 1042.5V1056.9M359.70 1043.5V1051.1M360.05 1043.6V1058.6M360.40 1042.2V1060.7M360.75 1043.7V1056.7M361.10 1042.5V1055.3M361.45 1043.8V1054.7M361.80 1043.4V1060.0M362.15 1042.8V1061.3M362.50 1044.1V1055.9M362.85 1042.9V1055.3M363.20 1044.0V1051.8M363.55 1043.3V1065.6M363.90 1044.9V1052.9M364.25 1045.2V1052.8M364.60 1045.4V1061.0M364.95 1045.1V1052.5M365.30 1044.8V1058.1M365.65 1045.2V1058.8M366.00 1044.5V1055.0M366.35 1046.1V1067.4M366.70 1045.0V1058.1M367.05 1046.4V1054.9M367.40 1045.1V1053.2M367.75 1046.4V1054.7M368.00 1038.9V1060.0M368.35 1038.4V1054.7M368.70 1038.6V1057.3M369.05 1039.7V1065.1M369.40 1039.3V1055.5M369.75 1039.6V1057.0M370.10 1038.7V1060.9M370.45 1040.1V1054.2M370.80 1040.5V1053.6M371.15 1040.5V1058.2M371.50 1040.3V1064.1M371.85 1039.3V1067.8M372.20 1040.6V1056.6M372.55 1041.1V1064.1M372.90 1040.2V1065.9M373.25 1040.3V1057.3M373.60 1039.7V1057.5M373.95 1040.5V1063.2M374.30 1041.5V1068.7M374.65 1040.3V1060.4M375.00 1041.7V1062.0M375.35 1041.5V1058.1M375.70 1041.8V1052.7M376.05 1041.8V1057.0M376.40 1041.7V1054.5M376.75 1040.9V1060.2M377.10 1041.3V1080.4M377.45 1040.5V1060.9M377.80 1042.3V1057.2M378.15 1042.0V1059.0M378.50 1042.2V1058.1M378.85 1041.2V1055.7M379.20 1041.0V1054.8M379.55 1042.6V1055.9M379.90 1041.5V1058.7M380.25 1041.5V1072.2M380.60 1041.4V1054.0M380.95 1041.5V1068.0M381.30 1043.3V1061.1M381.65 1042.6V1063.5M382.00 1041.7V1060.1M382.35 1043.0V1053.8M382.70 1042.9V1057.8M383.05 1043.2V1058.6M383.40 1043.8V1057.9M383.75 1042.6V1056.8M384.10 1042.2V1056.9M384.45 1043.3V1066.0M384.80 1043.3V1060.4M385.15 1042.4V1064.7M385.50 1042.9V1054.0M385.85 1044.0V1060.4M386.20 1044.5V1064.0M386.55 1044.3V1058.8M386.90 1043.7V1067.2M387.25 1043.0V1058.9M387.60 1043.2V1055.2M387.95 1043.0V1056.0M388.30 1044.5V1069.6M388.65 1044.9V1057.7M389.00 1044.6V1055.9M389.35 1044.0V1056.3M389.70 1045.3V1059.8M390.05 1043.6V1073.6M390.40 1045.5V1062.3M390.75 1045.7V1052.8M391.10 1045.1V1056.1M391.45 1045.5V1057.9M391.80 1044.2V1057.5M392.15 1044.4V1062.3M392.50 1044.5V1059.0M392.85 1046.1V1066.9M393.20 1044.4V1054.5M393.55 1045.9V1061.1M393.90 1045.7V1069.1M394.25 1046.3V1059.9M394.60 1045.7V1054.2M394.95 1045.1V1057.4M395.30 1045.7V1057.8M395.65 1046.4V1064.1M396.00 1045.5V1057.6M396.35 1046.3V1053.4M396.70 1045.7V1062.8M397.05 1046.0V1057.3M397.40 1046.4V1055.2M397.75 1047.4V1056.2M398.10 1045.8V1058.4M398.45 1046.9V1059.0M398.80 1047.5V1062.5M399.15 1046.3V1054.1M399.50 1046.9V1059.5M399.85 1047.9V1055.1M415.00 1045.5V1058.3M415.35 1045.3V1060.7M415.70 1044.4V1060.4M416.05 1044.2V1056.7M416.40 1044.1V1060.4M416.75 1044.2V1060.9M417.10 1044.5V1058.3M417.45 1045.3V1064.7M417.80 1044.8V1063.8M418.15 1044.3V1060.4M418.50 1045.1V1057.7M418.85 1045.8V1062.2M419.20 1045.1V1059.4M419.55 1044.7V1058.2M419.90 1044.2V1058.0M420.25 1045.9V1062.5M420.60 1044.1V1064.9M420.95 1044.7V1059.3M421.30 1044.4V1060.4M421.65 1044.7V1059.9M422.00 1045.7V1068.7M422.35 1045.8V1067.5M422.70 1045.3V1070.2M423.05 1045.5V1062.8M423.40 1045.1V1061.7M423.75 1045.4V1060.2M424.10 1044.3V1061.1M424.45 1045.2V1056.9M424.80 1045.2V1061.8M425.00 1047.3V1088.6M425.35 1047.9V1062.9M425.70 1047.0V1063.6M426.05 1047.4V1064.3M426.40 1047.8V1066.3M426.75 1047.8V1064.0M427.10 1047.9V1062.2M427.45 1048.0V1069.2M427.80 1047.3V1063.2M428.15 1046.6V1059.4M428.50 1046.2V1067.3M428.85 1047.1V1082.9M429.20 1046.9V1070.0M429.55 1046.2V1069.4M429.90 1046.2V1064.3M430.25 1046.2V1068.3M430.60 1047.1V1061.9M430.95 1047.7V1062.6M431.30 1047.6V1060.0M431.65 1047.4V1062.3M432.00 1046.4V1062.4M432.35 1047.4V1062.7M432.70 1046.5V1061.4M433.05 1047.2V1065.9M433.40 1046.1V1063.5M433.75 1047.6V1081.5M434.10 1047.4V1075.5M434.45 1046.5V1060.9M434.80 1046.1V1064.1M435.15 1046.4V1063.6M435.50 1047.4V1069.2M435.85 1047.4V1062.7M436.20 1047.3V1061.1M436.55 1047.0V1059.5M436.90 1046.6V1067.1M437.25 1048.0V1072.5M437.60 1048.0V1064.9M437.95 1046.1V1069.9M438.30 1046.7V1060.9M438.65 1047.9V1062.8M439.00 1046.4V1076.8M439.35 1046.8V1061.8M439.70 1047.4V1069.8M440.05 1046.0V1077.4M440.40 1046.0V1062.9M440.75 1046.2V1075.7M441.10 1046.4V1070.0M441.45 1046.2V1062.7M441.80 1047.2V1067.3M442.15 1047.5V1061.8M442.50 1047.8V1095.0M442.85 1047.1V1065.6M443.20 1047.2V1064.6M443.55 1046.6V1087.7M443.90 1046.3V1068.6M444.25 1046.4V1059.2M444.60 1047.7V1067.4M444.95 1047.6V1062.5M445.30 1047.6V1058.9M445.65 1047.7V1065.2M452.00 1040.7V1058.4M452.35 1039.4V1069.1M452.70 1039.9V1069.7M453.05 1039.2V1061.0M453.40 1040.8V1067.3M453.75 1040.7V1058.4M454.10 1040.3V1060.6M454.45 1039.6V1059.2M454.80 1040.4V1061.4M455.15 1040.4V1058.6M455.50 1040.4V1069.9M455.85 1039.1V1059.7M456.20 1040.8V1060.0M456.55 1039.3V1059.8M456.90 1039.0V1069.5M457.25 1039.8V1068.4M457.60 1040.9V1066.7M457.95 1039.4V1059.5M458.30 1040.6V1067.7M458.65 1039.3V1081.9M459.00 1039.7V1061.2M459.35 1040.4V1064.3M459.70 1040.8V1060.9M460.05 1040.4V1064.2M460.40 1040.6V1065.3M460.75 1040.4V1070.7M461.10 1040.5V1065.9M461.45 1039.2V1068.9M461.80 1039.2V1065.8M462.15 1039.3V1065.8M462.50 1039.4V1063.1M462.85 1040.2V1067.9M463.20 1039.6V1076.2M463.55 1040.7V1059.2M463.90 1040.0V1063.1M464.25 1039.2V1057.7M464.60 1039.2V1061.1M464.95 1040.6V1068.4M465.30 1040.0V1061.9M465.65 1039.6V1064.5M466.00 1040.2V1063.2M466.35 1040.5V1070.1M466.70 1039.1V1079.5M467.05 1039.1V1085.2M467.40 1039.1V1065.6M467.75 1040.9V1070.0M468.10 1039.8V1059.3M468.45 1040.3V1063.3M468.80 1039.6V1059.1M469.00 1036.6V1073.5M469.35 1036.1V1072.9M469.70 1036.2V1063.4M470.05 1036.7V1060.5M470.40 1036.1V1066.6M470.75 1036.6V1063.9M471.10 1035.9V1062.2M471.45 1036.0V1066.5M471.80 1036.7V1066.4M472.15 1036.0V1061.2M472.50 1036.5V1064.5M472.85 1036.7V1064.8M473.20 1035.9V1072.2M473.55 1036.2V1063.7M473.90 1036.5V1081.6M474.25 1036.5V1063.2M474.60 1036.5V1062.0M474.95 1036.3V1075.8M475.30 1036.4V1059.9M475.65 1035.9V1083.3M476.00 1036.5V1061.8M476.35 1036.4V1059.4M476.70 1036.5V1060.3M477.05 1036.4V1065.7M477.40 1036.0V1068.0M477.75 1036.0V1068.0M478.10 1035.9V1066.0M478.45 1036.2V1073.6M478.80 1036.1V1062.2M479.15 1036.5V1070.6M479.50 1036.1V1059.0M479.85 1036.7V1068.9M480.20 1036.7V1061.3M480.55 1036.5V1068.8M480.90 1036.1V1060.5M481.25 1036.2V1064.5M481.60 1036.6V1061.4M481.95 1036.0V1062.9M482.30 1036.6V1070.0M482.65 1036.3V1059.9M483.00 1036.2V1062.8M483.35 1036.3V1060.7M483.70 1036.3V1071.3M484.05 1036.5V1065.3M484.40 1035.9V1059.0M484.75 1036.2V1060.8M485.10 1036.3V1062.3M485.45 1036.4V1068.3M485.80 1036.5V1058.8M486.15 1036.8V1061.1M486.50 1036.6V1072.8M486.85 1036.3V1080.1M487.20 1036.3V1063.7M487.55 1035.9V1060.4M487.90 1035.8V1075.5M488.25 1036.0V1066.7M488.60 1036.6V1062.8M488.95 1036.7V1067.7M489.30 1036.6V1062.4M489.65 1035.9V1061.3M490.00 1036.7V1059.5M490.35 1036.1V1067.8M490.70 1036.3V1072.8M491.05 1036.4V1061.1M491.40 1036.7V1069.8M491.75 1035.9V1071.0M531.00 1036.1V1080.0M531.35 1036.0V1059.7M531.70 1036.5V1063.2M532.05 1036.2V1063.8M532.40 1036.0V1060.7M532.75 1036.3V1062.6M533.10 1036.1V1062.5M533.45 1036.3V1064.1M533.80 1036.2V1064.2M534.15 1036.6V1062.9M534.50 1036.3V1062.9M534.85 1036.4V1060.4M535.20 1036.0V1061.6M535.55 1036.1V1066.6M535.90 1036.1V1063.4M536.25 1036.4V1060.5M536.60 1036.4V1065.4M536.95 1036.5V1061.8M537.30 1036.1V1067.9M537.65 1036.3V1061.8M538.00 1036.8V1062.3M538.35 1036.1V1078.3M538.70 1036.4V1062.0M539.05 1036.8V1070.1M539.40 1035.8V1065.3M539.75 1036.0V1060.0M540.10 1036.5V1062.5M540.45 1036.4V1068.7M540.80 1036.4V1061.3M541.15 1036.1V1062.1M541.50 1036.5V1063.9M541.85 1036.0V1071.5M542.20 1036.7V1072.8M542.55 1035.9V1061.3M542.90 1036.2V1060.5M543.25 1036.4V1063.9M543.60 1036.7V1067.5M543.95 1036.6V1066.6M544.30 1036.3V1064.7M544.65 1036.5V1064.4M545.00 1036.8V1072.7M545.35 1036.2V1064.2M545.70 1036.3V1062.4M546.05 1036.0V1062.7M546.40 1035.8V1070.5M546.75 1036.5V1062.1M547.10 1036.4V1067.3M547.45 1036.8V1068.4M547.80 1036.2V1064.6M548.15 1036.7V1061.8M548.50 1036.8V1067.5M548.85 1036.0V1059.3M549.20 1036.6V1082.6M549.55 1036.0V1061.1M549.90 1036.7V1067.6M550.25 1036.3V1061.6M550.60 1035.9V1065.5M550.95 1036.3V1062.2M551.30 1036.4V1059.9M551.65 1036.5V1070.4M552.00 1036.0V1061.8M552.35 1036.1V1062.8M552.70 1036.2V1061.5M553.05 1036.5V1062.6M553.40 1036.2V1059.4M553.75 1036.5V1060.7M554.10 1036.0V1066.5M554.45 1036.4V1061.0M554.80 1036.2V1065.5M555.15 1036.2V1064.8M555.50 1036.0V1061.8M555.85 1036.1V1060.0M556.20 1036.4V1073.5M556.55 1036.7V1059.3M556.90 1036.5V1062.1M557.25 1036.1V1075.6M557.60 1036.2V1078.4M557.95 1036.5V1073.3M558.30 1036.4V1072.4M558.65 1035.9V1058.8M559.00 1036.1V1068.2M559.35 1036.2V1063.3M559.70 1036.3V1072.4M560.05 1036.5V1062.9M560.40 1036.7V1060.2M560.75 1035.9V1062.5M561.10 1036.3V1063.6M561.45 1036.4V1064.6M561.80 1036.3V1060.4M562.15 1036.5V1062.3M562.50 1035.9V1074.0M562.85 1036.7V1063.6M563.20 1035.9V1061.6M563.55 1036.7V1061.3M563.90 1036.1V1060.7M564.25 1036.0V1061.3M564.60 1036.6V1064.9M564.95 1035.9V1061.3M565.30 1036.3V1062.6M565.65 1036.3V1062.8M566.00 1035.9V1072.9M566.35 1036.0V1064.5M566.70 1036.7V1059.5M612.80 1038.7V1064.3M613.15 1038.3V1054.0M613.50 1038.7V1052.8M613.85 1039.2V1055.1M614.20 1039.3V1061.6M614.55 1038.6V1053.7M614.90 1038.4V1054.2M615.25 1039.3V1055.6M615.60 1038.3V1053.8M615.95 1039.4V1063.1M616.30 1039.6V1058.3M616.65 1038.2V1059.7M617.00 1038.4V1052.3M617.35 1039.0V1069.3M617.70 1039.0V1051.4M618.05 1038.5V1054.2M618.40 1039.4V1057.7M618.75 1038.7V1055.0M619.10 1039.8V1059.5M619.45 1039.3V1053.9M619.80 1039.2V1052.2M620.15 1040.1V1053.8M620.50 1039.6V1052.7M620.85 1040.2V1059.6M621.20 1040.7V1054.0M621.55 1040.1V1051.9M621.90 1040.2V1053.8M622.25 1041.1V1054.6M622.60 1041.0V1054.2M622.95 1041.6V1064.4M623.30 1041.0V1073.3M623.65 1041.5V1064.1M624.00 1041.4V1071.6M624.35 1042.3V1056.5M624.70 1042.4V1054.0M625.05 1043.0V1052.6M625.40 1042.2V1052.0M625.75 1043.0V1059.5M626.10 1042.6V1053.3M626.45 1043.3V1066.1M626.80 1044.3V1056.6M627.15 1044.6V1055.2M627.50 1043.6V1060.4M627.85 1044.7V1053.5M628.20 1045.4V1053.9M628.55 1044.6V1053.4M628.90 1045.7V1061.5M629.25 1045.7V1050.9M629.60 1045.8V1055.1M629.95 1046.1V1063.2M630.30 1046.4V1050.9M630.65 1047.7V1052.0M631.00 1047.2V1053.5M631.35 1048.7V1055.5M631.70 1048.2V1051.8" stroke="#000" stroke-width="0.7" fill="none"/>
<path d="M95.08 1036.8V1054.0M109.50 1036.8V1067.5M112.96 1036.8V1053.3M114.97 1036.8V1088.8M128.86 1036.8V1071.4M131.03 1036.8V1052.4M143.37 1036.8V1092.9M145.95 1036.8V1053.2M157.52 1036.8V1048.9M160.89 1036.8V1048.6M162.61 1036.8V1047.6M164.55 1036.8V1047.7M166.02 1036.8V1054.9M171.27 1036.8V1073.3M172.85 1036.8V1073.5M185.86 1036.8V1062.1M187.97 1036.8V1062.4M191.95 1036.8V1073.3M196.61 1036.8V1056.4M244.35 1036.8V1058.4M247.50 1036.8V1050.9M249.40 1036.8V1051.4M254.97 1036.8V1050.6M259.66 1036.8V1062.4M262.24 1036.8V1052.7M263.43 1036.8V1063.7M265.53 1036.8V1062.6M266.55 1036.8V1109.3M269.64 1036.8V1054.3M276.73 1036.8V1095.0M279.29 1036.8V1095.0M282.21 1036.8V1076.4M284.27 1036.8V1071.2M290.11 1036.8V1062.3M308.42 1036.8V1061.3M322.71 1036.8V1097.0M326.53 1036.8V1095.2M333.05 1036.8V1090.3M347.87 1038.4V1081.9M351.25 1039.4V1055.5M358.85 1042.3V1056.8M362.72 1043.2V1075.9M369.15 1039.5V1063.9M372.56 1040.5V1058.9M375.42 1041.1V1054.6M381.06 1043.2V1081.9M385.12 1044.2V1096.6M386.56 1044.3V1065.1M390.17 1043.6V1055.8M394.18 1045.4V1064.9M416.82 1045.6V1069.7M420.80 1044.2V1068.4M423.29 1044.1V1073.2M428.00 1047.8V1070.1M432.22 1047.5V1066.2M434.36 1047.7V1079.2M435.50 1047.1V1065.5M439.72 1046.2V1061.7M453.73 1040.5V1103.1M459.27 1040.3V1103.0M466.65 1039.6V1064.2M476.34 1036.8V1105.0M477.41 1036.8V1085.7M481.20 1036.8V1064.4M484.84 1036.8V1074.5M489.08 1036.8V1093.7M532.97 1036.8V1060.6M535.49 1036.8V1111.3M536.69 1036.8V1121.2M542.40 1036.8V1074.2M546.34 1036.8V1064.8M547.50 1036.8V1065.2M549.71 1036.8V1069.7M557.09 1036.8V1099.9M561.24 1036.8V1067.3M616.10 1038.6V1092.6M629.55 1046.7V1137.0M631.15 1047.8V1062.7" stroke="#000" stroke-width="0.8" fill="none"/>
<path d="M97.51 1036.8V1050.4M103.60 1036.8V1064.5M117.15 1036.8V1055.8M119.32 1036.8V1056.4M120.33 1036.8V1095.5M121.75 1036.8V1077.4M123.72 1036.8V1049.6M125.62 1036.8V1047.2M136.97 1036.8V1073.1M139.57 1036.8V1050.9M141.90 1036.8V1048.1M159.22 1036.8V1052.1M167.08 1036.8V1049.5M168.92 1036.8V1058.6M174.03 1036.8V1053.5M176.54 1036.8V1053.9M179.13 1036.8V1099.0M182.35 1036.8V1060.5M184.81 1036.8V1048.8M190.41 1036.8V1052.1M194.35 1036.8V1092.0M240.55 1036.8V1063.2M242.56 1036.8V1061.8M257.11 1036.8V1054.4M267.78 1036.8V1054.3M272.82 1036.8V1068.0M281.12 1036.8V1070.7M287.60 1036.8V1067.2M309.91 1036.8V1064.4M316.15 1036.8V1069.1M320.36 1036.8V1069.4M325.20 1036.8V1054.1M330.69 1036.8V1079.6M345.10 1035.9V1058.3M349.54 1039.4V1114.0M356.76 1042.3V1054.3M365.13 1045.6V1053.2M374.15 1041.2V1054.5M377.53 1040.5V1069.2M379.72 1042.1V1097.4M387.76 1043.5V1083.9M398.03 1046.7V1090.4M419.67 1044.0V1061.0M430.43 1047.5V1084.4M437.95 1046.3V1101.1M441.72 1046.5V1097.7M444.24 1046.3V1088.7M452.46 1040.0V1072.2M455.71 1040.5V1090.5M456.93 1040.0V1107.6M461.66 1040.0V1062.7M469.07 1036.8V1104.4M470.57 1036.8V1140.1M472.33 1036.8V1077.7M491.52 1036.8V1110.5M553.80 1036.8V1063.0M562.86 1036.8V1085.4M566.86 1036.8V1071.7M618.07 1038.7V1093.0M621.20 1039.4V1065.2M627.26 1044.3V1072.2M104.60 1042.0V1239.6M119.20 1042.0V1191.0M133.20 1042.0V1335.0M140.20 1042.0V1250.0M154.20 1042.0V1168.0M165.30 1042.0V1220.6M190.10 1042.0V1191.4M255.00 1042.0V1250.0M274.00 1042.0V1131.6M315.00 1042.0V1120.0M322.30 1042.0V1149.0M338.40 1042.0V1107.0M471.00 1042.0V1108.0M484.00 1042.0V1153.7M114.00 1042.0V1120.0M126.00 1042.0V1150.0M147.00 1042.0V1130.0M160.00 1042.0V1110.0M176.00 1042.0V1115.0M183.00 1042.0V1140.0M243.00 1042.0V1110.0M262.00 1042.0V1100.0M282.00 1042.0V1120.0M300.00 1042.0V1095.0M356.00 1042.0V1090.0M380.00 1042.0V1100.0M521.00 1042.0V1100.0M548.00 1042.0V1105.0M558.00 1042.0V1098.0M590.00 1042.0V1090.0" stroke="#000" stroke-width="1.0" fill="none"/>
<path d="M99.95 1036.8V1100.1M102.17 1036.8V1074.6M105.92 1036.8V1058.5M108.10 1036.8V1050.2M111.81 1036.8V1049.5M127.09 1036.8V1048.0M132.53 1036.8V1048.8M134.95 1036.8V1075.7M138.46 1036.8V1060.4M147.69 1036.8V1084.8M150.23 1036.8V1084.4M151.60 1036.8V1051.3M153.44 1036.8V1048.4M155.35 1036.8V1062.0M180.71 1036.8V1092.2M193.02 1036.8V1051.5M233.37 1036.8V1056.7M234.96 1036.8V1053.0M237.38 1036.8V1054.3M239.04 1036.8V1056.8M246.43 1036.8V1062.2M251.16 1036.8V1076.4M253.59 1036.8V1077.1M271.22 1036.8V1095.0M274.21 1036.8V1052.5M286.01 1036.8V1054.2M311.50 1036.8V1068.8M314.06 1036.8V1068.4M318.58 1036.8V1069.1M323.89 1036.8V1060.0M328.41 1036.8V1087.2M335.07 1036.8V1071.2M337.24 1036.8V1057.7M339.54 1036.8V1053.4M341.30 1036.8V1055.1M343.06 1036.8V1077.8M346.63 1037.2V1056.2M353.77 1039.7V1081.6M355.52 1041.6V1093.6M360.99 1042.5V1055.4M366.43 1045.3V1127.8M367.71 1045.3V1080.1M371.55 1040.3V1075.4M383.41 1043.6V1065.7M389.00 1043.9V1058.1M391.62 1044.6V1057.2M396.50 1047.0V1072.8M418.05 1044.5V1084.6M424.67 1045.3V1090.8M426.97 1047.0V1091.6M464.23 1040.6V1074.0M468.94 1040.8V1062.6M473.78 1036.8V1067.4M479.38 1036.8V1061.2M482.74 1036.8V1064.8M487.15 1036.8V1077.7M539.12 1036.8V1107.1M541.35 1036.8V1085.7M543.85 1036.8V1088.7M545.22 1036.8V1064.6M551.49 1036.8V1107.6M554.94 1036.8V1102.4M558.16 1036.8V1072.1M559.26 1036.8V1060.8M564.24 1036.8V1068.6M565.28 1036.8V1100.6M614.26 1039.2V1058.2M619.59 1039.3V1060.7M623.21 1041.6V1095.0M625.18 1042.7V1053.1" stroke="#000" stroke-width="1.2" fill="none"/>
<path d="M289.00 1038.0V1044.0M289.20 1038.0V1045.9M289.40 1038.0V1047.6M289.60 1038.0V1047.8M289.80 1038.1V1046.8M290.00 1038.1V1046.8M290.20 1038.1V1046.5M290.40 1038.2V1048.2M290.60 1038.2V1047.4M290.80 1038.3V1046.2M291.00 1038.4V1046.4M291.20 1038.5V1048.3M291.40 1038.6V1046.8M291.60 1038.7V1047.1M291.80 1038.8V1046.1M292.00 1039.0V1047.6M292.20 1039.1V1047.1M292.40 1039.3V1049.1M292.60 1039.5V1049.5M292.80 1039.6V1049.6M293.00 1039.8V1049.6M293.20 1040.0V1046.2M293.40 1040.3V1046.6M293.60 1040.5V1047.9M293.80 1040.7V1050.1M294.00 1041.0V1049.2M294.20 1041.3V1048.3M294.40 1041.6V1048.0M294.60 1041.9V1048.9M294.80 1042.2V1048.7M295.00 1042.5V1049.1M295.20 1042.8V1051.8M295.40 1043.2V1049.9M295.60 1043.5V1050.2M295.80 1043.9V1052.4M296.00 1044.3V1050.8M296.20 1044.7V1054.0M296.40 1045.1V1053.7M296.60 1045.5V1055.1M296.80 1046.0V1054.9M297.00 1046.4V1055.4M297.20 1046.9V1054.0M297.40 1047.4V1055.1M297.60 1047.9V1055.4M297.80 1048.4V1056.0M298.00 1048.9V1058.6M298.20 1049.5V1057.2M298.40 1050.0V1059.2M298.60 1050.6V1059.1M298.80 1051.2V1057.5M299.00 1051.8V1058.6M299.20 1052.4V1060.7M299.40 1053.0V1062.2M299.60 1053.7V1060.6M299.80 1054.3V1061.3M300.00 1055.0V1062.5M300.20 1055.7V1063.5M300.40 1056.4V1064.1M300.60 1057.1V1066.8M300.80 1057.9V1066.3M301.00 1058.6V1065.7M301.20 1059.4V1066.8M301.40 1060.2V1068.2M301.60 1060.9V1067.6M301.80 1061.8V1069.3M302.00 1062.6V1068.8M302.20 1063.4V1072.0M302.40 1064.3V1073.7M302.60 1065.1V1074.7M302.80 1066.0V1074.4M303.00 1066.9V1074.5M303.20 1067.9V1076.1M303.40 1068.8V1077.0M303.60 1069.7V1076.4M303.80 1070.7V1078.9M304.00 1071.7V1079.7M304.20 1072.7V1079.5M304.40 1073.7V1081.5M304.60 1074.7V1084.1M304.80 1075.8V1084.3M305.00 1076.8V1084.1M305.20 1077.9V1084.8M305.40 1079.0V1087.5M305.60 1080.1V1088.3M305.80 1081.2V1088.4M306.00 1082.4V1090.2M306.20 1083.5V1091.1M306.40 1084.7V1093.2M306.60 1085.9V1095.4M306.80 1087.1V1094.6M307.00 1088.3V1096.4M307.20 1089.5V1097.8M307.40 1090.8V1099.5M307.60 1092.1V1099.0M398.00 1042.0V1050.5M398.20 1042.0V1052.5M398.40 1042.0V1053.3M398.60 1042.0V1052.5M398.80 1042.1V1051.0M399.00 1042.1V1054.0M399.20 1042.2V1051.7M399.40 1042.2V1052.8M399.60 1042.3V1051.8M399.80 1042.4V1054.0M400.00 1042.5V1053.3M400.20 1042.6V1051.0M400.40 1042.8V1052.6M400.60 1043.0V1054.3M400.80 1043.2V1055.2M401.00 1043.4V1055.3M401.20 1043.6V1054.9M401.40 1043.8V1054.0M401.60 1044.1V1054.4M401.80 1044.4V1054.4M402.00 1044.7V1055.1M402.20 1045.1V1055.2M402.40 1045.4V1054.3M402.60 1045.8V1056.2M402.80 1046.2V1056.5M403.00 1046.7V1057.6M403.20 1047.1V1055.8M403.40 1047.6V1057.3M403.60 1048.1V1058.9M403.80 1048.6V1057.0M404.00 1049.2V1060.9M404.20 1049.8V1060.5M404.40 1050.4V1058.5M404.60 1051.1V1062.8M404.80 1051.7V1061.2M405.00 1052.4V1061.0M405.20 1053.2V1063.3M405.40 1053.9V1063.2M405.60 1054.7V1065.8M405.80 1055.5V1067.2M406.00 1056.4V1066.9M406.20 1057.3V1067.6M406.40 1058.2V1066.4M406.60 1059.1V1069.3M406.80 1060.1V1068.4M407.00 1061.1V1072.0M407.20 1062.1V1073.4M407.40 1063.2V1072.2M407.60 1064.3V1073.9M407.80 1065.4V1073.5M408.00 1066.6V1077.6M408.20 1067.8V1077.2M408.40 1069.0V1080.2M408.60 1070.3V1078.3M408.80 1071.6V1082.6M409.00 1072.9V1081.4M409.20 1074.3V1083.1M409.40 1075.7V1085.7M409.60 1077.1V1085.6M409.80 1078.6V1086.9M410.00 1080.1V1090.6M410.20 1081.6V1091.0M410.40 1083.2V1093.4M410.60 1084.8V1095.8M410.80 1086.5V1098.0M411.00 1088.1V1099.8M411.20 1089.9V1101.6M411.40 1091.6V1103.4M411.60 1093.4V1101.5M411.80 1095.2V1106.1M412.00 1097.1V1105.1M412.20 1099.0V1110.7M412.40 1101.0V1109.4M412.60 1103.0V1112.7M412.80 1105.0V1116.1M413.00 1107.0V1115.8M413.20 1109.1V1118.5M413.40 1111.3V1121.0M413.60 1113.5V1123.1M413.80 1115.7V1127.7M414.00 1117.9V1128.8M414.20 1120.2V1129.0M414.40 1122.6V1134.1M414.60 1125.0V1135.6M414.80 1127.4V1138.0M438.00 1048.0V1057.5M438.20 1048.0V1058.1M438.40 1048.1V1057.9M438.60 1048.1V1058.3M438.80 1048.2V1057.3M439.00 1048.3V1058.3M439.20 1048.5V1060.3M439.40 1048.6V1057.5M439.60 1048.8V1058.5M439.80 1049.0V1058.9M440.00 1049.3V1059.1M440.20 1049.5V1058.9M440.40 1049.8V1060.3M440.60 1050.1V1061.9M440.80 1050.5V1059.1M441.00 1050.8V1060.6M441.20 1051.2V1063.1M441.40 1051.6V1059.6M441.60 1052.1V1062.8M441.80 1052.5V1062.0M442.00 1053.0V1063.1M442.20 1053.5V1064.5M442.40 1054.1V1063.1M442.60 1054.7V1062.9M442.80 1055.2V1065.8M443.00 1055.9V1067.8M443.20 1056.5V1066.3M443.40 1057.2V1068.9M443.60 1057.9V1067.9M443.80 1058.6V1069.3M444.00 1059.3V1070.0M444.20 1060.1V1071.2M444.40 1060.9V1071.5M444.60 1061.7V1072.4M444.80 1062.5V1073.4M445.00 1063.4V1072.4M445.20 1064.3V1075.8M445.40 1065.2V1075.7M445.60 1066.2V1076.2M445.80 1067.1V1077.6M446.00 1068.1V1077.5M446.20 1069.1V1078.1M446.40 1070.2V1081.8M446.60 1071.2V1080.1M446.80 1072.3V1081.8M447.00 1073.5V1083.8M447.20 1074.6V1084.6M447.40 1075.8V1084.1M447.60 1077.0V1086.1M447.80 1078.2V1089.3M448.00 1079.4V1088.0M448.20 1080.7V1090.6M448.40 1082.0V1090.4M448.60 1083.3V1091.6M448.80 1084.7V1096.6M449.00 1086.0V1095.8M449.20 1087.4V1097.3M449.40 1088.9V1097.1M449.60 1090.3V1098.9M449.80 1091.8V1101.8M450.00 1093.3V1105.0M450.20 1094.8V1106.5M450.40 1096.3V1105.9M450.60 1097.9V1108.0M450.80 1099.5V1108.4M489.00 1042.0V1049.2M489.12 1042.1V1051.3M489.24 1042.3V1051.8M489.36 1042.5V1050.1M489.48 1042.9V1051.8M489.60 1043.3V1052.6M489.72 1043.8V1053.7M489.84 1044.4V1051.3M489.96 1045.1V1053.9M490.08 1045.8V1055.4M490.20 1046.6V1055.6M490.32 1047.5V1053.6M490.44 1048.4V1057.7M490.56 1049.4V1058.4M490.68 1050.4V1058.8M490.80 1051.5V1057.7M490.92 1052.7V1059.0M491.04 1053.9V1060.0M491.16 1055.2V1063.5M491.28 1056.6V1065.0M491.40 1058.0V1064.4M491.52 1059.5V1068.8M491.64 1061.0V1068.6M491.76 1062.6V1069.1M491.88 1064.2V1072.6M492.00 1065.9V1073.0M492.12 1067.7V1074.5M492.24 1069.5V1076.3M492.36 1071.3V1080.5M492.48 1073.2V1079.6M492.60 1075.2V1082.2M492.72 1077.2V1083.8M492.84 1079.3V1088.0M492.96 1081.4V1090.1M493.08 1083.6V1091.3M493.20 1085.8V1092.4M493.32 1088.1V1094.2M493.44 1090.4V1100.2M493.56 1092.8V1101.2M493.68 1095.3V1101.5M493.80 1097.7V1106.3M493.92 1100.3V1109.6M494.04 1102.9V1109.7M494.16 1105.5V1115.3M494.28 1108.2V1114.8M494.40 1110.9V1118.7M494.52 1113.7V1121.4M494.64 1116.5V1126.4M494.76 1119.4V1127.3M494.88 1122.3V1131.3M495.00 1125.3V1134.2M495.12 1128.3V1135.4M495.24 1131.4V1139.2M495.36 1134.5V1142.3M495.48 1137.7V1145.0M495.60 1140.9V1147.7M495.72 1144.1V1150.8M495.84 1147.4V1157.4M495.96 1150.8V1160.5M496.08 1154.2V1160.8M496.20 1157.6V1167.6M496.32 1161.1V1168.5M496.44 1164.7V1173.7M496.56 1168.3V1176.1M496.68 1171.9V1179.8M494.00 1046.0V1053.7M494.15 1046.1V1052.2M494.30 1046.2V1054.3M494.45 1046.4V1053.4M494.60 1046.6V1056.3M494.75 1046.9V1055.5M494.90 1047.3V1054.4M495.05 1047.7V1057.1M495.20 1048.2V1056.5M495.35 1048.7V1057.3M495.50 1049.3V1058.2M495.65 1049.9V1058.8M495.80 1050.6V1057.4M495.95 1051.3V1060.7M496.10 1052.0V1061.0M496.25 1052.8V1061.8M496.40 1053.7V1062.6M496.55 1054.5V1061.5M496.70 1055.5V1065.4M496.85 1056.4V1065.3M497.00 1057.4V1067.1M497.15 1058.5V1065.6M497.30 1059.6V1066.8M497.45 1060.7V1070.2M497.60 1061.9V1071.9M497.75 1063.1V1071.9M497.90 1064.3V1070.9M498.05 1065.6V1072.8M498.20 1067.0V1075.1M498.35 1068.3V1074.4M498.50 1069.7V1077.1M498.65 1071.2V1079.4M498.80 1072.6V1082.3M498.95 1074.2V1082.9M499.10 1075.7V1085.3M499.25 1077.3V1084.1M499.40 1078.9V1088.4M499.55 1080.6V1087.5M499.70 1082.3V1089.3M499.85 1084.0V1092.7M500.00 1085.8V1092.8M500.15 1087.6V1093.7M500.30 1089.5V1098.3M500.45 1091.3V1097.6M500.60 1093.3V1101.8M500.75 1095.2V1101.6M500.90 1097.2V1105.2M501.05 1099.2V1108.8M501.20 1101.3V1108.9M501.35 1103.4V1110.2M501.50 1105.5V1115.1M501.65 1107.7V1117.3M501.80 1109.8V1117.7M501.95 1112.1V1121.0M502.10 1114.3V1121.3M502.25 1116.6V1122.7M502.40 1119.0V1125.9M502.55 1121.3V1129.7M502.70 1123.7V1132.8M502.85 1126.1V1132.7M503.00 1128.6V1135.2M504.00 1045.0V1054.2M504.20 1045.0V1054.0M504.40 1045.0V1054.4M504.60 1045.1V1056.1M504.80 1045.1V1054.6M505.00 1045.2V1056.2M505.20 1045.3V1055.9M505.40 1045.4V1057.1M505.60 1045.5V1055.9M505.80 1045.6V1057.5M506.00 1045.8V1055.3M506.20 1045.9V1056.1M506.40 1046.1V1054.9M506.60 1046.3V1055.1M506.80 1046.5V1055.9M507.00 1046.7V1058.1M507.20 1046.9V1058.5M507.40 1047.2V1057.0M507.60 1047.4V1056.8M507.80 1047.7V1057.0M508.00 1047.9V1058.2M508.20 1048.2V1058.1M508.40 1048.5V1060.5M508.60 1048.8V1059.6M508.80 1049.2V1058.6M509.00 1049.5V1059.8M509.20 1049.9V1059.7M509.40 1050.2V1062.0M509.60 1050.6V1059.3M509.80 1051.0V1062.2M510.00 1051.4V1060.5M510.20 1051.8V1061.3M510.40 1052.2V1060.4M510.60 1052.6V1061.6M510.80 1053.1V1062.4M511.00 1053.5V1062.6M511.20 1054.0V1064.5M511.40 1054.5V1063.0M511.60 1055.0V1064.2M511.80 1055.5V1065.7M512.00 1056.0V1066.1M512.20 1056.5V1066.9M512.40 1057.1V1065.8M512.60 1057.6V1066.7M512.80 1058.2V1069.3M513.00 1058.8V1070.7M513.20 1059.3V1068.0M513.40 1059.9V1068.3M513.60 1060.5V1072.1M513.80 1061.2V1073.2M514.00 1061.8V1071.4M514.20 1062.4V1074.3M514.40 1063.1V1073.5M514.60 1063.8V1075.4M514.80 1064.4V1072.6M515.00 1065.1V1073.2M515.20 1065.8V1077.2M515.40 1066.6V1076.4M515.60 1067.3V1075.7M515.80 1068.0V1079.1M516.00 1068.8V1076.8M516.20 1069.5V1078.3M516.40 1070.3V1081.3M516.60 1071.1V1082.0M516.80 1071.9V1081.9M517.00 1072.7V1083.1M517.20 1073.5V1083.9M517.40 1074.3V1083.3M517.60 1075.1V1084.5M517.80 1076.0V1086.5M518.00 1076.8V1085.8M518.20 1077.7V1088.9M518.40 1078.6V1090.3M518.60 1079.5V1090.0M518.80 1080.4V1089.0M519.00 1081.3V1090.4M519.20 1082.2V1092.6M519.40 1083.2V1092.9M519.60 1084.1V1093.7M519.80 1085.1V1093.1M520.00 1086.0V1095.6M520.20 1087.0V1096.5M520.40 1088.0V1096.5M520.60 1089.0V1101.0M520.80 1090.0V1101.1M521.00 1091.0V1102.9M521.20 1092.1V1101.1M521.40 1093.1V1103.9M521.60 1094.2V1105.1M521.80 1095.2V1104.2M522.00 1096.3V1106.7M522.20 1097.4V1108.3M522.40 1098.5V1108.9M522.60 1099.6V1109.8M522.80 1100.7V1109.8M523.00 1101.9V1110.9M523.20 1103.0V1112.3M523.40 1104.2V1114.2M523.60 1105.3V1115.0M523.80 1106.5V1115.3M524.00 1107.7V1115.9M524.20 1108.9V1120.9M524.40 1110.1V1119.5M524.60 1111.3V1122.9M524.80 1112.6V1124.1M525.00 1113.8V1122.4M525.20 1115.0V1123.8M525.40 1116.3V1125.2M525.60 1117.6V1125.6M525.80 1118.9V1127.7M526.00 1120.2V1130.6M526.20 1121.5V1132.3M526.40 1122.8V1131.5M526.60 1124.1V1134.2M526.80 1125.4V1136.0M527.00 1126.8V1137.7M527.20 1128.1V1138.9M527.40 1129.5V1140.5M527.60 1130.9V1139.2M527.80 1132.3V1140.8M528.00 1133.7V1144.6M528.20 1135.1V1144.9M528.40 1136.5V1147.3M528.60 1137.9V1148.8M528.80 1139.4V1150.5M529.00 1140.8V1151.7M529.20 1142.3V1152.0M529.40 1143.7V1155.4M529.60 1145.2V1155.9M529.80 1146.7V1156.7M530.00 1148.2V1159.5M530.20 1149.7V1159.1M567.00 1042.0V1053.3M567.20 1042.0V1053.3M567.40 1042.0V1054.1M567.60 1042.0V1055.5M567.80 1042.0V1053.5M568.00 1042.0V1053.5M568.20 1042.0V1055.2M568.40 1042.0V1054.2M568.60 1042.0V1054.4M568.80 1042.1V1054.5M569.00 1042.1V1054.0M569.20 1042.1V1056.7M569.40 1042.1V1053.7M569.60 1042.1V1055.0M569.80 1042.2V1055.8M570.00 1042.2V1053.9M570.20 1042.2V1055.6M570.40 1042.3V1056.6M570.60 1042.3V1055.2M570.80 1042.4V1053.5M571.00 1042.4V1056.1M571.20 1042.4V1053.5M571.40 1042.5V1054.5M571.60 1042.6V1057.2M571.80 1042.6V1056.0M572.00 1042.7V1054.5M572.20 1042.7V1054.5M572.40 1042.8V1057.2M572.60 1042.9V1056.8M572.80 1042.9V1054.6M573.00 1043.0V1057.4M573.20 1043.1V1056.7M573.40 1043.2V1057.6M573.60 1043.3V1055.9M573.80 1043.4V1054.8M574.00 1043.5V1056.5M574.20 1043.5V1058.2M574.40 1043.6V1058.3M574.60 1043.8V1058.1M574.80 1043.9V1057.8M575.00 1044.0V1057.9M575.20 1044.1V1057.5M575.40 1044.2V1057.1M575.60 1044.3V1058.8M575.80 1044.5V1057.0M576.00 1044.6V1058.9M576.20 1044.7V1055.7M576.40 1044.9V1056.7M576.60 1045.0V1058.2M576.80 1045.1V1059.7M577.00 1045.3V1059.1M577.20 1045.5V1060.1M577.40 1045.6V1059.0M577.60 1045.8V1056.8M577.80 1045.9V1059.2M578.00 1046.1V1060.0M578.20 1046.3V1059.2M578.40 1046.5V1060.5M578.60 1046.6V1058.4M578.80 1046.8V1058.7M579.00 1047.0V1058.1M579.20 1047.2V1060.9M579.40 1047.4V1060.6M579.60 1047.6V1059.1M579.80 1047.8V1060.7M580.00 1048.0V1060.7M580.20 1048.2V1062.3M580.40 1048.5V1063.1M580.60 1048.7V1061.1M580.80 1048.9V1063.0M581.00 1049.1V1062.1M581.20 1049.4V1063.8M581.40 1049.6V1062.0M581.60 1049.9V1061.7M581.80 1050.1V1062.5M582.00 1050.4V1064.9M582.20 1050.6V1065.6M582.40 1050.9V1063.4M582.60 1051.2V1062.8M582.80 1051.4V1065.3M583.00 1051.7V1065.2M583.20 1052.0V1063.9M583.40 1052.3V1066.0M583.60 1052.6V1067.4M583.80 1052.9V1066.6M584.00 1053.2V1065.3M584.20 1053.5V1065.9M584.40 1053.8V1068.3M584.60 1054.1V1067.3M584.80 1054.4V1069.3M585.00 1054.7V1068.9M585.20 1055.1V1066.9M585.40 1055.4V1069.0M585.60 1055.7V1067.1M585.80 1056.1V1069.9M586.00 1056.4V1070.5M586.20 1056.8V1069.0M586.40 1057.1V1071.5M586.60 1057.5V1071.3M586.80 1057.9V1072.5M587.00 1058.2V1071.4M587.20 1058.6V1073.5M587.40 1059.0V1070.4M587.60 1059.4V1074.0M587.80 1059.8V1071.5M588.00 1060.2V1072.5M588.20 1060.6V1071.6M588.40 1061.0V1072.2M588.60 1061.4V1074.1M588.80 1061.8V1076.6M589.00 1062.2V1073.6M589.20 1062.6V1075.6M589.40 1063.1V1076.2M589.60 1063.5V1076.1M589.80 1063.9V1077.5M590.00 1064.4V1077.6M590.20 1064.8V1078.5M590.40 1065.3V1079.4M590.60 1065.8V1079.7M590.80 1066.2V1077.7M591.00 1066.7V1077.8M591.20 1067.2V1078.8M591.40 1067.7V1079.6M591.60 1068.1V1081.4M591.80 1068.6V1082.0M592.00 1069.1V1081.5M592.20 1069.6V1083.0M592.40 1070.1V1083.4M592.60 1070.6V1082.2M592.80 1071.2V1082.5M593.00 1071.7V1084.9M593.20 1072.2V1086.1M593.40 1072.8V1084.3M593.60 1073.3V1084.3M593.80 1073.8V1085.8M594.00 1074.4V1086.0M594.20 1074.9V1087.8M594.40 1075.5V1086.9M594.60 1076.1V1090.8M594.80 1076.6V1090.7M595.00 1077.2V1091.2M595.20 1077.8V1089.2M595.40 1078.4V1090.1M595.60 1079.0V1091.4M595.80 1079.6V1093.2M596.00 1080.2V1093.8M596.20 1080.8V1093.4M596.40 1081.4V1094.4M596.60 1082.0V1093.8M596.80 1082.6V1095.6M597.00 1083.3V1095.6M597.20 1083.9V1094.9M597.40 1084.5V1097.5M597.60 1085.2V1096.6M597.80 1085.8V1100.1M598.00 1086.5V1097.8M598.20 1087.2V1098.2M598.40 1087.8V1100.6M598.60 1088.5V1100.9M598.80 1089.2V1103.7M599.00 1089.9V1102.1M599.20 1090.6V1104.1M599.40 1091.3V1102.4M599.60 1092.0V1104.1M599.80 1092.7V1105.9M600.00 1093.4V1104.8M600.20 1094.1V1107.7M600.40 1094.8V1106.8M600.60 1095.5V1108.1M600.80 1096.3V1109.0M601.00 1097.0V1108.8M601.20 1097.8V1112.5M601.40 1098.5V1112.6M601.60 1099.3V1112.7M601.80 1100.0V1114.5M602.00 1100.8V1113.2M602.20 1101.6V1116.1M602.40 1102.4V1115.6M602.60 1103.2V1115.5M602.80 1104.0V1115.3M603.00 1104.8V1117.0M603.20 1105.6V1117.2M603.40 1106.4V1119.2M603.60 1107.2V1120.1M603.80 1108.0V1122.0M604.00 1108.8V1123.0M604.20 1109.7V1123.7M604.40 1110.5V1124.8M604.60 1111.4V1125.9M604.80 1112.2V1126.9M605.00 1113.1V1127.9M605.20 1113.9V1127.1M605.40 1114.8V1126.3M605.60 1115.7V1130.2M605.80 1116.6V1128.4M606.00 1117.4V1128.6M606.20 1118.3V1130.7M606.40 1119.2V1130.7M606.60 1120.1V1134.4M606.80 1121.0V1133.9M607.00 1122.0V1134.1M607.20 1122.9V1136.4M607.40 1123.8V1137.7M607.60 1124.8V1139.4M607.80 1125.7V1137.8M608.00 1126.6V1139.9M608.20 1127.6V1142.1M608.40 1128.6V1140.5M608.60 1129.5V1142.2M612.80 1038.0V1051.4M613.00 1038.0V1052.3M613.20 1038.0V1051.3M613.40 1038.0V1050.4M613.60 1038.0V1050.0M613.80 1038.0V1053.6M614.00 1038.0V1051.5M614.20 1038.0V1052.6M614.40 1038.0V1050.3M614.60 1038.0V1050.3M614.80 1038.0V1052.2M615.00 1038.1V1052.6M615.20 1038.1V1053.8M615.40 1038.1V1051.1M615.60 1038.1V1053.6M615.80 1038.1V1054.0M616.00 1038.1V1051.6M616.20 1038.2V1052.5M616.40 1038.2V1050.5M616.60 1038.2V1052.9M616.80 1038.2V1053.4M617.00 1038.3V1053.6M617.20 1038.3V1052.7M617.40 1038.3V1051.7M617.60 1038.4V1050.9M617.80 1038.4V1052.1M618.00 1038.4V1052.9M618.20 1038.5V1050.6M618.40 1038.5V1051.8M618.60 1038.6V1054.0M618.80 1038.6V1053.0M619.00 1038.7V1054.4M619.20 1038.7V1051.2M619.40 1038.8V1052.8M619.60 1038.9V1051.8M619.80 1038.9V1053.5M620.00 1039.0V1054.9M620.20 1039.0V1053.6M620.40 1039.1V1054.9M620.60 1039.2V1054.2M620.80 1039.3V1052.1M621.00 1039.3V1054.7M621.20 1039.4V1054.1M621.40 1039.5V1054.2M621.60 1039.6V1055.2M621.80 1039.7V1052.2M622.00 1039.8V1054.8M622.20 1039.9V1055.3M622.40 1040.0V1052.0M622.60 1040.1V1054.4M622.80 1040.2V1054.2M623.00 1040.3V1054.0M623.20 1040.4V1053.7M623.40 1040.5V1052.9M623.60 1040.6V1054.7M623.80 1040.7V1056.2M624.00 1040.8V1056.0M624.20 1041.0V1053.0M624.40 1041.1V1055.4M624.60 1041.2V1054.6M624.80 1041.3V1056.9M625.00 1041.5V1056.7M625.20 1041.6V1055.2M625.40 1041.8V1054.8M625.60 1041.9V1054.0M625.80 1042.0V1055.8M626.00 1042.2V1054.9M626.20 1042.3V1057.4M626.40 1042.5V1056.5M626.60 1042.7V1056.7M626.80 1042.8V1055.2M627.00 1043.0V1055.5M627.20 1043.2V1055.9M627.40 1043.3V1056.0M627.60 1043.5V1056.0M627.80 1043.7V1057.0M628.00 1043.9V1058.1M628.20 1044.1V1058.1M628.40 1044.3V1057.9M628.60 1044.5V1058.5M628.80 1044.7V1056.9M629.00 1044.9V1058.5M629.20 1045.1V1059.7M629.40 1045.3V1057.4M629.60 1045.5V1060.1M629.80 1045.7V1061.4M630.00 1045.9V1061.8M630.20 1046.1V1062.0M630.40 1046.4V1059.6M630.60 1046.6V1059.8M630.80 1046.8V1059.2M631.00 1047.1V1059.3M631.20 1047.3V1062.0M631.40 1047.6V1061.5M631.60 1047.8V1060.0M631.80 1048.1V1063.0M632.00 1048.3V1063.7M632.20 1048.6V1063.1M632.40 1048.8V1062.4M632.60 1049.1V1062.4M632.80 1049.4V1061.6M633.00 1049.6V1062.7M633.20 1049.9V1065.9M633.40 1050.2V1065.6M633.60 1050.5V1063.2M633.80 1050.8V1066.2M634.00 1051.1V1063.2M634.20 1051.4V1064.1M634.40 1051.7V1065.2M634.60 1052.0V1064.7M634.80 1052.3V1067.6M635.00 1052.6V1067.8M635.20 1052.9V1068.0M635.40 1053.2V1067.7M635.60 1053.6V1068.1M635.80 1053.9V1069.6M636.00 1054.2V1069.5M636.20 1054.6V1069.3M636.40 1054.9V1070.9M636.60 1055.3V1067.3M636.80 1055.6V1069.3M637.00 1056.0V1070.0M637.20 1056.3V1071.3M637.40 1056.7V1069.2M637.60 1057.1V1070.9M637.80 1057.4V1071.6M638.00 1057.8V1072.3M638.20 1058.2V1073.3M638.40 1058.6V1072.4M638.60 1059.0V1074.8M638.80 1059.3V1072.1M639.00 1059.7V1075.2M639.20 1060.1V1074.5M639.40 1060.5V1075.6M639.60 1061.0V1076.6M639.80 1061.4V1076.7M640.00 1061.8V1077.3M640.20 1062.2V1075.9M640.40 1062.6V1075.4M640.60 1063.1V1076.8M640.80 1063.5V1077.4M641.00 1063.9V1078.1M641.20 1064.4V1079.1M641.40 1064.8V1080.6M641.60 1065.3V1077.5M641.80 1065.7V1078.3M642.00 1066.2V1079.2M642.20 1066.7V1080.1M642.40 1067.1V1080.5M642.60 1067.6V1079.7M642.80 1068.1V1080.8M643.00 1068.6V1081.4M643.20 1069.1V1083.3M643.40 1069.6V1082.8M643.60 1070.1V1085.4M643.80 1070.6V1082.6M644.00 1071.1V1085.9M644.20 1071.6V1085.0M644.40 1072.1V1087.3M644.60 1072.6V1085.5M644.80 1073.1V1088.9M645.00 1073.7V1086.5M645.20 1074.2V1086.8M645.40 1074.7V1090.3M645.60 1075.3V1090.0M645.80 1075.8V1090.9M646.00 1076.4V1090.1M646.20 1076.9V1092.6M646.40 1077.5V1093.1M646.60 1078.1V1093.3M646.80 1078.6V1093.9M647.00 1079.2V1094.9M647.20 1079.8V1092.4M647.40 1080.4V1095.7M647.60 1081.0V1093.6M647.80 1081.6V1096.2M648.00 1082.2V1095.3M648.20 1082.8V1096.3M648.40 1083.4V1096.5M648.60 1084.0V1096.5M648.80 1084.6V1098.7M649.00 1085.2V1100.7M649.20 1085.9V1099.3M649.40 1086.5V1099.2M649.60 1087.1V1102.4M649.80 1087.8V1100.8M650.00 1088.4V1100.8M650.20 1089.1V1101.3M650.40 1089.7V1104.5M650.60 1090.4V1106.2M650.80 1091.1V1105.8M651.00 1091.7V1106.0M651.20 1092.4V1107.3M651.40 1093.1V1108.1M651.60 1093.8V1109.8M651.80 1094.5V1109.0M652.00 1095.2V1107.8M652.20 1095.9V1111.9M652.40 1096.6V1111.3M652.60 1097.3V1110.9M652.80 1098.0V1113.6M653.00 1098.7V1114.3M653.20 1099.5V1113.0M653.40 1100.2V1113.9M653.60 1100.9V1113.6M653.80 1101.7V1117.5M654.00 1102.4V1117.3M654.20 1103.2V1117.8M654.40 1103.9V1116.8M654.60 1104.7V1119.7M654.80 1105.5V1121.3M655.00 1106.3V1121.7M655.20 1107.0V1120.9M655.40 1107.8V1120.2M655.60 1108.6V1123.2M655.80 1109.4V1121.6M656.00 1110.2V1123.9M656.20 1111.0V1124.7M656.40 1111.8V1127.6M656.60 1112.6V1127.6M656.80 1113.5V1125.9M657.00 1114.3V1128.5M657.20 1115.1V1129.7M657.40 1115.9V1128.9M657.60 1116.8V1131.1M657.80 1117.6V1129.8M658.00 1118.5V1133.4M658.20 1119.3V1133.7M658.40 1120.2V1135.9M658.60 1121.1V1136.7M658.80 1121.9V1135.1M659.00 1122.8V1135.0M659.20 1123.7V1138.4M659.40 1124.6V1139.3M659.60 1125.5V1140.5M659.80 1126.4V1139.7M660.00 1127.3V1140.9M660.20 1128.2V1143.4M660.40 1129.1V1143.5M660.60 1130.0V1143.2M660.80 1131.0V1143.4M661.00 1131.9V1146.8M661.20 1132.8V1146.0M661.40 1133.8V1149.5M661.60 1134.7V1150.1M661.80 1135.7V1149.5M662.00 1136.7V1149.5M662.20 1137.6V1149.7M662.40 1138.6V1152.7M662.60 1139.6V1154.4M662.80 1140.5V1152.9M663.00 1141.5V1155.2M663.20 1142.5V1156.0M663.40 1143.5V1157.4M663.60 1144.5V1158.9M663.80 1145.5V1159.3M664.00 1146.6V1161.3M664.20 1147.6V1160.5M664.40 1148.6V1163.5M664.60 1149.6V1163.6M664.80 1150.7V1165.0M665.00 1151.7V1166.2M665.20 1152.8V1168.4M665.40 1153.8V1169.7M665.60 1154.9V1166.9M665.80 1155.9V1170.8M666.00 1157.0V1171.1M666.20 1158.1V1172.6M666.40 1159.2V1172.1M666.60 1160.3V1174.0M666.80 1161.3V1175.0M667.00 1162.4V1176.1" stroke="#000" stroke-width="0.6" fill="none"/>
<path d="M104.60 1231.6V1239.6M119.20 1183.0V1191.0M133.20 1327.0V1335.0M140.20 1242.0V1250.0M154.20 1160.0V1168.0M165.30 1212.6V1220.6M190.10 1183.4V1191.4M255.00 1242.0V1250.0M274.00 1123.6V1131.6M315.00 1112.0V1120.0M322.30 1141.0V1149.0M338.40 1099.0V1107.0M471.00 1100.0V1108.0M484.00 1145.7V1153.7M114.00 1112.0V1120.0M126.00 1142.0V1150.0M147.00 1122.0V1130.0M160.00 1102.0V1110.0M176.00 1107.0V1115.0M183.00 1132.0V1140.0M243.00 1102.0V1110.0M262.00 1092.0V1100.0M282.00 1112.0V1120.0M300.00 1087.0V1095.0M356.00 1082.0V1090.0M380.00 1092.0V1100.0M521.00 1092.0V1100.0M548.00 1097.0V1105.0M558.00 1090.0V1098.0M590.00 1082.0V1090.0" stroke="#000" stroke-width="1.3" fill="none"/>
<polygon points="197.5,1036.0 201.9,1043.0 204.5,1051.0 206.3,1060.6 207.8,1072.0 208.9,1087.0 209.7,1108.0 210.2,1130.0 210.6,1160.0 210.8,1200.0 209.6,1200.0 209.4,1160.0 209.1,1130.0 208.2,1108.0 206.3,1087.0 205.2,1075.0 204.0,1063.0 201.0,1050.0 196.5,1047.0" fill="#000"/>
<polygon points="209.8,1036.0 213.3,1036.0 217.7,1047.5 219.8,1060.0 221.2,1073.8 222.5,1100.0 223.8,1130.0 226.0,1170.0 229.0,1210.0 233.2,1257.0 232.2,1257.0 228.0,1210.0 225.0,1170.0 222.6,1130.0 221.3,1100.0 219.8,1075.0 217.5,1057.0 214.5,1052.0 209.8,1052.0" fill="#000"/>
<line x1="289.00" y1="1041.2" x2="289.47" y2="1041.2" stroke="#000" stroke-width="2.50" stroke-linecap="round"/>
<line x1="289.47" y1="1041.2" x2="289.94" y2="1041.3" stroke="#000" stroke-width="2.49" stroke-linecap="round"/>
<line x1="289.94" y1="1041.3" x2="290.40" y2="1041.4" stroke="#000" stroke-width="2.48" stroke-linecap="round"/>
<line x1="290.40" y1="1041.4" x2="290.87" y2="1041.5" stroke="#000" stroke-width="2.46" stroke-linecap="round"/>
<line x1="290.87" y1="1041.5" x2="291.34" y2="1041.8" stroke="#000" stroke-width="2.45" stroke-linecap="round"/>
<line x1="291.34" y1="1041.8" x2="291.81" y2="1042.0" stroke="#000" stroke-width="2.44" stroke-linecap="round"/>
<line x1="291.81" y1="1042.0" x2="292.27" y2="1042.4" stroke="#000" stroke-width="2.42" stroke-linecap="round"/>
<line x1="292.27" y1="1042.4" x2="292.74" y2="1042.8" stroke="#000" stroke-width="2.41" stroke-linecap="round"/>
<line x1="292.74" y1="1042.8" x2="293.21" y2="1043.3" stroke="#000" stroke-width="2.40" stroke-linecap="round"/>
<line x1="293.21" y1="1043.3" x2="293.68" y2="1043.8" stroke="#000" stroke-width="2.39" stroke-linecap="round"/>
<line x1="293.68" y1="1043.8" x2="294.14" y2="1044.4" stroke="#000" stroke-width="2.38" stroke-linecap="round"/>
<line x1="294.14" y1="1044.4" x2="294.61" y2="1045.1" stroke="#000" stroke-width="2.36" stroke-linecap="round"/>
<line x1="294.61" y1="1045.1" x2="295.08" y2="1045.8" stroke="#000" stroke-width="2.35" stroke-linecap="round"/>
<line x1="295.08" y1="1045.8" x2="295.55" y2="1046.6" stroke="#000" stroke-width="2.34" stroke-linecap="round"/>
<line x1="295.55" y1="1046.6" x2="296.01" y2="1047.5" stroke="#000" stroke-width="2.33" stroke-linecap="round"/>
<line x1="296.01" y1="1047.5" x2="296.48" y2="1048.5" stroke="#000" stroke-width="2.31" stroke-linecap="round"/>
<line x1="296.48" y1="1048.5" x2="296.95" y2="1049.5" stroke="#000" stroke-width="2.30" stroke-linecap="round"/>
<line x1="296.95" y1="1049.5" x2="297.42" y2="1050.6" stroke="#000" stroke-width="2.29" stroke-linecap="round"/>
<line x1="297.42" y1="1050.6" x2="297.88" y2="1051.8" stroke="#000" stroke-width="2.27" stroke-linecap="round"/>
<line x1="297.88" y1="1051.8" x2="298.35" y2="1053.1" stroke="#000" stroke-width="2.26" stroke-linecap="round"/>
<line x1="298.35" y1="1053.1" x2="298.82" y2="1054.5" stroke="#000" stroke-width="2.25" stroke-linecap="round"/>
<line x1="298.82" y1="1054.5" x2="299.28" y2="1055.9" stroke="#000" stroke-width="2.24" stroke-linecap="round"/>
<line x1="299.28" y1="1055.9" x2="299.75" y2="1057.4" stroke="#000" stroke-width="2.23" stroke-linecap="round"/>
<line x1="299.75" y1="1057.4" x2="300.22" y2="1059.0" stroke="#000" stroke-width="2.21" stroke-linecap="round"/>
<line x1="300.22" y1="1059.0" x2="300.69" y2="1060.7" stroke="#000" stroke-width="2.20" stroke-linecap="round"/>
<line x1="300.69" y1="1060.7" x2="301.15" y2="1062.4" stroke="#000" stroke-width="2.19" stroke-linecap="round"/>
<line x1="301.15" y1="1062.4" x2="301.62" y2="1064.2" stroke="#000" stroke-width="2.17" stroke-linecap="round"/>
<line x1="301.62" y1="1064.2" x2="302.09" y2="1066.2" stroke="#000" stroke-width="2.16" stroke-linecap="round"/>
<line x1="302.09" y1="1066.2" x2="302.56" y2="1068.2" stroke="#000" stroke-width="2.15" stroke-linecap="round"/>
<line x1="302.56" y1="1068.2" x2="303.02" y2="1070.2" stroke="#000" stroke-width="2.14" stroke-linecap="round"/>
<line x1="303.02" y1="1070.2" x2="303.49" y2="1072.4" stroke="#000" stroke-width="2.12" stroke-linecap="round"/>
<line x1="303.49" y1="1072.4" x2="303.96" y2="1074.7" stroke="#000" stroke-width="2.11" stroke-linecap="round"/>
<line x1="303.96" y1="1074.7" x2="304.43" y2="1077.0" stroke="#000" stroke-width="2.10" stroke-linecap="round"/>
<line x1="304.43" y1="1077.0" x2="304.89" y2="1079.5" stroke="#000" stroke-width="2.09" stroke-linecap="round"/>
<line x1="304.89" y1="1079.5" x2="305.36" y2="1082.0" stroke="#000" stroke-width="2.08" stroke-linecap="round"/>
<line x1="305.36" y1="1082.0" x2="305.83" y2="1084.6" stroke="#000" stroke-width="2.06" stroke-linecap="round"/>
<line x1="305.83" y1="1084.6" x2="306.30" y2="1087.3" stroke="#000" stroke-width="2.05" stroke-linecap="round"/>
<line x1="306.30" y1="1087.3" x2="306.76" y2="1090.1" stroke="#000" stroke-width="2.04" stroke-linecap="round"/>
<line x1="306.76" y1="1090.1" x2="307.23" y2="1092.9" stroke="#000" stroke-width="2.02" stroke-linecap="round"/>
<line x1="307.23" y1="1092.9" x2="307.70" y2="1095.9" stroke="#000" stroke-width="2.01" stroke-linecap="round"/>
<line x1="398.00" y1="1046.0" x2="398.42" y2="1046.0" stroke="#000" stroke-width="3.00" stroke-linecap="round"/>
<line x1="398.42" y1="1046.0" x2="398.85" y2="1046.1" stroke="#000" stroke-width="2.96" stroke-linecap="round"/>
<line x1="398.85" y1="1046.1" x2="399.27" y2="1046.2" stroke="#000" stroke-width="2.92" stroke-linecap="round"/>
<line x1="399.27" y1="1046.2" x2="399.69" y2="1046.3" stroke="#000" stroke-width="2.89" stroke-linecap="round"/>
<line x1="399.69" y1="1046.3" x2="400.11" y2="1046.6" stroke="#000" stroke-width="2.85" stroke-linecap="round"/>
<line x1="400.11" y1="1046.6" x2="400.53" y2="1046.9" stroke="#000" stroke-width="2.81" stroke-linecap="round"/>
<line x1="400.53" y1="1046.9" x2="400.96" y2="1047.3" stroke="#000" stroke-width="2.77" stroke-linecap="round"/>
<line x1="400.96" y1="1047.3" x2="401.38" y2="1047.8" stroke="#000" stroke-width="2.74" stroke-linecap="round"/>
<line x1="401.38" y1="1047.8" x2="401.80" y2="1048.4" stroke="#000" stroke-width="2.70" stroke-linecap="round"/>
<line x1="401.80" y1="1048.4" x2="402.23" y2="1049.1" stroke="#000" stroke-width="2.66" stroke-linecap="round"/>
<line x1="402.23" y1="1049.1" x2="402.65" y2="1049.9" stroke="#000" stroke-width="2.62" stroke-linecap="round"/>
<line x1="402.65" y1="1049.9" x2="403.07" y2="1050.8" stroke="#000" stroke-width="2.59" stroke-linecap="round"/>
<line x1="403.07" y1="1050.8" x2="403.49" y2="1051.8" stroke="#000" stroke-width="2.55" stroke-linecap="round"/>
<line x1="403.49" y1="1051.8" x2="403.91" y2="1053.0" stroke="#000" stroke-width="2.51" stroke-linecap="round"/>
<line x1="403.91" y1="1053.0" x2="404.34" y2="1054.2" stroke="#000" stroke-width="2.48" stroke-linecap="round"/>
<line x1="404.34" y1="1054.2" x2="404.76" y2="1055.6" stroke="#000" stroke-width="2.44" stroke-linecap="round"/>
<line x1="404.76" y1="1055.6" x2="405.18" y2="1057.1" stroke="#000" stroke-width="2.40" stroke-linecap="round"/>
<line x1="405.18" y1="1057.1" x2="405.61" y2="1058.7" stroke="#000" stroke-width="2.36" stroke-linecap="round"/>
<line x1="405.61" y1="1058.7" x2="406.03" y2="1060.5" stroke="#000" stroke-width="2.33" stroke-linecap="round"/>
<line x1="406.03" y1="1060.5" x2="406.45" y2="1062.4" stroke="#000" stroke-width="2.29" stroke-linecap="round"/>
<line x1="406.45" y1="1062.4" x2="406.87" y2="1064.4" stroke="#000" stroke-width="2.25" stroke-linecap="round"/>
<line x1="406.87" y1="1064.4" x2="407.29" y2="1066.6" stroke="#000" stroke-width="2.21" stroke-linecap="round"/>
<line x1="407.29" y1="1066.6" x2="407.72" y2="1068.9" stroke="#000" stroke-width="2.17" stroke-linecap="round"/>
<line x1="407.72" y1="1068.9" x2="408.14" y2="1071.4" stroke="#000" stroke-width="2.14" stroke-linecap="round"/>
<line x1="408.14" y1="1071.4" x2="408.56" y2="1074.0" stroke="#000" stroke-width="2.10" stroke-linecap="round"/>
<line x1="408.56" y1="1074.0" x2="408.99" y2="1076.8" stroke="#000" stroke-width="2.06" stroke-linecap="round"/>
<line x1="408.99" y1="1076.8" x2="409.41" y2="1079.7" stroke="#000" stroke-width="2.02" stroke-linecap="round"/>
<line x1="409.41" y1="1079.7" x2="409.83" y2="1082.8" stroke="#000" stroke-width="1.99" stroke-linecap="round"/>
<line x1="409.83" y1="1082.8" x2="410.25" y2="1086.0" stroke="#000" stroke-width="1.95" stroke-linecap="round"/>
<line x1="410.25" y1="1086.0" x2="410.67" y2="1089.4" stroke="#000" stroke-width="1.91" stroke-linecap="round"/>
<line x1="410.67" y1="1089.4" x2="411.10" y2="1093.0" stroke="#000" stroke-width="1.88" stroke-linecap="round"/>
<line x1="411.10" y1="1093.0" x2="411.52" y2="1096.7" stroke="#000" stroke-width="1.84" stroke-linecap="round"/>
<line x1="411.52" y1="1096.7" x2="411.94" y2="1100.6" stroke="#000" stroke-width="1.80" stroke-linecap="round"/>
<line x1="411.94" y1="1100.6" x2="412.37" y2="1104.6" stroke="#000" stroke-width="1.76" stroke-linecap="round"/>
<line x1="412.37" y1="1104.6" x2="412.79" y2="1108.9" stroke="#000" stroke-width="1.73" stroke-linecap="round"/>
<line x1="412.79" y1="1108.9" x2="413.21" y2="1113.3" stroke="#000" stroke-width="1.69" stroke-linecap="round"/>
<line x1="413.21" y1="1113.3" x2="413.63" y2="1117.8" stroke="#000" stroke-width="1.65" stroke-linecap="round"/>
<line x1="413.63" y1="1117.8" x2="414.05" y2="1122.6" stroke="#000" stroke-width="1.61" stroke-linecap="round"/>
<line x1="414.05" y1="1122.6" x2="414.48" y2="1127.5" stroke="#000" stroke-width="1.58" stroke-linecap="round"/>
<line x1="414.48" y1="1127.5" x2="414.90" y2="1132.6" stroke="#000" stroke-width="1.54" stroke-linecap="round"/>
<line x1="438.00" y1="1052.0" x2="438.32" y2="1052.0" stroke="#000" stroke-width="3.00" stroke-linecap="round"/>
<line x1="438.32" y1="1052.0" x2="438.64" y2="1052.1" stroke="#000" stroke-width="2.96" stroke-linecap="round"/>
<line x1="438.64" y1="1052.1" x2="438.96" y2="1052.3" stroke="#000" stroke-width="2.92" stroke-linecap="round"/>
<line x1="438.96" y1="1052.3" x2="439.28" y2="1052.5" stroke="#000" stroke-width="2.89" stroke-linecap="round"/>
<line x1="439.28" y1="1052.5" x2="439.60" y2="1052.8" stroke="#000" stroke-width="2.85" stroke-linecap="round"/>
<line x1="439.60" y1="1052.8" x2="439.92" y2="1053.2" stroke="#000" stroke-width="2.81" stroke-linecap="round"/>
<line x1="439.92" y1="1053.2" x2="440.24" y2="1053.6" stroke="#000" stroke-width="2.77" stroke-linecap="round"/>
<line x1="440.24" y1="1053.6" x2="440.56" y2="1054.1" stroke="#000" stroke-width="2.74" stroke-linecap="round"/>
<line x1="440.56" y1="1054.1" x2="440.88" y2="1054.6" stroke="#000" stroke-width="2.70" stroke-linecap="round"/>
<line x1="440.88" y1="1054.6" x2="441.20" y2="1055.2" stroke="#000" stroke-width="2.66" stroke-linecap="round"/>
<line x1="441.20" y1="1055.2" x2="441.52" y2="1055.9" stroke="#000" stroke-width="2.62" stroke-linecap="round"/>
<line x1="441.52" y1="1055.9" x2="441.84" y2="1056.6" stroke="#000" stroke-width="2.59" stroke-linecap="round"/>
<line x1="441.84" y1="1056.6" x2="442.16" y2="1057.4" stroke="#000" stroke-width="2.55" stroke-linecap="round"/>
<line x1="442.16" y1="1057.4" x2="442.48" y2="1058.3" stroke="#000" stroke-width="2.51" stroke-linecap="round"/>
<line x1="442.48" y1="1058.3" x2="442.80" y2="1059.2" stroke="#000" stroke-width="2.48" stroke-linecap="round"/>
<line x1="442.80" y1="1059.2" x2="443.12" y2="1060.2" stroke="#000" stroke-width="2.44" stroke-linecap="round"/>
<line x1="443.12" y1="1060.2" x2="443.44" y2="1061.3" stroke="#000" stroke-width="2.40" stroke-linecap="round"/>
<line x1="443.44" y1="1061.3" x2="443.76" y2="1062.4" stroke="#000" stroke-width="2.36" stroke-linecap="round"/>
<line x1="443.76" y1="1062.4" x2="444.08" y2="1063.6" stroke="#000" stroke-width="2.33" stroke-linecap="round"/>
<line x1="444.08" y1="1063.6" x2="444.40" y2="1064.9" stroke="#000" stroke-width="2.29" stroke-linecap="round"/>
<line x1="444.40" y1="1064.9" x2="444.72" y2="1066.2" stroke="#000" stroke-width="2.25" stroke-linecap="round"/>
<line x1="444.72" y1="1066.2" x2="445.04" y2="1067.6" stroke="#000" stroke-width="2.21" stroke-linecap="round"/>
<line x1="445.04" y1="1067.6" x2="445.36" y2="1069.0" stroke="#000" stroke-width="2.17" stroke-linecap="round"/>
<line x1="445.36" y1="1069.0" x2="445.68" y2="1070.5" stroke="#000" stroke-width="2.14" stroke-linecap="round"/>
<line x1="445.68" y1="1070.5" x2="446.00" y2="1072.1" stroke="#000" stroke-width="2.10" stroke-linecap="round"/>
<line x1="446.00" y1="1072.1" x2="446.32" y2="1073.8" stroke="#000" stroke-width="2.06" stroke-linecap="round"/>
<line x1="446.32" y1="1073.8" x2="446.64" y2="1075.5" stroke="#000" stroke-width="2.02" stroke-linecap="round"/>
<line x1="446.64" y1="1075.5" x2="446.96" y2="1077.2" stroke="#000" stroke-width="1.99" stroke-linecap="round"/>
<line x1="446.96" y1="1077.2" x2="447.28" y2="1079.1" stroke="#000" stroke-width="1.95" stroke-linecap="round"/>
<line x1="447.28" y1="1079.1" x2="447.60" y2="1081.0" stroke="#000" stroke-width="1.91" stroke-linecap="round"/>
<line x1="447.60" y1="1081.0" x2="447.92" y2="1082.9" stroke="#000" stroke-width="1.88" stroke-linecap="round"/>
<line x1="447.92" y1="1082.9" x2="448.24" y2="1085.0" stroke="#000" stroke-width="1.84" stroke-linecap="round"/>
<line x1="448.24" y1="1085.0" x2="448.56" y2="1087.1" stroke="#000" stroke-width="1.80" stroke-linecap="round"/>
<line x1="448.56" y1="1087.1" x2="448.88" y2="1089.2" stroke="#000" stroke-width="1.76" stroke-linecap="round"/>
<line x1="448.88" y1="1089.2" x2="449.20" y2="1091.4" stroke="#000" stroke-width="1.73" stroke-linecap="round"/>
<line x1="449.20" y1="1091.4" x2="449.52" y2="1093.7" stroke="#000" stroke-width="1.69" stroke-linecap="round"/>
<line x1="449.52" y1="1093.7" x2="449.84" y2="1096.1" stroke="#000" stroke-width="1.65" stroke-linecap="round"/>
<line x1="449.84" y1="1096.1" x2="450.16" y2="1098.5" stroke="#000" stroke-width="1.61" stroke-linecap="round"/>
<line x1="450.16" y1="1098.5" x2="450.48" y2="1101.0" stroke="#000" stroke-width="1.58" stroke-linecap="round"/>
<line x1="450.48" y1="1101.0" x2="450.80" y2="1103.5" stroke="#000" stroke-width="1.54" stroke-linecap="round"/>
<line x1="489.00" y1="1045.2" x2="489.19" y2="1045.4" stroke="#000" stroke-width="2.20" stroke-linecap="round"/>
<line x1="489.19" y1="1045.4" x2="489.38" y2="1045.8" stroke="#000" stroke-width="2.19" stroke-linecap="round"/>
<line x1="489.38" y1="1045.8" x2="489.58" y2="1046.4" stroke="#000" stroke-width="2.17" stroke-linecap="round"/>
<line x1="489.58" y1="1046.4" x2="489.77" y2="1047.3" stroke="#000" stroke-width="2.16" stroke-linecap="round"/>
<line x1="489.77" y1="1047.3" x2="489.96" y2="1048.3" stroke="#000" stroke-width="2.14" stroke-linecap="round"/>
<line x1="489.96" y1="1048.3" x2="490.15" y2="1049.5" stroke="#000" stroke-width="2.12" stroke-linecap="round"/>
<line x1="490.15" y1="1049.5" x2="490.35" y2="1050.9" stroke="#000" stroke-width="2.11" stroke-linecap="round"/>
<line x1="490.35" y1="1050.9" x2="490.54" y2="1052.4" stroke="#000" stroke-width="2.10" stroke-linecap="round"/>
<line x1="490.54" y1="1052.4" x2="490.73" y2="1054.1" stroke="#000" stroke-width="2.08" stroke-linecap="round"/>
<line x1="490.73" y1="1054.1" x2="490.93" y2="1056.0" stroke="#000" stroke-width="2.06" stroke-linecap="round"/>
<line x1="490.93" y1="1056.0" x2="491.12" y2="1058.0" stroke="#000" stroke-width="2.05" stroke-linecap="round"/>
<line x1="491.12" y1="1058.0" x2="491.31" y2="1060.1" stroke="#000" stroke-width="2.04" stroke-linecap="round"/>
<line x1="491.31" y1="1060.1" x2="491.50" y2="1062.5" stroke="#000" stroke-width="2.02" stroke-linecap="round"/>
<line x1="491.50" y1="1062.5" x2="491.69" y2="1064.9" stroke="#000" stroke-width="2.01" stroke-linecap="round"/>
<line x1="491.69" y1="1064.9" x2="491.89" y2="1067.5" stroke="#000" stroke-width="1.99" stroke-linecap="round"/>
<line x1="491.89" y1="1067.5" x2="492.08" y2="1070.3" stroke="#000" stroke-width="1.98" stroke-linecap="round"/>
<line x1="492.08" y1="1070.3" x2="492.27" y2="1073.2" stroke="#000" stroke-width="1.96" stroke-linecap="round"/>
<line x1="492.27" y1="1073.2" x2="492.46" y2="1076.2" stroke="#000" stroke-width="1.95" stroke-linecap="round"/>
<line x1="492.46" y1="1076.2" x2="492.66" y2="1079.4" stroke="#000" stroke-width="1.93" stroke-linecap="round"/>
<line x1="492.66" y1="1079.4" x2="492.85" y2="1082.7" stroke="#000" stroke-width="1.92" stroke-linecap="round"/>
<line x1="492.85" y1="1082.7" x2="493.04" y2="1086.1" stroke="#000" stroke-width="1.90" stroke-linecap="round"/>
<line x1="493.04" y1="1086.1" x2="493.24" y2="1089.7" stroke="#000" stroke-width="1.89" stroke-linecap="round"/>
<line x1="493.24" y1="1089.7" x2="493.43" y2="1093.4" stroke="#000" stroke-width="1.87" stroke-linecap="round"/>
<line x1="493.43" y1="1093.4" x2="493.62" y2="1097.2" stroke="#000" stroke-width="1.86" stroke-linecap="round"/>
<line x1="493.62" y1="1097.2" x2="493.81" y2="1101.2" stroke="#000" stroke-width="1.84" stroke-linecap="round"/>
<line x1="493.81" y1="1101.2" x2="494.00" y2="1105.3" stroke="#000" stroke-width="1.83" stroke-linecap="round"/>
<line x1="494.00" y1="1105.3" x2="494.20" y2="1109.5" stroke="#000" stroke-width="1.81" stroke-linecap="round"/>
<line x1="494.20" y1="1109.5" x2="494.39" y2="1113.9" stroke="#000" stroke-width="1.80" stroke-linecap="round"/>
<line x1="494.39" y1="1113.9" x2="494.58" y2="1118.4" stroke="#000" stroke-width="1.78" stroke-linecap="round"/>
<line x1="494.58" y1="1118.4" x2="494.77" y2="1123.0" stroke="#000" stroke-width="1.77" stroke-linecap="round"/>
<line x1="494.77" y1="1123.0" x2="494.97" y2="1127.7" stroke="#000" stroke-width="1.75" stroke-linecap="round"/>
<line x1="494.97" y1="1127.7" x2="495.16" y2="1132.5" stroke="#000" stroke-width="1.74" stroke-linecap="round"/>
<line x1="495.16" y1="1132.5" x2="495.35" y2="1137.5" stroke="#000" stroke-width="1.72" stroke-linecap="round"/>
<line x1="495.35" y1="1137.5" x2="495.55" y2="1142.6" stroke="#000" stroke-width="1.71" stroke-linecap="round"/>
<line x1="495.55" y1="1142.6" x2="495.74" y2="1147.8" stroke="#000" stroke-width="1.69" stroke-linecap="round"/>
<line x1="495.74" y1="1147.8" x2="495.93" y2="1153.2" stroke="#000" stroke-width="1.68" stroke-linecap="round"/>
<line x1="495.93" y1="1153.2" x2="496.12" y2="1158.6" stroke="#000" stroke-width="1.66" stroke-linecap="round"/>
<line x1="496.12" y1="1158.6" x2="496.31" y2="1164.2" stroke="#000" stroke-width="1.65" stroke-linecap="round"/>
<line x1="496.31" y1="1164.2" x2="496.51" y2="1169.9" stroke="#000" stroke-width="1.63" stroke-linecap="round"/>
<line x1="496.51" y1="1169.9" x2="496.70" y2="1175.7" stroke="#000" stroke-width="1.62" stroke-linecap="round"/>
<line x1="494.00" y1="1049.2" x2="494.23" y2="1049.3" stroke="#000" stroke-width="2.20" stroke-linecap="round"/>
<line x1="494.23" y1="1049.3" x2="494.45" y2="1049.6" stroke="#000" stroke-width="2.19" stroke-linecap="round"/>
<line x1="494.45" y1="1049.6" x2="494.68" y2="1050.0" stroke="#000" stroke-width="2.17" stroke-linecap="round"/>
<line x1="494.68" y1="1050.0" x2="494.90" y2="1050.5" stroke="#000" stroke-width="2.16" stroke-linecap="round"/>
<line x1="494.90" y1="1050.5" x2="495.12" y2="1051.2" stroke="#000" stroke-width="2.14" stroke-linecap="round"/>
<line x1="495.12" y1="1051.2" x2="495.35" y2="1051.9" stroke="#000" stroke-width="2.12" stroke-linecap="round"/>
<line x1="495.35" y1="1051.9" x2="495.57" y2="1052.8" stroke="#000" stroke-width="2.11" stroke-linecap="round"/>
<line x1="495.57" y1="1052.8" x2="495.80" y2="1053.8" stroke="#000" stroke-width="2.10" stroke-linecap="round"/>
<line x1="495.80" y1="1053.8" x2="496.02" y2="1054.8" stroke="#000" stroke-width="2.08" stroke-linecap="round"/>
<line x1="496.02" y1="1054.8" x2="496.25" y2="1056.0" stroke="#000" stroke-width="2.06" stroke-linecap="round"/>
<line x1="496.25" y1="1056.0" x2="496.48" y2="1057.3" stroke="#000" stroke-width="2.05" stroke-linecap="round"/>
<line x1="496.48" y1="1057.3" x2="496.70" y2="1058.7" stroke="#000" stroke-width="2.04" stroke-linecap="round"/>
<line x1="496.70" y1="1058.7" x2="496.93" y2="1060.1" stroke="#000" stroke-width="2.02" stroke-linecap="round"/>
<line x1="496.93" y1="1060.1" x2="497.15" y2="1061.7" stroke="#000" stroke-width="2.01" stroke-linecap="round"/>
<line x1="497.15" y1="1061.7" x2="497.38" y2="1063.3" stroke="#000" stroke-width="1.99" stroke-linecap="round"/>
<line x1="497.38" y1="1063.3" x2="497.60" y2="1065.1" stroke="#000" stroke-width="1.98" stroke-linecap="round"/>
<line x1="497.60" y1="1065.1" x2="497.82" y2="1066.9" stroke="#000" stroke-width="1.96" stroke-linecap="round"/>
<line x1="497.82" y1="1066.9" x2="498.05" y2="1068.8" stroke="#000" stroke-width="1.95" stroke-linecap="round"/>
<line x1="498.05" y1="1068.8" x2="498.27" y2="1070.8" stroke="#000" stroke-width="1.93" stroke-linecap="round"/>
<line x1="498.27" y1="1070.8" x2="498.50" y2="1072.9" stroke="#000" stroke-width="1.92" stroke-linecap="round"/>
<line x1="498.50" y1="1072.9" x2="498.73" y2="1075.1" stroke="#000" stroke-width="1.90" stroke-linecap="round"/>
<line x1="498.73" y1="1075.1" x2="498.95" y2="1077.4" stroke="#000" stroke-width="1.89" stroke-linecap="round"/>
<line x1="498.95" y1="1077.4" x2="499.18" y2="1079.7" stroke="#000" stroke-width="1.87" stroke-linecap="round"/>
<line x1="499.18" y1="1079.7" x2="499.40" y2="1082.1" stroke="#000" stroke-width="1.86" stroke-linecap="round"/>
<line x1="499.40" y1="1082.1" x2="499.62" y2="1084.6" stroke="#000" stroke-width="1.84" stroke-linecap="round"/>
<line x1="499.62" y1="1084.6" x2="499.85" y2="1087.2" stroke="#000" stroke-width="1.83" stroke-linecap="round"/>
<line x1="499.85" y1="1087.2" x2="500.07" y2="1089.9" stroke="#000" stroke-width="1.81" stroke-linecap="round"/>
<line x1="500.07" y1="1089.9" x2="500.30" y2="1092.7" stroke="#000" stroke-width="1.80" stroke-linecap="round"/>
<line x1="500.30" y1="1092.7" x2="500.52" y2="1095.5" stroke="#000" stroke-width="1.78" stroke-linecap="round"/>
<line x1="500.52" y1="1095.5" x2="500.75" y2="1098.4" stroke="#000" stroke-width="1.77" stroke-linecap="round"/>
<line x1="500.75" y1="1098.4" x2="500.98" y2="1101.4" stroke="#000" stroke-width="1.75" stroke-linecap="round"/>
<line x1="500.98" y1="1101.4" x2="501.20" y2="1104.5" stroke="#000" stroke-width="1.74" stroke-linecap="round"/>
<line x1="501.20" y1="1104.5" x2="501.43" y2="1107.6" stroke="#000" stroke-width="1.72" stroke-linecap="round"/>
<line x1="501.43" y1="1107.6" x2="501.65" y2="1110.9" stroke="#000" stroke-width="1.71" stroke-linecap="round"/>
<line x1="501.65" y1="1110.9" x2="501.88" y2="1114.2" stroke="#000" stroke-width="1.69" stroke-linecap="round"/>
<line x1="501.88" y1="1114.2" x2="502.10" y2="1117.5" stroke="#000" stroke-width="1.68" stroke-linecap="round"/>
<line x1="502.10" y1="1117.5" x2="502.32" y2="1121.0" stroke="#000" stroke-width="1.66" stroke-linecap="round"/>
<line x1="502.32" y1="1121.0" x2="502.55" y2="1124.5" stroke="#000" stroke-width="1.65" stroke-linecap="round"/>
<line x1="502.55" y1="1124.5" x2="502.77" y2="1128.1" stroke="#000" stroke-width="1.63" stroke-linecap="round"/>
<line x1="502.77" y1="1128.1" x2="503.00" y2="1131.8" stroke="#000" stroke-width="1.62" stroke-linecap="round"/>
<line x1="504.00" y1="1049.0" x2="504.66" y2="1049.1" stroke="#000" stroke-width="2.50" stroke-linecap="round"/>
<line x1="504.66" y1="1049.1" x2="505.31" y2="1049.4" stroke="#000" stroke-width="2.49" stroke-linecap="round"/>
<line x1="505.31" y1="1049.4" x2="505.97" y2="1049.8" stroke="#000" stroke-width="2.48" stroke-linecap="round"/>
<line x1="505.97" y1="1049.8" x2="506.63" y2="1050.3" stroke="#000" stroke-width="2.46" stroke-linecap="round"/>
<line x1="506.63" y1="1050.3" x2="507.29" y2="1051.0" stroke="#000" stroke-width="2.45" stroke-linecap="round"/>
<line x1="507.29" y1="1051.0" x2="507.94" y2="1051.9" stroke="#000" stroke-width="2.44" stroke-linecap="round"/>
<line x1="507.94" y1="1051.9" x2="508.60" y2="1052.8" stroke="#000" stroke-width="2.42" stroke-linecap="round"/>
<line x1="508.60" y1="1052.8" x2="509.26" y2="1054.0" stroke="#000" stroke-width="2.41" stroke-linecap="round"/>
<line x1="509.26" y1="1054.0" x2="509.92" y2="1055.2" stroke="#000" stroke-width="2.40" stroke-linecap="round"/>
<line x1="509.92" y1="1055.2" x2="510.57" y2="1056.6" stroke="#000" stroke-width="2.39" stroke-linecap="round"/>
<line x1="510.57" y1="1056.6" x2="511.23" y2="1058.1" stroke="#000" stroke-width="2.38" stroke-linecap="round"/>
<line x1="511.23" y1="1058.1" x2="511.89" y2="1059.7" stroke="#000" stroke-width="2.36" stroke-linecap="round"/>
<line x1="511.89" y1="1059.7" x2="512.55" y2="1061.5" stroke="#000" stroke-width="2.35" stroke-linecap="round"/>
<line x1="512.55" y1="1061.5" x2="513.20" y2="1063.4" stroke="#000" stroke-width="2.34" stroke-linecap="round"/>
<line x1="513.20" y1="1063.4" x2="513.86" y2="1065.4" stroke="#000" stroke-width="2.33" stroke-linecap="round"/>
<line x1="513.86" y1="1065.4" x2="514.52" y2="1067.5" stroke="#000" stroke-width="2.31" stroke-linecap="round"/>
<line x1="514.52" y1="1067.5" x2="515.18" y2="1069.8" stroke="#000" stroke-width="2.30" stroke-linecap="round"/>
<line x1="515.18" y1="1069.8" x2="515.84" y2="1072.1" stroke="#000" stroke-width="2.29" stroke-linecap="round"/>
<line x1="515.84" y1="1072.1" x2="516.49" y2="1074.6" stroke="#000" stroke-width="2.27" stroke-linecap="round"/>
<line x1="516.49" y1="1074.6" x2="517.15" y2="1077.3" stroke="#000" stroke-width="2.26" stroke-linecap="round"/>
<line x1="517.15" y1="1077.3" x2="517.81" y2="1080.0" stroke="#000" stroke-width="2.25" stroke-linecap="round"/>
<line x1="517.81" y1="1080.0" x2="518.47" y2="1082.9" stroke="#000" stroke-width="2.24" stroke-linecap="round"/>
<line x1="518.47" y1="1082.9" x2="519.12" y2="1085.9" stroke="#000" stroke-width="2.23" stroke-linecap="round"/>
<line x1="519.12" y1="1085.9" x2="519.78" y2="1089.0" stroke="#000" stroke-width="2.21" stroke-linecap="round"/>
<line x1="519.78" y1="1089.0" x2="520.44" y2="1092.2" stroke="#000" stroke-width="2.20" stroke-linecap="round"/>
<line x1="520.44" y1="1092.2" x2="521.10" y2="1095.5" stroke="#000" stroke-width="2.19" stroke-linecap="round"/>
<line x1="521.10" y1="1095.5" x2="521.75" y2="1099.0" stroke="#000" stroke-width="2.17" stroke-linecap="round"/>
<line x1="521.75" y1="1099.0" x2="522.41" y2="1102.6" stroke="#000" stroke-width="2.16" stroke-linecap="round"/>
<line x1="522.41" y1="1102.6" x2="523.07" y2="1106.3" stroke="#000" stroke-width="2.15" stroke-linecap="round"/>
<line x1="523.07" y1="1106.3" x2="523.72" y2="1110.1" stroke="#000" stroke-width="2.14" stroke-linecap="round"/>
<line x1="523.72" y1="1110.1" x2="524.38" y2="1114.0" stroke="#000" stroke-width="2.12" stroke-linecap="round"/>
<line x1="524.38" y1="1114.0" x2="525.04" y2="1118.0" stroke="#000" stroke-width="2.11" stroke-linecap="round"/>
<line x1="525.04" y1="1118.0" x2="525.70" y2="1122.2" stroke="#000" stroke-width="2.10" stroke-linecap="round"/>
<line x1="525.70" y1="1122.2" x2="526.36" y2="1126.5" stroke="#000" stroke-width="2.09" stroke-linecap="round"/>
<line x1="526.36" y1="1126.5" x2="527.01" y2="1130.9" stroke="#000" stroke-width="2.08" stroke-linecap="round"/>
<line x1="527.01" y1="1130.9" x2="527.67" y2="1135.4" stroke="#000" stroke-width="2.06" stroke-linecap="round"/>
<line x1="527.67" y1="1135.4" x2="528.33" y2="1140.0" stroke="#000" stroke-width="2.05" stroke-linecap="round"/>
<line x1="528.33" y1="1140.0" x2="528.98" y2="1144.7" stroke="#000" stroke-width="2.04" stroke-linecap="round"/>
<line x1="528.98" y1="1144.7" x2="529.64" y2="1149.5" stroke="#000" stroke-width="2.02" stroke-linecap="round"/>
<line x1="529.64" y1="1149.5" x2="530.30" y2="1154.5" stroke="#000" stroke-width="2.01" stroke-linecap="round"/>
<line x1="567.00" y1="1047.2" x2="568.04" y2="1047.2" stroke="#000" stroke-width="3.00" stroke-linecap="round"/>
<line x1="568.04" y1="1047.2" x2="569.09" y2="1047.3" stroke="#000" stroke-width="2.96" stroke-linecap="round"/>
<line x1="569.09" y1="1047.3" x2="570.13" y2="1047.4" stroke="#000" stroke-width="2.92" stroke-linecap="round"/>
<line x1="570.13" y1="1047.4" x2="571.17" y2="1047.6" stroke="#000" stroke-width="2.89" stroke-linecap="round"/>
<line x1="571.17" y1="1047.6" x2="572.21" y2="1047.9" stroke="#000" stroke-width="2.85" stroke-linecap="round"/>
<line x1="572.21" y1="1047.9" x2="573.25" y2="1048.3" stroke="#000" stroke-width="2.81" stroke-linecap="round"/>
<line x1="573.25" y1="1048.3" x2="574.30" y2="1048.8" stroke="#000" stroke-width="2.77" stroke-linecap="round"/>
<line x1="574.30" y1="1048.8" x2="575.34" y2="1049.4" stroke="#000" stroke-width="2.74" stroke-linecap="round"/>
<line x1="575.34" y1="1049.4" x2="576.38" y2="1050.0" stroke="#000" stroke-width="2.70" stroke-linecap="round"/>
<line x1="576.38" y1="1050.0" x2="577.42" y2="1050.8" stroke="#000" stroke-width="2.66" stroke-linecap="round"/>
<line x1="577.42" y1="1050.8" x2="578.47" y2="1051.7" stroke="#000" stroke-width="2.62" stroke-linecap="round"/>
<line x1="578.47" y1="1051.7" x2="579.51" y2="1052.7" stroke="#000" stroke-width="2.59" stroke-linecap="round"/>
<line x1="579.51" y1="1052.7" x2="580.55" y2="1053.8" stroke="#000" stroke-width="2.55" stroke-linecap="round"/>
<line x1="580.55" y1="1053.8" x2="581.60" y2="1055.1" stroke="#000" stroke-width="2.51" stroke-linecap="round"/>
<line x1="581.60" y1="1055.1" x2="582.64" y2="1056.4" stroke="#000" stroke-width="2.48" stroke-linecap="round"/>
<line x1="582.64" y1="1056.4" x2="583.68" y2="1057.9" stroke="#000" stroke-width="2.44" stroke-linecap="round"/>
<line x1="583.68" y1="1057.9" x2="584.72" y2="1059.5" stroke="#000" stroke-width="2.40" stroke-linecap="round"/>
<line x1="584.72" y1="1059.5" x2="585.76" y2="1061.2" stroke="#000" stroke-width="2.36" stroke-linecap="round"/>
<line x1="585.76" y1="1061.2" x2="586.81" y2="1063.1" stroke="#000" stroke-width="2.33" stroke-linecap="round"/>
<line x1="586.81" y1="1063.1" x2="587.85" y2="1065.1" stroke="#000" stroke-width="2.29" stroke-linecap="round"/>
<line x1="587.85" y1="1065.1" x2="588.89" y2="1067.2" stroke="#000" stroke-width="2.25" stroke-linecap="round"/>
<line x1="588.89" y1="1067.2" x2="589.94" y2="1069.4" stroke="#000" stroke-width="2.21" stroke-linecap="round"/>
<line x1="589.94" y1="1069.4" x2="590.98" y2="1071.8" stroke="#000" stroke-width="2.17" stroke-linecap="round"/>
<line x1="590.98" y1="1071.8" x2="592.02" y2="1074.4" stroke="#000" stroke-width="2.14" stroke-linecap="round"/>
<line x1="592.02" y1="1074.4" x2="593.06" y2="1077.1" stroke="#000" stroke-width="2.10" stroke-linecap="round"/>
<line x1="593.06" y1="1077.1" x2="594.11" y2="1079.9" stroke="#000" stroke-width="2.06" stroke-linecap="round"/>
<line x1="594.11" y1="1079.9" x2="595.15" y2="1082.8" stroke="#000" stroke-width="2.02" stroke-linecap="round"/>
<line x1="595.15" y1="1082.8" x2="596.19" y2="1085.9" stroke="#000" stroke-width="1.99" stroke-linecap="round"/>
<line x1="596.19" y1="1085.9" x2="597.23" y2="1089.2" stroke="#000" stroke-width="1.95" stroke-linecap="round"/>
<line x1="597.23" y1="1089.2" x2="598.28" y2="1092.6" stroke="#000" stroke-width="1.91" stroke-linecap="round"/>
<line x1="598.28" y1="1092.6" x2="599.32" y2="1096.2" stroke="#000" stroke-width="1.88" stroke-linecap="round"/>
<line x1="599.32" y1="1096.2" x2="600.36" y2="1099.9" stroke="#000" stroke-width="1.84" stroke-linecap="round"/>
<line x1="600.36" y1="1099.9" x2="601.40" y2="1103.7" stroke="#000" stroke-width="1.80" stroke-linecap="round"/>
<line x1="601.40" y1="1103.7" x2="602.45" y2="1107.8" stroke="#000" stroke-width="1.76" stroke-linecap="round"/>
<line x1="602.45" y1="1107.8" x2="603.49" y2="1111.9" stroke="#000" stroke-width="1.73" stroke-linecap="round"/>
<line x1="603.49" y1="1111.9" x2="604.53" y2="1116.3" stroke="#000" stroke-width="1.69" stroke-linecap="round"/>
<line x1="604.53" y1="1116.3" x2="605.57" y2="1120.8" stroke="#000" stroke-width="1.65" stroke-linecap="round"/>
<line x1="605.57" y1="1120.8" x2="606.62" y2="1125.4" stroke="#000" stroke-width="1.61" stroke-linecap="round"/>
<line x1="606.62" y1="1125.4" x2="607.66" y2="1130.2" stroke="#000" stroke-width="1.58" stroke-linecap="round"/>
<line x1="607.66" y1="1130.2" x2="608.70" y2="1135.2" stroke="#000" stroke-width="1.54" stroke-linecap="round"/>
<line x1="612.80" y1="1043.6" x2="614.16" y2="1043.6" stroke="#000" stroke-width="2.00" stroke-linecap="round"/>
<line x1="614.16" y1="1043.6" x2="615.51" y2="1043.7" stroke="#000" stroke-width="2.02" stroke-linecap="round"/>
<line x1="615.51" y1="1043.7" x2="616.87" y2="1043.8" stroke="#000" stroke-width="2.05" stroke-linecap="round"/>
<line x1="616.87" y1="1043.8" x2="618.23" y2="1044.1" stroke="#000" stroke-width="2.08" stroke-linecap="round"/>
<line x1="618.23" y1="1044.1" x2="619.59" y2="1044.5" stroke="#000" stroke-width="2.10" stroke-linecap="round"/>
<line x1="619.59" y1="1044.5" x2="620.94" y2="1044.9" stroke="#000" stroke-width="2.12" stroke-linecap="round"/>
<line x1="620.94" y1="1044.9" x2="622.30" y2="1045.5" stroke="#000" stroke-width="2.15" stroke-linecap="round"/>
<line x1="622.30" y1="1045.5" x2="623.66" y2="1046.2" stroke="#000" stroke-width="2.17" stroke-linecap="round"/>
<line x1="623.66" y1="1046.2" x2="625.02" y2="1047.1" stroke="#000" stroke-width="2.20" stroke-linecap="round"/>
<line x1="625.02" y1="1047.1" x2="626.38" y2="1048.1" stroke="#000" stroke-width="2.23" stroke-linecap="round"/>
<line x1="626.38" y1="1048.1" x2="627.73" y2="1049.2" stroke="#000" stroke-width="2.25" stroke-linecap="round"/>
<line x1="627.73" y1="1049.2" x2="629.09" y2="1050.6" stroke="#000" stroke-width="2.27" stroke-linecap="round"/>
<line x1="629.09" y1="1050.6" x2="630.45" y2="1052.0" stroke="#000" stroke-width="2.30" stroke-linecap="round"/>
<line x1="630.45" y1="1052.0" x2="631.80" y2="1053.7" stroke="#000" stroke-width="2.33" stroke-linecap="round"/>
<line x1="631.80" y1="1053.7" x2="633.16" y2="1055.5" stroke="#000" stroke-width="2.35" stroke-linecap="round"/>
<line x1="633.16" y1="1055.5" x2="634.52" y2="1057.5" stroke="#000" stroke-width="2.38" stroke-linecap="round"/>
<line x1="634.52" y1="1057.5" x2="635.88" y2="1059.6" stroke="#000" stroke-width="2.40" stroke-linecap="round"/>
<line x1="635.88" y1="1059.6" x2="637.24" y2="1062.0" stroke="#000" stroke-width="2.42" stroke-linecap="round"/>
<line x1="637.24" y1="1062.0" x2="638.59" y2="1064.5" stroke="#000" stroke-width="2.45" stroke-linecap="round"/>
<line x1="638.59" y1="1064.5" x2="639.95" y2="1067.3" stroke="#000" stroke-width="2.48" stroke-linecap="round"/>
<line x1="639.95" y1="1067.3" x2="641.31" y2="1070.2" stroke="#000" stroke-width="2.50" stroke-linecap="round"/>
<line x1="641.31" y1="1070.2" x2="642.66" y2="1073.4" stroke="#000" stroke-width="2.52" stroke-linecap="round"/>
<line x1="642.66" y1="1073.4" x2="644.02" y2="1076.7" stroke="#000" stroke-width="2.55" stroke-linecap="round"/>
<line x1="644.02" y1="1076.7" x2="645.38" y2="1080.3" stroke="#000" stroke-width="2.58" stroke-linecap="round"/>
<line x1="645.38" y1="1080.3" x2="646.74" y2="1084.1" stroke="#000" stroke-width="2.60" stroke-linecap="round"/>
<line x1="646.74" y1="1084.1" x2="648.10" y2="1088.1" stroke="#000" stroke-width="2.62" stroke-linecap="round"/>
<line x1="648.10" y1="1088.1" x2="649.45" y2="1092.3" stroke="#000" stroke-width="2.65" stroke-linecap="round"/>
<line x1="649.45" y1="1092.3" x2="650.81" y2="1096.7" stroke="#000" stroke-width="2.67" stroke-linecap="round"/>
<line x1="650.81" y1="1096.7" x2="652.17" y2="1101.4" stroke="#000" stroke-width="2.70" stroke-linecap="round"/>
<line x1="652.17" y1="1101.4" x2="653.52" y2="1106.3" stroke="#000" stroke-width="2.73" stroke-linecap="round"/>
<line x1="653.52" y1="1106.3" x2="654.88" y2="1111.4" stroke="#000" stroke-width="2.75" stroke-linecap="round"/>
<line x1="654.88" y1="1111.4" x2="656.24" y2="1116.8" stroke="#000" stroke-width="2.77" stroke-linecap="round"/>
<line x1="656.24" y1="1116.8" x2="657.60" y2="1122.4" stroke="#000" stroke-width="2.80" stroke-linecap="round"/>
<line x1="657.60" y1="1122.4" x2="658.96" y2="1128.2" stroke="#000" stroke-width="2.83" stroke-linecap="round"/>
<line x1="658.96" y1="1128.2" x2="660.31" y2="1134.3" stroke="#000" stroke-width="2.85" stroke-linecap="round"/>
<line x1="660.31" y1="1134.3" x2="661.67" y2="1140.7" stroke="#000" stroke-width="2.88" stroke-linecap="round"/>
<line x1="661.67" y1="1140.7" x2="663.03" y2="1147.3" stroke="#000" stroke-width="2.90" stroke-linecap="round"/>
<line x1="663.03" y1="1147.3" x2="664.38" y2="1154.1" stroke="#000" stroke-width="2.92" stroke-linecap="round"/>
<line x1="664.38" y1="1154.1" x2="665.74" y2="1161.2" stroke="#000" stroke-width="2.95" stroke-linecap="round"/>
<line x1="665.74" y1="1161.2" x2="667.10" y2="1168.6" stroke="#000" stroke-width="2.98" stroke-linecap="round"/>
<line x1="94.7" y1="1035.8" x2="660" y2="1035.8" stroke="#000" stroke-width="1"/>
<line x1="345" y1="1039.5" x2="452" y2="1039.5" stroke="#000" stroke-width="0.7"/>
<line x1="495" y1="1045" x2="520" y2="1045" stroke="#000" stroke-width="0.6"/>
<line x1="522" y1="1074" x2="531.3" y2="1074" stroke="#000" stroke-width="0.6"/>
<line x1="531.3" y1="1074" x2="531.3" y2="1104" stroke="#000" stroke-width="0.6"/>
<text x="233.1" y="1486.6" font-size="15.7" textLength="292.9" lengthAdjust="spacingAndGlyphs">Module−trait relationships(<tspan font-weight="bold">TCGA</tspan>)</text>
<rect x="169.6" y="1519.6" width="37.6" height="31.06" fill="#00ffff"/>
<rect x="212.8" y="1519.6" width="191.1" height="31.06" fill="#cfe8ff"/>
<rect x="403.9" y="1519.6" width="192.7" height="31.06" fill="#ffd6cc"/>
<text x="163.5" y="1542.5" font-size="21.9" text-anchor="end">MEcyan</text>
<text x="308.35" y="1533" font-size="11" text-anchor="middle" fill="#111">−0.2</text>
<text x="308.35" y="1544.4" font-size="11" text-anchor="middle" fill="#111">(5e−07)</text>
<text x="500.25" y="1533" font-size="11" text-anchor="middle" fill="#111">0.2</text>
<text x="500.25" y="1544.4" font-size="11" text-anchor="middle" fill="#111">(5e−07)</text>
<rect x="169.6" y="1550.36" width="37.6" height="31.06" fill="#ff00ff"/>
<rect x="212.8" y="1550.36" width="191.1" height="31.06" fill="#c0e1ff"/>
<rect x="403.9" y="1550.36" width="192.7" height="31.06" fill="#ffcabd"/>
<text x="163.5" y="1573.26" font-size="21.9" text-anchor="end">MEmagenta</text>
<text x="308.35" y="1563.76" font-size="11" text-anchor="middle" fill="#111">−0.26</text>
<text x="308.35" y="1575.16" font-size="11" text-anchor="middle" fill="#111">(7e−11)</text>
<text x="500.25" y="1563.76" font-size="11" text-anchor="middle" fill="#111">0.26</text>
<text x="500.25" y="1575.16" font-size="11" text-anchor="middle" fill="#111">(7e−11)</text>
<rect x="169.6" y="1581.12" width="37.6" height="31.06" fill="#fa8072"/>
<rect x="212.8" y="1581.12" width="191.1" height="31.06" fill="#e2f1ff"/>
<rect x="403.9" y="1581.12" width="192.7" height="31.06" fill="#ffe7e0"/>
<text x="163.5" y="1604.02" font-size="21.9" text-anchor="end">MEsalmon</text>
<text x="308.35" y="1594.52" font-size="11" text-anchor="middle" fill="#111">−0.12</text>
<text x="308.35" y="1605.92" font-size="11" text-anchor="middle" fill="#111">(0.005)</text>
<text x="500.25" y="1594.52" font-size="11" text-anchor="middle" fill="#111">0.12</text>
<text x="500.25" y="1605.92" font-size="11" text-anchor="middle" fill="#111">(0.005)</text>
<rect x="169.6" y="1611.88" width="37.6" height="31.06" fill="#00ff00"/>
<rect x="212.8" y="1611.88" width="191.1" height="31.06" fill="#c7e5ff"/>
<rect x="403.9" y="1611.88" width="192.7" height="31.06" fill="#ffd0c4"/>
<text x="163.5" y="1634.78" font-size="21.9" text-anchor="end">MEgreen</text>
<text x="308.35" y="1625.28" font-size="11" text-anchor="middle" fill="#111">−0.23</text>
<text x="308.35" y="1636.68" font-size="11" text-anchor="middle" fill="#111">(8e−09)</text>
<text x="500.25" y="1625.28" font-size="11" text-anchor="middle" fill="#111">0.23</text>
<text x="500.25" y="1636.68" font-size="11" text-anchor="middle" fill="#111">(8e−09)</text>
<rect x="169.6" y="1642.64" width="37.6" height="31.06" fill="#ffc0cb"/>
<rect x="212.8" y="1642.64" width="191.1" height="31.06" fill="#fbfdff"/>
<rect x="403.9" y="1642.64" width="192.7" height="31.06" fill="#fffcfb"/>
<text x="163.5" y="1665.54" font-size="21.9" text-anchor="end">MEpink</text>
<text x="308.35" y="1656.04" font-size="11" text-anchor="middle" fill="#111">−0.016</text>
<text x="308.35" y="1667.44" font-size="11" text-anchor="middle" fill="#111">(0.7)</text>
<text x="500.25" y="1656.04" font-size="11" text-anchor="middle" fill="#111">0.016</text>
<text x="500.25" y="1667.44" font-size="11" text-anchor="middle" fill="#111">(0.7)</text>
<rect x="169.6" y="1673.4" width="37.6" height="31.06" fill="#999999"/>
<rect x="212.8" y="1673.4" width="191.1" height="31.06" fill="#cce7ff"/>
<rect x="403.9" y="1673.4" width="192.7" height="31.06" fill="#ffd4c9"/>
<text x="163.5" y="1696.3" font-size="21.9" text-anchor="end">MEgrey60</text>
<text x="308.35" y="1686.8" font-size="11" text-anchor="middle" fill="#111">−0.21</text>
<text x="308.35" y="1698.2" font-size="11" text-anchor="middle" fill="#111">(2e−07)</text>
<text x="500.25" y="1686.8" font-size="11" text-anchor="middle" fill="#111">0.21</text>
<text x="500.25" y="1698.2" font-size="11" text-anchor="middle" fill="#111">(2e−07)</text>
<rect x="169.6" y="1704.16" width="37.6" height="31.06" fill="#adff2f"/>
<rect x="212.8" y="1704.16" width="191.1" height="31.06" fill="#a5d4ff"/>
<rect x="403.9" y="1704.16" width="192.7" height="31.06" fill="#ffb4a1"/>
<text x="163.5" y="1727.06" font-size="21.9" text-anchor="end">MEgreenyellow</text>
<text x="308.35" y="1717.56" font-size="11" text-anchor="middle" fill="#111">−0.37</text>
<text x="308.35" y="1728.96" font-size="11" text-anchor="middle" fill="#111">(8e−21)</text>
<text x="500.25" y="1717.56" font-size="11" text-anchor="middle" fill="#111">0.37</text>
<text x="500.25" y="1728.96" font-size="11" text-anchor="middle" fill="#111">(8e−21)</text>
<rect x="169.6" y="1734.92" width="37.6" height="31.06" fill="#40e0d0"/>
<rect x="212.8" y="1734.92" width="191.1" height="31.06" fill="#86c6ff"/>
<rect x="403.9" y="1734.92" width="192.7" height="31.06" fill="#ff9980"/>
<text x="163.5" y="1757.82" font-size="21.9" text-anchor="end">MEturquoise</text>
<text x="308.35" y="1748.32" font-size="11" text-anchor="middle" fill="#111">−0.5</text>
<text x="308.35" y="1759.72" font-size="11" text-anchor="middle" fill="#111">(2e−39)</text>
<text x="500.25" y="1748.32" font-size="11" text-anchor="middle" fill="#111">0.5</text>
<text x="500.25" y="1759.72" font-size="11" text-anchor="middle" fill="#111">(2e−39)</text>
<rect x="169.6" y="1765.68" width="37.6" height="31.06" fill="#ffffe0"/>
<rect x="212.8" y="1765.68" width="191.1" height="31.06" fill="#c2e2ff"/>
<rect x="403.9" y="1765.68" width="192.7" height="31.06" fill="#ffccbf"/>
<text x="163.5" y="1788.58" font-size="21.9" text-anchor="end">MElightyellow</text>
<text x="308.35" y="1779.08" font-size="11" text-anchor="middle" fill="#111">−0.25</text>
<text x="308.35" y="1790.48" font-size="11" text-anchor="middle" fill="#111">(1e−09)</text>
<text x="500.25" y="1779.08" font-size="11" text-anchor="middle" fill="#111">0.25</text>
<text x="500.25" y="1790.48" font-size="11" text-anchor="middle" fill="#111">(1e−09)</text>
<rect x="169.6" y="1796.44" width="37.6" height="31.06" fill="#4169e1"/>
<rect x="212.8" y="1796.44" width="191.1" height="31.06" fill="#ddefff"/>
<rect x="403.9" y="1796.44" width="192.7" height="31.06" fill="#ffe2db"/>
<text x="163.5" y="1819.34" font-size="21.9" text-anchor="end">MEroyalblue</text>
<text x="308.35" y="1809.84" font-size="11" text-anchor="middle" fill="#111">−0.14</text>
<text x="308.35" y="1821.24" font-size="11" text-anchor="middle" fill="#111">(5e−04)</text>
<text x="500.25" y="1809.84" font-size="11" text-anchor="middle" fill="#111">0.14</text>
<text x="500.25" y="1821.24" font-size="11" text-anchor="middle" fill="#111">(5e−04)</text>
<rect x="169.6" y="1827.2" width="37.6" height="31.06" fill="#ff0000"/>
<rect x="212.8" y="1827.2" width="191.1" height="31.06" fill="#ffc0b0"/>
<rect x="403.9" y="1827.2" width="192.7" height="31.06" fill="#b4dbff"/>
<text x="163.5" y="1850.1" font-size="21.9" text-anchor="end">MEred</text>
<text x="308.35" y="1840.6" font-size="11" text-anchor="middle" fill="#111">0.31</text>
<text x="308.35" y="1852" font-size="11" text-anchor="middle" fill="#111">(4e−15)</text>
<text x="500.25" y="1840.6" font-size="11" text-anchor="middle" fill="#111">−0.31</text>
<text x="500.25" y="1852" font-size="11" text-anchor="middle" fill="#111">(4e−15)</text>
<rect x="169.6" y="1857.96" width="37.6" height="31.06" fill="#a020f0"/>
<rect x="212.8" y="1857.96" width="191.1" height="31.06" fill="#c2e2ff"/>
<rect x="403.9" y="1857.96" width="192.7" height="31.06" fill="#ffccbf"/>
<text x="163.5" y="1880.86" font-size="21.9" text-anchor="end">MEpurple</text>
<text x="308.35" y="1871.36" font-size="11" text-anchor="middle" fill="#111">−0.25</text>
<text x="308.35" y="1882.76" font-size="11" text-anchor="middle" fill="#111">(1e−09)</text>
<text x="500.25" y="1871.36" font-size="11" text-anchor="middle" fill="#111">0.25</text>
<text x="500.25" y="1882.76" font-size="11" text-anchor="middle" fill="#111">(1e−09)</text>
<rect x="169.6" y="1888.72" width="37.6" height="31.06" fill="#0000ff"/>
<rect x="212.8" y="1888.72" width="191.1" height="31.06" fill="#ff5429"/>
<rect x="403.9" y="1888.72" width="192.7" height="31.06" fill="#349eff"/>
<text x="163.5" y="1911.62" font-size="21.9" text-anchor="end">MEblue</text>
<text x="308.35" y="1902.12" font-size="11" text-anchor="middle" fill="#111">0.84</text>
<text x="308.35" y="1913.52" font-size="11" text-anchor="middle" fill="#111">(1e−157)</text>
<text x="500.25" y="1902.12" font-size="11" text-anchor="middle" fill="#111">−0.84</text>
<text x="500.25" y="1913.52" font-size="11" text-anchor="middle" fill="#111">(1e−157)</text>
<rect x="169.6" y="1919.48" width="37.6" height="31.06" fill="#191970"/>
<rect x="212.8" y="1919.48" width="191.1" height="31.06" fill="#ffab96"/>
<rect x="403.9" y="1919.48" width="192.7" height="31.06" fill="#9cd0ff"/>
<text x="163.5" y="1942.38" font-size="21.9" text-anchor="end">MEmidnightblue</text>
<text x="308.35" y="1932.88" font-size="11" text-anchor="middle" fill="#111">0.41</text>
<text x="308.35" y="1944.28" font-size="11" text-anchor="middle" fill="#111">(2e−25)</text>
<text x="500.25" y="1932.88" font-size="11" text-anchor="middle" fill="#111">−0.41</text>
<text x="500.25" y="1944.28" font-size="11" text-anchor="middle" fill="#111">(2e−25)</text>
<rect x="169.6" y="1950.24" width="37.6" height="31.06" fill="#a52a2a"/>
<rect x="212.8" y="1950.24" width="191.1" height="31.06" fill="#ff9f87"/>
<rect x="403.9" y="1950.24" width="192.7" height="31.06" fill="#8dc9ff"/>
<text x="163.5" y="1973.14" font-size="21.9" text-anchor="end">MEbrown</text>
<text x="308.35" y="1963.64" font-size="11" text-anchor="middle" fill="#111">0.47</text>
<text x="308.35" y="1975.04" font-size="11" text-anchor="middle" fill="#111">(1e−33)</text>
<text x="500.25" y="1963.64" font-size="11" text-anchor="middle" fill="#111">−0.47</text>
<text x="500.25" y="1975.04" font-size="11" text-anchor="middle" fill="#111">(1e−33)</text>
<rect x="169.6" y="1981" width="37.6" height="31.06" fill="#d2b48c"/>
<rect x="212.8" y="1981" width="191.1" height="31.06" fill="#edf7ff"/>
<rect x="403.9" y="1981" width="192.7" height="31.06" fill="#fff0ec"/>
<text x="163.5" y="2003.9" font-size="21.9" text-anchor="end">MEtan</text>
<text x="308.35" y="1994.4" font-size="11" text-anchor="middle" fill="#111">−0.073</text>
<text x="308.35" y="2005.8" font-size="11" text-anchor="middle" fill="#111">(0.07)</text>
<text x="500.25" y="1994.4" font-size="11" text-anchor="middle" fill="#111">0.073</text>
<text x="500.25" y="2005.8" font-size="11" text-anchor="middle" fill="#111">(0.07)</text>
<rect x="169.6" y="2011.76" width="37.6" height="31.06" fill="#bebebe"/>
<rect x="212.8" y="2011.76" width="191.1" height="31.06" fill="#fff5f3"/>
<rect x="403.9" y="2011.76" width="192.7" height="31.06" fill="#f3f9ff"/>
<text x="163.5" y="2034.66" font-size="21.9" text-anchor="end">MEgrey</text>
<text x="308.35" y="2025.16" font-size="11" text-anchor="middle" fill="#111">0.048</text>
<text x="308.35" y="2036.56" font-size="11" text-anchor="middle" fill="#111">(0.2)</text>
<text x="500.25" y="2025.16" font-size="11" text-anchor="middle" fill="#111">−0.048</text>
<text x="500.25" y="2036.56" font-size="11" text-anchor="middle" fill="#111">(0.2)</text>
<rect x="212.8" y="1519.6" width="383.8" height="522.92" fill="none" stroke="#444" stroke-width="1.2"/>
<text transform="translate(313.5,2060) rotate(-45)" font-size="21.9" text-anchor="end">Normal</text>
<text transform="translate(507,2060.5) rotate(-45)" font-size="21.9" text-anchor="end">Tumor</text>
<rect x="607.9" y="1550.8" width="17.7" height="9.59" fill="#ff3705"/>
<rect x="607.9" y="1559.99" width="17.7" height="9.59" fill="#ff3f0f"/>
<rect x="607.9" y="1569.18" width="17.7" height="9.59" fill="#ff471a"/>
<rect x="607.9" y="1578.38" width="17.7" height="9.59" fill="#ff5024"/>
<rect x="607.9" y="1587.57" width="17.7" height="9.59" fill="#ff582e"/>
<rect x="607.9" y="1596.76" width="17.7" height="9.59" fill="#ff6038"/>
<rect x="607.9" y="1605.95" width="17.7" height="9.59" fill="#ff6842"/>
<rect x="607.9" y="1615.14" width="17.7" height="9.59" fill="#ff704c"/>
<rect x="607.9" y="1624.34" width="17.7" height="9.59" fill="#ff7857"/>
<rect x="607.9" y="1633.53" width="17.7" height="9.59" fill="#ff8161"/>
<rect x="607.9" y="1642.72" width="17.7" height="9.59" fill="#ff896b"/>
<rect x="607.9" y="1651.91" width="17.7" height="9.59" fill="#ff9175"/>
<rect x="607.9" y="1661.1" width="17.7" height="9.59" fill="#ff9980"/>
<rect x="607.9" y="1670.3" width="17.7" height="9.59" fill="#ffa18a"/>
<rect x="607.9" y="1679.49" width="17.7" height="9.59" fill="#ffa994"/>
<rect x="607.9" y="1688.68" width="17.7" height="9.59" fill="#ffb19e"/>
<rect x="607.9" y="1697.87" width="17.7" height="9.59" fill="#ffbaa8"/>
<rect x="607.9" y="1707.06" width="17.7" height="9.59" fill="#ffc2b2"/>
<rect x="607.9" y="1716.26" width="17.7" height="9.59" fill="#ffcabd"/>
<rect x="607.9" y="1725.45" width="17.7" height="9.59" fill="#ffd2c7"/>
<rect x="607.9" y="1734.64" width="17.7" height="9.59" fill="#ffdad1"/>
<rect x="607.9" y="1743.83" width="17.7" height="9.59" fill="#ffe2db"/>
<rect x="607.9" y="1753.02" width="17.7" height="9.59" fill="#ffebe6"/>
<rect x="607.9" y="1762.22" width="17.7" height="9.59" fill="#fff3f0"/>
<rect x="607.9" y="1771.41" width="17.7" height="9.59" fill="#fffbfa"/>
<rect x="607.9" y="1780.6" width="17.7" height="9.59" fill="#fafdff"/>
<rect x="607.9" y="1789.79" width="17.7" height="9.59" fill="#f0f8ff"/>
<rect x="607.9" y="1798.98" width="17.7" height="9.59" fill="#e7f4ff"/>
<rect x="607.9" y="1808.18" width="17.7" height="9.59" fill="#ddefff"/>
<rect x="607.9" y="1817.37" width="17.7" height="9.59" fill="#d3eaff"/>
<rect x="607.9" y="1826.56" width="17.7" height="9.59" fill="#cae6ff"/>
<rect x="607.9" y="1835.75" width="17.7" height="9.59" fill="#c0e1ff"/>
<rect x="607.9" y="1844.94" width="17.7" height="9.59" fill="#b6dcff"/>
<rect x="607.9" y="1854.14" width="17.7" height="9.59" fill="#add8ff"/>
<rect x="607.9" y="1863.33" width="17.7" height="9.59" fill="#a3d3ff"/>
<rect x="607.9" y="1872.52" width="17.7" height="9.59" fill="#99cfff"/>
<rect x="607.9" y="1881.71" width="17.7" height="9.59" fill="#90caff"/>
<rect x="607.9" y="1890.9" width="17.7" height="9.59" fill="#86c6ff"/>
<rect x="607.9" y="1900.1" width="17.7" height="9.59" fill="#7cc1ff"/>
<rect x="607.9" y="1909.29" width="17.7" height="9.59" fill="#73bcff"/>
<rect x="607.9" y="1918.48" width="17.7" height="9.59" fill="#69b8ff"/>
<rect x="607.9" y="1927.67" width="17.7" height="9.59" fill="#5fb3ff"/>
<rect x="607.9" y="1936.86" width="17.7" height="9.59" fill="#56aeff"/>
<rect x="607.9" y="1946.06" width="17.7" height="9.59" fill="#4caaff"/>
<rect x="607.9" y="1955.25" width="17.7" height="9.59" fill="#42a5ff"/>
<rect x="607.9" y="1964.44" width="17.7" height="9.59" fill="#39a1ff"/>
<rect x="607.9" y="1973.63" width="17.7" height="9.59" fill="#2f9cff"/>
<rect x="607.9" y="1982.82" width="17.7" height="9.59" fill="#2598ff"/>
<rect x="607.9" y="1992.02" width="17.7" height="9.59" fill="#1c93ff"/>
<rect x="607.9" y="2001.21" width="17.7" height="9.59" fill="#128eff"/>
<rect x="607.9" y="1550.8" width="17.7" height="459.6" fill="none" stroke="#333" stroke-width="1.1"/>
<line x1="625.6" y1="1550.8" x2="637.7" y2="1550.8" stroke="#333" stroke-width="1.2"/>
<text x="643" y="1557.8" font-size="20.4">1</text>
<line x1="625.6" y1="1665.7" x2="637.7" y2="1665.7" stroke="#333" stroke-width="1.2"/>
<text x="643" y="1672.7" font-size="20.4">0.5</text>
<line x1="625.6" y1="1780.6" x2="637.7" y2="1780.6" stroke="#333" stroke-width="1.2"/>
<text x="643" y="1787.6" font-size="20.4">0</text>
<line x1="625.6" y1="1895.5" x2="637.7" y2="1895.5" stroke="#333" stroke-width="1.2"/>
<text x="643" y="1902.5" font-size="20.4">−0.5</text>
<line x1="625.6" y1="2010.4" x2="637.7" y2="2010.4" stroke="#333" stroke-width="1.2"/>
<text x="643" y="2017.4" font-size="20.4">−1</text>
</svg></body></html>
